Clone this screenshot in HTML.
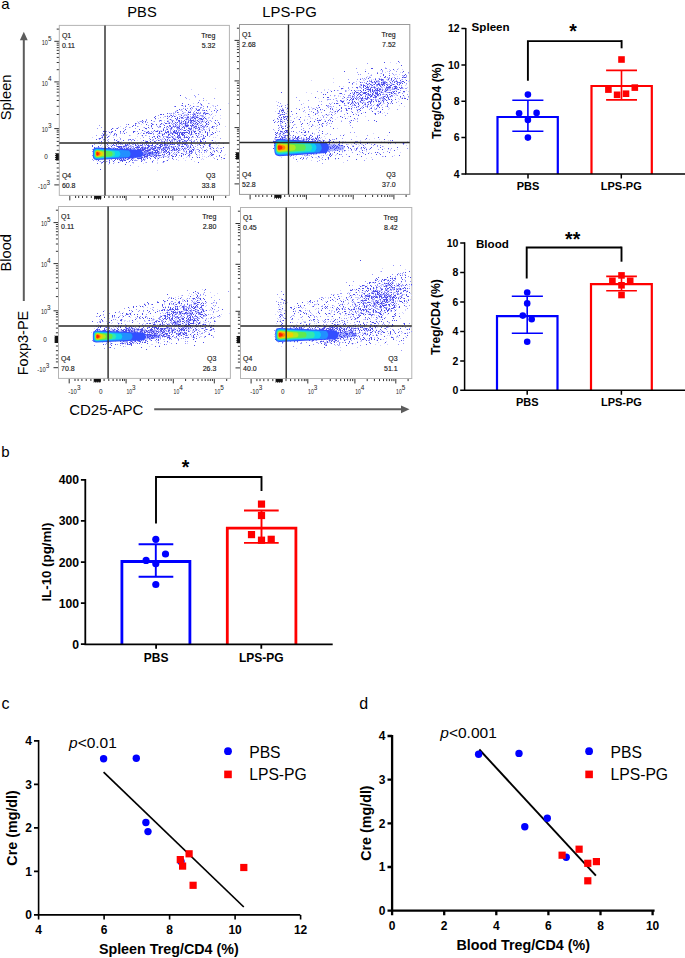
<!DOCTYPE html>
<html><head><meta charset="utf-8"><style>
html,body{margin:0;padding:0;background:#fff;}
body{width:685px;height:958px;overflow:hidden;}
svg{display:block;font-family:"Liberation Sans", sans-serif;}
</style></head><body>
<svg width="685" height="958" viewBox="0 0 685 958">
<defs><filter id="bl" x="-20%" y="-50%" width="140%" height="200%"><feGaussianBlur stdDeviation="0.55"/></filter></defs>
<rect width="685" height="958" fill="#fff"/>
<path d="M69.8 195.4v5M59.3 184.9h-5M126.1 195.4v5M59.3 128.6h-5M172.9 195.4v5M59.3 81.9h-5M213.5 195.4v5M59.3 41.3h-5M140.2 195.4v2.6M59.3 114.5h-2.6M148.5 195.4v2.6M59.3 106.3h-2.6M154.3 195.4v2.6M59.3 100.5h-2.6M158.8 195.4v2.6M59.3 95.9h-2.6M162.5 195.4v2.6M59.3 92.2h-2.6M165.7 195.4v2.6M59.3 89.1h-2.6M168.4 195.4v2.6M59.3 86.4h-2.6M170.8 195.4v2.6M59.3 84h-2.6M185.1 195.4v2.6M59.3 69.7h-2.6M192.3 195.4v2.6M59.3 62.5h-2.6M197.3 195.4v2.6M59.3 57.4h-2.6M201.3 195.4v2.6M59.3 53.5h-2.6M204.5 195.4v2.6M59.3 50.3h-2.6M207.2 195.4v2.6M59.3 47.6h-2.6M209.6 195.4v2.6M59.3 45.2h-2.6M211.6 195.4v2.6M59.3 43.2h-2.6M225.7 195.4v2.6M59.3 29.1h-2.6M104.5 195.4v2.6M59.3 150.3h-2.6M109 195.4v2.6M59.3 145.7h-2.6M113.3 195.4v2.6M59.3 141.4h-2.6M117.1 195.4v2.6M59.3 137.6h-2.6M120.2 195.4v2.6M59.3 134.6h-2.6M122.7 195.4v2.6M59.3 132.1h-2.6M124.5 195.4v2.6M59.3 130.3h-2.6M91.3 195.4v2.6M59.3 163.4h-2.6M86.8 195.4v2.6M59.3 168h-2.6M82.5 195.4v2.6M59.3 172.2h-2.6M78.7 195.4v2.6M59.3 176h-2.6M75.6 195.4v2.6M59.3 179.1h-2.6" stroke="#1a1a1a" stroke-width="0.9" fill="none"/>
<path d="M94.1 195.4h7.2v3.2l-1 1.3l-1-1.3l-1 1.3l-1-1.3l-1 1.3l-1-1.3l-1.2 1.3Z" fill="#111"/>
<path d="M59.3 153.2v7.2h-3.2l-1.3-1l1.3-1l-1.3-1l1.3-1l-1.3-1l1.3-1l-1.3-1.2Z" fill="#111"/>
<rect x="59.3" y="25.4" width="170.1" height="170" fill="none" stroke="#b4b4b4" stroke-width="1"/>
<text x="41.7" y="44.9" font-size="6.4" fill="#222"><tspan textLength="6.2" lengthAdjust="spacingAndGlyphs">10</tspan><tspan font-size="6.4" dy="-4.2">5</tspan></text>
<text x="41.7" y="85.5" font-size="6.4" fill="#222"><tspan textLength="6.2" lengthAdjust="spacingAndGlyphs">10</tspan><tspan font-size="6.4" dy="-4.2">4</tspan></text>
<text x="41.7" y="132.2" font-size="6.4" fill="#222"><tspan textLength="6.2" lengthAdjust="spacingAndGlyphs">10</tspan><tspan font-size="6.4" dy="-4.2">3</tspan></text>
<text x="38" y="188.9" font-size="6.4" fill="#222"><tspan textLength="8.5" lengthAdjust="spacingAndGlyphs">-10</tspan><tspan font-size="6.4" dy="-4.2">3</tspan></text>
<text x="47.7" y="159.1" font-size="6.4" fill="#222" text-anchor="end">0</text>
<path d="M250.1 194.4v5M239.5 183.9h-5M306.4 194.4v5M239.5 127.6h-5M353.2 194.4v5M239.5 80.9h-5M393.9 194.4v5M239.5 40.4h-5M320.5 194.4v2.6M239.5 113.6h-2.6M328.8 194.4v2.6M239.5 105.4h-2.6M334.6 194.4v2.6M239.5 99.5h-2.6M339.1 194.4v2.6M239.5 95h-2.6M342.8 194.4v2.6M239.5 91.3h-2.6M346 194.4v2.6M239.5 88.2h-2.6M348.7 194.4v2.6M239.5 85.5h-2.6M351.1 194.4v2.6M239.5 83.1h-2.6M365.5 194.4v2.6M239.5 68.7h-2.6M372.6 194.4v2.6M239.5 61.6h-2.6M377.7 194.4v2.6M239.5 56.5h-2.6M381.6 194.4v2.6M239.5 52.6h-2.6M384.9 194.4v2.6M239.5 49.4h-2.6M387.6 194.4v2.6M239.5 46.7h-2.6M389.9 194.4v2.6M239.5 44.3h-2.6M392 194.4v2.6M239.5 42.3h-2.6M406.1 194.4v2.6M239.5 28.2h-2.6M284.7 194.4v2.6M239.5 149.3h-2.6M289.3 194.4v2.6M239.5 144.7h-2.6M293.6 194.4v2.6M239.5 140.4h-2.6M297.4 194.4v2.6M239.5 136.7h-2.6M300.4 194.4v2.6M239.5 133.6h-2.6M302.9 194.4v2.6M239.5 131.1h-2.6M304.7 194.4v2.6M239.5 129.3h-2.6M271.6 194.4v2.6M239.5 162.4h-2.6M267 194.4v2.6M239.5 167h-2.6M262.7 194.4v2.6M239.5 171.2h-2.6M258.9 194.4v2.6M239.5 175h-2.6M255.8 194.4v2.6M239.5 178.1h-2.6" stroke="#1a1a1a" stroke-width="0.9" fill="none"/>
<path d="M274.3 194.4h7.2v3.2l-1 1.3l-1-1.3l-1 1.3l-1-1.3l-1 1.3l-1-1.3l-1.2 1.3Z" fill="#111"/>
<path d="M239.5 152.2v7.2h-3.2l-1.3-1l1.3-1l-1.3-1l1.3-1l-1.3-1l1.3-1l-1.3-1.2Z" fill="#111"/>
<rect x="239.5" y="24.5" width="170.3" height="169.9" fill="none" stroke="#9a9a9a" stroke-width="1"/>
<path d="M69.2 378.4v5M58.5 367.7h-5M126.1 378.4v5M58.5 310.8h-5M173.3 378.4v5M58.5 263.6h-5M214.3 378.4v5M58.5 222.6h-5M140.3 378.4v2.6M58.5 296.6h-2.6M148.6 378.4v2.6M58.5 288.3h-2.6M154.5 378.4v2.6M58.5 282.4h-2.6M159.1 378.4v2.6M58.5 277.8h-2.6M162.8 378.4v2.6M58.5 274.1h-2.6M166 378.4v2.6M58.5 270.9h-2.6M168.7 378.4v2.6M58.5 268.2h-2.6M171.1 378.4v2.6M58.5 265.8h-2.6M185.6 378.4v2.6M58.5 251.3h-2.6M192.9 378.4v2.6M58.5 244h-2.6M198 378.4v2.6M58.5 238.9h-2.6M202 378.4v2.6M58.5 234.9h-2.6M205.2 378.4v2.6M58.5 231.7h-2.6M208 378.4v2.6M58.5 228.9h-2.6M210.3 378.4v2.6M58.5 226.6h-2.6M212.4 378.4v2.6M58.5 224.5h-2.6M226.7 378.4v2.6M58.5 210.2h-2.6M104.1 378.4v2.6M58.5 332.8h-2.6M108.8 378.4v2.6M58.5 328.1h-2.6M113.1 378.4v2.6M58.5 323.8h-2.6M116.9 378.4v2.6M58.5 320h-2.6M120 378.4v2.6M58.5 316.9h-2.6M122.5 378.4v2.6M58.5 314.4h-2.6M124.3 378.4v2.6M58.5 312.6h-2.6M90.9 378.4v2.6M58.5 346h-2.6M86.2 378.4v2.6M58.5 350.7h-2.6M81.9 378.4v2.6M58.5 355h-2.6M78.1 378.4v2.6M58.5 358.8h-2.6M75 378.4v2.6M58.5 361.9h-2.6" stroke="#1a1a1a" stroke-width="0.9" fill="none"/>
<path d="M93.7 378.4h7.2v3.2l-1 1.3l-1-1.3l-1 1.3l-1-1.3l-1 1.3l-1-1.3l-1.2 1.3Z" fill="#111"/>
<path d="M58.5 335.8v7.2h-3.2l-1.3-1l1.3-1l-1.3-1l1.3-1l-1.3-1l1.3-1l-1.3-1.2Z" fill="#111"/>
<rect x="58.5" y="206.5" width="171.9" height="171.9" fill="none" stroke="#b4b4b4" stroke-width="1"/>
<text x="40.9" y="226.2" font-size="6.4" fill="#222"><tspan textLength="6.2" lengthAdjust="spacingAndGlyphs">10</tspan><tspan font-size="6.4" dy="-4.2">5</tspan></text>
<text x="40.9" y="267.2" font-size="6.4" fill="#222"><tspan textLength="6.2" lengthAdjust="spacingAndGlyphs">10</tspan><tspan font-size="6.4" dy="-4.2">4</tspan></text>
<text x="40.9" y="314.4" font-size="6.4" fill="#222"><tspan textLength="6.2" lengthAdjust="spacingAndGlyphs">10</tspan><tspan font-size="6.4" dy="-4.2">3</tspan></text>
<text x="37.2" y="371.7" font-size="6.4" fill="#222"><tspan textLength="8.5" lengthAdjust="spacingAndGlyphs">-10</tspan><tspan font-size="6.4" dy="-4.2">3</tspan></text>
<text x="46.9" y="341.7" font-size="6.4" fill="#222" text-anchor="end">0</text>
<text x="126.4" y="393.7" font-size="6.4" fill="#222"><tspan textLength="5.6" lengthAdjust="spacingAndGlyphs">10</tspan><tspan font-size="6.4" dy="-4.2">3</tspan></text>
<text x="173.6" y="393.7" font-size="6.4" fill="#222"><tspan textLength="5.6" lengthAdjust="spacingAndGlyphs">10</tspan><tspan font-size="6.4" dy="-4.2">4</tspan></text>
<text x="214.6" y="393.7" font-size="6.4" fill="#222"><tspan textLength="5.6" lengthAdjust="spacingAndGlyphs">10</tspan><tspan font-size="6.4" dy="-4.2">5</tspan></text>
<text x="68.3" y="393.7" font-size="6.4" fill="#222"><tspan textLength="8.6" lengthAdjust="spacingAndGlyphs">-10</tspan><tspan font-size="6.4" dy="-4.2">3</tspan></text>
<text x="100.8" y="393.7" font-size="6.4" fill="#222" text-anchor="middle">0</text>
<path d="M251.1 378.5v5M240.5 367.9h-5M307.8 378.5v5M240.5 311.3h-5M354.9 378.5v5M240.5 264.3h-5M395.8 378.5v5M240.5 223.5h-5M322 378.5v2.6M240.5 297.2h-2.6M330.3 378.5v2.6M240.5 288.9h-2.6M336.2 378.5v2.6M240.5 283h-2.6M340.7 378.5v2.6M240.5 278.4h-2.6M344.5 378.5v2.6M240.5 274.7h-2.6M347.6 378.5v2.6M240.5 271.6h-2.6M350.3 378.5v2.6M240.5 268.9h-2.6M352.7 378.5v2.6M240.5 266.5h-2.6M367.2 378.5v2.6M240.5 252h-2.6M374.4 378.5v2.6M240.5 244.8h-2.6M379.5 378.5v2.6M240.5 239.7h-2.6M383.5 378.5v2.6M240.5 235.8h-2.6M386.7 378.5v2.6M240.5 232.6h-2.6M389.4 378.5v2.6M240.5 229.8h-2.6M391.8 378.5v2.6M240.5 227.5h-2.6M393.9 378.5v2.6M240.5 225.4h-2.6M408.1 378.5v2.6M240.5 211.2h-2.6M286 378.5v2.6M240.5 333.1h-2.6M290.6 378.5v2.6M240.5 328.5h-2.6M294.9 378.5v2.6M240.5 324.2h-2.6M298.7 378.5v2.6M240.5 320.4h-2.6M301.8 378.5v2.6M240.5 317.3h-2.6M304.3 378.5v2.6M240.5 314.8h-2.6M306.1 378.5v2.6M240.5 313h-2.6M272.8 378.5v2.6M240.5 346.3h-2.6M268.1 378.5v2.6M240.5 350.9h-2.6M263.8 378.5v2.6M240.5 355.2h-2.6M260 378.5v2.6M240.5 359h-2.6M256.9 378.5v2.6M240.5 362.1h-2.6" stroke="#1a1a1a" stroke-width="0.9" fill="none"/>
<path d="M275.6 378.5h7.2v3.2l-1 1.3l-1-1.3l-1 1.3l-1-1.3l-1 1.3l-1-1.3l-1.2 1.3Z" fill="#111"/>
<path d="M240.5 336.1v7.2h-3.2l-1.3-1l1.3-1l-1.3-1l1.3-1l-1.3-1l1.3-1l-1.3-1.2Z" fill="#111"/>
<rect x="240.5" y="207.5" width="171.3" height="171" fill="none" stroke="#b4b4b4" stroke-width="1"/>
<text x="308.1" y="393.8" font-size="6.4" fill="#222"><tspan textLength="5.6" lengthAdjust="spacingAndGlyphs">10</tspan><tspan font-size="6.4" dy="-4.2">3</tspan></text>
<text x="355.2" y="393.8" font-size="6.4" fill="#222"><tspan textLength="5.6" lengthAdjust="spacingAndGlyphs">10</tspan><tspan font-size="6.4" dy="-4.2">4</tspan></text>
<text x="396.1" y="393.8" font-size="6.4" fill="#222"><tspan textLength="5.6" lengthAdjust="spacingAndGlyphs">10</tspan><tspan font-size="6.4" dy="-4.2">5</tspan></text>
<text x="250.2" y="393.8" font-size="6.4" fill="#222"><tspan textLength="8.6" lengthAdjust="spacingAndGlyphs">-10</tspan><tspan font-size="6.4" dy="-4.2">3</tspan></text>
<text x="282.7" y="393.8" font-size="6.4" fill="#222" text-anchor="middle">0</text>
<path d="M172 331.5h1M322 148.5h1M383 293.5h1M279 111.5h1M323 341.5h1M408 97.5h1M328 321.5h1M191 302.5h1M381 86.5h1M135 154.5h1M290 140.5h1M296 145.5h1M147 307.5h1M344 147.5h1M311 315.5h1M186 136.5h1M334 306.5h1M117 337.5h1M294 328.5h1M313 115.5h1M120 337.5h1M324 330.5h1M334 112.5h1M194 304.5h1M318 146.5h1M127 337.5h1M137 148.5h1M186 145.5h1M287 131.5h1M357 299.5h1M141 338.5h1M378 283.5h1M179 336.5h1M352 295.5h1M395 143.5h1M175 132.5h1M314 141.5h1M313 140.5h1M399 105.5h1M153 149.5h1M137 134.5h1M97 156.5h1M124 133.5h1M364 294.5h1M326 134.5h1M211 154.5h1M110 332.5h1M318 111.5h1M157 331.5h1M145 151.5h1M304 148.5h1M378 99.5h1M326 336.5h1M344 339.5h1M178 129.5h1M281 137.5h1M372 308.5h1M126 162.5h1M176 323.5h1M129 334.5h1M387 288.5h1M160 333.5h1M140 151.5h1M399 287.5h1M292 142.5h1M131 153.5h1M407 290.5h1M184 326.5h1M133 332.5h1M323 337.5h1M317 327.5h1M146 150.5h1M139 156.5h1M322 330.5h1M193 128.5h1M203 122.5h1M370 102.5h1M124 341.5h1M325 147.5h1M188 316.5h1M130 151.5h1M181 144.5h1M149 140.5h1M142 148.5h1M335 159.5h1M307 325.5h1M187 135.5h1M371 306.5h1M105 340.5h1M360 148.5h1M280 320.5h1M323 338.5h1M358 112.5h1M111 337.5h1M371 322.5h1M396 93.5h1M182 334.5h1M283 118.5h1M304 336.5h1M176 321.5h1M164 153.5h1M388 327.5h1M342 303.5h1M304 130.5h1M180 148.5h1M306 325.5h1M121 148.5h1M304 326.5h1M328 337.5h1M377 298.5h1M391 295.5h1M109 151.5h1M162 162.5h1M343 329.5h1M209 127.5h1M348 317.5h1M379 302.5h1M167 326.5h1M330 333.5h1M315 148.5h1M187 315.5h1M297 326.5h1M396 309.5h1M342 94.5h1M332 337.5h1M360 90.5h1M191 336.5h1M150 154.5h1M279 335.5h1M328 330.5h1M281 132.5h1M119 335.5h1M374 337.5h1M173 328.5h1M293 140.5h1M374 282.5h1M353 331.5h1M396 290.5h1M395 281.5h1M282 120.5h1M314 133.5h1M171 139.5h1M337 110.5h1M324 327.5h1M282 306.5h1M290 139.5h1M379 294.5h1M128 146.5h1M183 307.5h1M352 290.5h1M150 335.5h1M400 152.5h1M383 89.5h1M392 77.5h1M328 157.5h1M283 126.5h1M327 332.5h1M166 156.5h1M169 147.5h1M402 295.5h1M108 328.5h1M120 155.5h1M192 130.5h1M173 133.5h1M158 135.5h1M157 334.5h1M173 129.5h1M127 149.5h1M180 335.5h1M149 148.5h1M306 145.5h1M181 331.5h1M370 75.5h1M348 116.5h1M182 330.5h1M407 87.5h1M285 119.5h1M124 145.5h1M383 98.5h1M379 298.5h1M124 156.5h1M392 82.5h1M405 85.5h1M142 150.5h1M127 313.5h1M325 344.5h1M199 323.5h1M177 316.5h1M119 160.5h1M168 321.5h1M189 130.5h1M145 334.5h1M130 135.5h1M148 151.5h1M370 95.5h1M350 298.5h1M346 332.5h1M164 155.5h1M188 122.5h1M103 158.5h1M147 148.5h1M166 148.5h1M321 333.5h1M178 137.5h1M404 143.5h1M170 150.5h1M331 316.5h1M149 150.5h1M359 145.5h1M285 332.5h1M301 331.5h1M307 152.5h1M354 105.5h1M143 123.5h1M171 330.5h1M122 333.5h1M275 136.5h1M319 101.5h1M216 144.5h1M326 145.5h1M365 306.5h1M396 79.5h1M397 301.5h1M274 334.5h1M183 311.5h1M186 117.5h1M204 151.5h1M186 313.5h1M364 85.5h1M200 336.5h1M109 159.5h1M384 148.5h1M330 334.5h1M95 151.5h1M293 141.5h1M377 92.5h1M364 150.5h1M345 340.5h1M214 325.5h1M379 95.5h1M160 147.5h1M374 331.5h1M198 151.5h1M280 124.5h1M185 144.5h1M193 129.5h1M124 340.5h1M404 97.5h1M357 111.5h1M330 329.5h1M159 333.5h1M187 156.5h1M383 103.5h1M371 74.5h1M334 332.5h1M186 125.5h1M325 336.5h1M137 152.5h1M165 316.5h1M102 337.5h1M104 336.5h1M376 329.5h1M179 149.5h1M394 296.5h1M206 126.5h1M363 311.5h1M329 99.5h1M143 334.5h1M132 153.5h1M183 121.5h1M302 153.5h1M312 132.5h1M383 92.5h1M125 338.5h1M186 299.5h1M293 158.5h1M290 143.5h1M141 141.5h1M183 301.5h1M185 339.5h1M153 333.5h1M353 329.5h1M172 322.5h1M275 138.5h1M359 308.5h1M159 335.5h1M393 89.5h1M213 336.5h1M127 338.5h1M389 108.5h1M403 313.5h1M198 127.5h1M101 151.5h1M181 314.5h1M361 94.5h1M165 330.5h1M311 330.5h1M387 301.5h1M154 334.5h1M396 286.5h1M126 155.5h1M182 123.5h1M352 100.5h1M354 148.5h1M144 150.5h1M174 138.5h1M132 335.5h1M302 150.5h1M363 99.5h1M327 335.5h1M374 292.5h1M198 307.5h1M306 146.5h1M181 114.5h1M402 285.5h1M305 308.5h1M126 336.5h1M199 114.5h1M340 154.5h1M371 314.5h1M199 151.5h1M348 309.5h1M364 302.5h1M322 328.5h1M202 126.5h1M401 285.5h1M195 134.5h1M162 321.5h1M121 157.5h1M386 297.5h1M322 305.5h1M176 141.5h1M101 335.5h1M401 79.5h1M117 148.5h1M97 161.5h1M120 161.5h1M395 277.5h1M312 143.5h1M287 326.5h1M116 331.5h1M212 151.5h1M330 154.5h1M386 299.5h1M97 332.5h1M95 154.5h1M386 79.5h1M201 336.5h1M140 339.5h1M385 310.5h1M323 340.5h1M352 146.5h1M200 309.5h1M344 104.5h1M169 342.5h1M174 147.5h1M351 332.5h1M330 328.5h1M307 334.5h1M193 332.5h1M107 342.5h1M389 297.5h1M397 300.5h1M404 106.5h1M134 154.5h1M371 100.5h1M108 148.5h1M286 292.5h1M354 302.5h1M380 99.5h1M282 325.5h1M281 138.5h1M389 292.5h1M115 338.5h1M163 330.5h1M160 325.5h1M185 326.5h1M398 294.5h1M191 110.5h1M373 82.5h1M316 142.5h1M358 100.5h1M171 311.5h1M121 340.5h1M333 305.5h1M199 124.5h1M110 333.5h1M350 314.5h1M311 331.5h1M186 126.5h1M372 83.5h1M342 101.5h1M144 332.5h1M341 339.5h1M305 153.5h1M178 322.5h1M355 113.5h1M99 161.5h1M150 145.5h1M308 125.5h1M111 143.5h1M336 107.5h1M169 329.5h1M384 94.5h1M187 123.5h1M171 332.5h1M175 122.5h1M123 153.5h1M334 111.5h1M125 336.5h1M376 82.5h1M185 323.5h1M184 333.5h1M314 146.5h1M155 119.5h1M311 93.5h1M156 156.5h1M166 330.5h1M157 158.5h1M379 93.5h1M378 286.5h1M286 109.5h1M100 322.5h1M129 330.5h1M111 131.5h1M143 150.5h1M302 147.5h1M210 309.5h1M331 337.5h1M191 118.5h1M351 144.5h1M398 299.5h1M349 97.5h1M288 140.5h1M308 302.5h1M292 335.5h1M212 303.5h1M122 133.5h1M356 297.5h1M102 342.5h1M146 332.5h1M135 155.5h1M168 122.5h1M303 153.5h1M119 340.5h1M323 336.5h1M386 87.5h1M398 85.5h1M362 142.5h1M118 159.5h1M144 328.5h1M133 331.5h1M372 90.5h1M363 328.5h1M127 151.5h1M328 328.5h1M128 330.5h1M149 128.5h1M380 100.5h1M203 146.5h1M388 87.5h1M178 303.5h1M310 147.5h1M132 157.5h1M223 147.5h1M175 316.5h1M173 315.5h1M176 149.5h1M301 153.5h1M319 339.5h1M112 333.5h1M277 108.5h1M337 148.5h1M373 314.5h1M361 292.5h1M183 123.5h1M168 330.5h1M126 339.5h1M130 147.5h1M367 87.5h1M204 327.5h1M395 74.5h1M347 144.5h1M335 341.5h1M183 327.5h1M172 151.5h1M288 332.5h1M302 338.5h1M198 298.5h1M123 330.5h1M195 334.5h1M304 119.5h1M304 143.5h1M375 80.5h1M373 133.5h1M281 117.5h1M186 322.5h1M311 341.5h1M139 334.5h1M300 142.5h1M334 326.5h1M169 133.5h1M108 335.5h1M344 146.5h1M367 319.5h1M154 338.5h1M358 92.5h1M388 290.5h1M161 140.5h1M328 316.5h1M167 145.5h1M203 136.5h1M158 130.5h1M177 324.5h1M380 92.5h1M129 155.5h1M372 85.5h1M181 120.5h1M170 319.5h1M360 327.5h1M285 140.5h1M204 322.5h1M133 326.5h1M149 329.5h1M326 341.5h1M149 146.5h1M281 118.5h1M341 333.5h1M282 147.5h1M162 326.5h1M335 331.5h1M201 308.5h1M330 108.5h1M110 158.5h1M213 157.5h1M382 85.5h1M372 100.5h1M360 78.5h1M137 331.5h1M166 126.5h1M168 133.5h1M305 112.5h1M154 152.5h1M128 147.5h1M372 300.5h1M319 153.5h1M282 110.5h1M124 151.5h1M121 330.5h1M393 283.5h1M352 103.5h1M190 149.5h1M353 146.5h1M170 325.5h1M160 133.5h1M305 321.5h1M143 307.5h1M373 306.5h1M154 146.5h1M95 331.5h1M329 328.5h1M305 156.5h1M142 337.5h1M195 130.5h1M171 119.5h1M184 315.5h1M322 145.5h1M301 334.5h1M177 306.5h1M321 125.5h1M126 342.5h1M188 312.5h1M324 115.5h1M329 342.5h1M365 99.5h1M365 116.5h1M154 335.5h1M207 123.5h1M343 327.5h1M281 123.5h1M367 88.5h1M295 310.5h1M279 145.5h1M121 335.5h1M324 136.5h1M377 107.5h1M286 148.5h1M369 143.5h1M404 77.5h1M171 148.5h1M172 136.5h1M212 140.5h1M163 124.5h1M286 312.5h1M119 152.5h1M393 292.5h1M388 324.5h1M389 335.5h1M188 321.5h1M186 311.5h1M325 114.5h1M191 312.5h1M130 149.5h1M185 114.5h1M382 326.5h1M392 289.5h1M189 155.5h1M396 340.5h1M179 139.5h1M316 330.5h1M167 149.5h1M186 140.5h1M194 123.5h1M124 334.5h1M363 100.5h1M153 318.5h1M210 156.5h1M362 297.5h1M305 116.5h1M137 328.5h1M143 330.5h1M317 139.5h1M114 331.5h1M189 147.5h1M396 94.5h1M179 320.5h1M137 144.5h1M216 130.5h1M184 114.5h1M351 329.5h1M394 86.5h1M135 327.5h1M288 336.5h1M344 315.5h1M393 86.5h1M370 319.5h1M383 339.5h1M313 154.5h1M278 309.5h1M301 148.5h1M361 286.5h1M111 330.5h1M164 141.5h1M198 297.5h1M214 302.5h1M186 127.5h1M180 110.5h1M105 137.5h1M304 330.5h1M407 332.5h1M125 331.5h1M328 115.5h1M156 153.5h1M188 153.5h1M102 339.5h1M128 157.5h1M403 75.5h1M177 135.5h1M352 327.5h1M183 323.5h1M133 154.5h1M163 150.5h1M144 333.5h1M179 123.5h1M328 150.5h1M279 337.5h1M154 319.5h1M114 317.5h1M177 132.5h1M165 334.5h1M207 126.5h1M161 335.5h1M124 331.5h1M390 303.5h1M168 332.5h1M366 325.5h1M191 126.5h1M163 155.5h1M288 134.5h1M212 329.5h1M151 334.5h1M115 158.5h1M368 89.5h1M193 136.5h1M392 89.5h1M317 143.5h1M119 150.5h1M185 112.5h1M280 130.5h1M181 153.5h1M395 90.5h1M308 145.5h1M152 146.5h1M194 106.5h1M168 327.5h1M370 333.5h1M180 317.5h1M344 100.5h1M146 154.5h1M394 95.5h1M357 106.5h1M357 341.5h1M110 148.5h1M202 109.5h1M280 317.5h1M289 145.5h1M308 328.5h1M344 337.5h1M206 322.5h1M197 333.5h1M139 157.5h1M382 94.5h1M176 330.5h1M199 316.5h1M331 112.5h1M144 329.5h1M186 131.5h1M327 301.5h1M323 333.5h1M169 317.5h1M141 337.5h1M127 329.5h1M343 88.5h1M307 119.5h1M312 338.5h1M335 328.5h1M167 338.5h1M172 146.5h1M349 294.5h1M303 139.5h1M105 154.5h1M172 318.5h1M210 147.5h1M191 120.5h1M304 339.5h1M296 149.5h1M392 84.5h1M160 332.5h1M314 323.5h1M304 149.5h1M294 316.5h1M293 335.5h1M373 86.5h1M188 295.5h1M192 107.5h1M313 319.5h1M167 334.5h1M370 91.5h1M347 97.5h1M145 147.5h1M167 128.5h1M125 151.5h1M178 160.5h1M291 148.5h1M177 129.5h1M149 333.5h1M190 323.5h1M315 330.5h1M194 118.5h1M329 330.5h1M359 302.5h1M96 153.5h1M341 296.5h1M292 138.5h1M164 133.5h1M368 90.5h1M144 157.5h1M150 150.5h1M198 325.5h1M386 341.5h1M101 147.5h1M187 322.5h1M135 160.5h1M191 140.5h1M189 157.5h1M356 318.5h1M309 122.5h1M327 337.5h1M161 155.5h1M393 282.5h1M279 137.5h1M152 344.5h1M296 117.5h1M283 139.5h1M121 153.5h1M160 131.5h1M171 123.5h1M170 153.5h1M149 152.5h1M386 106.5h1M379 303.5h1M123 341.5h1M161 151.5h1M125 330.5h1M141 336.5h1M206 127.5h1M325 148.5h1M356 90.5h1M133 144.5h1M320 328.5h1M387 290.5h1M130 148.5h1M279 112.5h1M363 96.5h1M354 328.5h1M208 121.5h1M198 115.5h1M401 86.5h1M163 326.5h1M98 153.5h1M186 132.5h1M120 313.5h1M132 156.5h1M176 133.5h1M294 306.5h1M357 327.5h1M330 327.5h1M322 333.5h1M297 138.5h1M123 332.5h1M306 148.5h1M356 107.5h1M386 294.5h1M176 131.5h1M118 155.5h1M116 317.5h1M146 148.5h1M384 291.5h1M118 152.5h1M120 126.5h1M287 330.5h1M408 91.5h1M174 314.5h1M295 333.5h1M390 326.5h1M358 107.5h1M384 336.5h1M138 328.5h1M130 332.5h1M96 326.5h1M186 121.5h1M315 157.5h1M367 95.5h1M373 295.5h1M174 150.5h1M112 322.5h1M355 334.5h1M166 335.5h1M379 112.5h1M299 142.5h1M170 129.5h1M173 316.5h1M335 119.5h1M332 321.5h1M344 328.5h1M334 334.5h1M162 336.5h1M157 320.5h1M377 86.5h1M134 148.5h1M163 152.5h1M204 120.5h1M379 139.5h1M209 310.5h1M277 119.5h1M294 143.5h1M387 97.5h1M377 80.5h1M139 149.5h1M388 305.5h1M386 300.5h1M354 94.5h1M122 157.5h1M187 132.5h1M393 304.5h1M366 312.5h1M113 147.5h1M352 93.5h1M216 109.5h1M358 335.5h1M274 139.5h1M160 146.5h1M287 141.5h1M290 152.5h1M192 323.5h1M129 152.5h1M192 136.5h1M153 121.5h1M132 334.5h1M406 77.5h1M319 134.5h1M215 115.5h1M194 338.5h1M120 329.5h1M176 148.5h1M326 328.5h1M184 132.5h1M184 138.5h1M310 134.5h1M127 321.5h1M152 327.5h1M165 328.5h1M343 86.5h1M328 335.5h1M365 318.5h1M307 332.5h1M322 320.5h1M293 138.5h1M142 146.5h1M365 308.5h1M374 338.5h1M399 74.5h1M177 142.5h1M367 104.5h1M149 332.5h1M108 157.5h1M139 338.5h1M131 336.5h1M203 159.5h1M284 310.5h1M313 336.5h1M191 130.5h1M160 136.5h1M176 147.5h1M173 136.5h1M156 146.5h1M124 147.5h1M305 331.5h1M316 146.5h1M350 96.5h1M346 330.5h1M137 157.5h1M366 85.5h1M113 155.5h1M203 112.5h1M102 150.5h1M347 328.5h1M334 331.5h1M202 117.5h1M405 336.5h1M183 106.5h1M208 332.5h1M329 143.5h1M101 157.5h1M388 107.5h1M378 81.5h1M144 148.5h1M375 319.5h1M368 301.5h1M147 317.5h1M175 130.5h1M334 152.5h1M195 116.5h1M375 291.5h1M118 324.5h1M350 332.5h1M211 140.5h1M383 284.5h1M360 334.5h1M113 149.5h1M115 156.5h1M141 155.5h1M143 148.5h1M190 120.5h1M319 119.5h1M324 89.5h1M399 83.5h1M297 342.5h1M325 138.5h1M158 331.5h1M387 135.5h1M142 335.5h1M134 340.5h1M328 89.5h1M172 154.5h1M106 341.5h1M162 156.5h1M126 157.5h1M393 325.5h1M295 329.5h1M182 125.5h1M122 160.5h1M194 316.5h1M119 154.5h1M195 137.5h1M175 317.5h1M381 141.5h1M337 117.5h1M317 148.5h1M334 335.5h1M279 148.5h1M391 301.5h1M160 137.5h1M208 145.5h1M197 118.5h1M382 311.5h1M371 317.5h1M114 332.5h1M153 152.5h1M373 79.5h1M125 333.5h1M364 313.5h1M279 328.5h1M321 155.5h1M288 138.5h1M386 283.5h1M144 145.5h1M374 309.5h1M309 338.5h1M123 335.5h1M377 339.5h1M131 339.5h1M341 120.5h1M295 332.5h1M357 333.5h1M103 154.5h1M103 153.5h1M130 127.5h1M128 338.5h1M106 145.5h1M206 319.5h1M121 337.5h1M189 127.5h1M212 314.5h1M114 333.5h1M139 330.5h1M141 333.5h1M169 137.5h1M284 313.5h1M352 318.5h1M185 122.5h1M169 310.5h1M334 340.5h1M350 310.5h1M113 145.5h1M184 322.5h1M340 350.5h1M395 93.5h1M135 335.5h1M138 149.5h1M143 325.5h1M210 115.5h1M367 311.5h1M143 159.5h1M118 327.5h1M331 145.5h1M336 142.5h1M113 340.5h1M346 91.5h1M122 343.5h1M204 336.5h1M322 140.5h1M332 147.5h1M363 307.5h1M325 150.5h1M378 104.5h1M380 345.5h1M225 126.5h1M340 306.5h1M340 105.5h1M374 107.5h1M374 290.5h1M384 295.5h1M191 320.5h1M386 302.5h1M366 334.5h1M98 138.5h1M180 305.5h1M348 144.5h1M284 116.5h1M195 122.5h1M164 122.5h1M316 129.5h1M157 130.5h1M169 325.5h1M376 80.5h1M321 334.5h1M366 82.5h1M174 320.5h1M282 140.5h1M316 308.5h1M387 286.5h1M371 86.5h1M336 154.5h1M123 152.5h1M145 131.5h1M369 313.5h1M102 138.5h1M122 147.5h1M373 335.5h1M380 308.5h1M360 329.5h1M213 106.5h1M122 337.5h1M377 91.5h1M316 335.5h1M366 158.5h1M202 120.5h1M135 317.5h1M393 307.5h1M172 329.5h1M310 331.5h1M199 150.5h1M195 113.5h1M321 149.5h1M324 335.5h1M335 319.5h1M392 277.5h1M381 298.5h1M155 147.5h1M129 149.5h1M400 285.5h1M163 151.5h1M119 153.5h1M140 158.5h1M99 326.5h1M318 148.5h1M160 343.5h1M114 151.5h1M350 316.5h1M217 131.5h1M156 334.5h1M129 308.5h1M283 335.5h1M122 148.5h1M357 97.5h1M197 116.5h1M356 136.5h1M312 141.5h1M400 318.5h1M396 283.5h1M153 153.5h1M367 306.5h1M212 117.5h1M183 142.5h1M191 335.5h1M140 144.5h1M356 321.5h1M384 343.5h1M184 133.5h1M165 130.5h1M178 145.5h1M136 335.5h1M141 334.5h1M210 149.5h1M388 302.5h1M292 330.5h1M133 159.5h1M334 143.5h1M137 317.5h1M312 140.5h1M317 158.5h1M193 324.5h1M133 149.5h1M176 111.5h1M193 125.5h1M108 338.5h1M313 150.5h1M198 133.5h1M190 330.5h1M133 343.5h1M337 338.5h1M138 123.5h1M400 283.5h1M325 339.5h1M399 286.5h1M125 346.5h1M340 342.5h1M137 121.5h1M330 150.5h1M198 134.5h1M359 90.5h1M343 299.5h1M123 329.5h1M133 342.5h1M335 326.5h1M293 326.5h1M187 115.5h1M358 311.5h1M332 143.5h1M331 341.5h1M197 144.5h1M308 150.5h1M173 134.5h1M334 148.5h1M128 334.5h1M154 147.5h1M398 82.5h1M125 153.5h1M296 330.5h1M147 338.5h1M172 120.5h1M352 305.5h1M138 152.5h1M341 304.5h1M312 314.5h1M186 137.5h1M119 137.5h1M109 135.5h1M168 144.5h1M333 337.5h1M166 316.5h1M179 134.5h1M359 295.5h1M132 337.5h1M312 330.5h1M356 335.5h1M403 88.5h1M153 320.5h1M201 129.5h1M203 125.5h1M395 85.5h1M198 326.5h1M316 145.5h1M277 328.5h1M380 271.5h1M311 313.5h1M293 157.5h1M198 125.5h1M194 303.5h1M158 329.5h1M127 335.5h1M295 147.5h1M309 326.5h1M315 304.5h1M147 328.5h1M144 144.5h1M205 319.5h1M152 149.5h1M134 152.5h1M190 313.5h1M145 158.5h1M307 335.5h1M169 156.5h1M370 87.5h1M301 342.5h1M196 307.5h1M347 338.5h1M140 121.5h1M185 149.5h1M120 334.5h1M118 150.5h1M180 322.5h1M127 339.5h1M99 340.5h1M125 148.5h1M330 314.5h1M276 330.5h1M199 116.5h1M194 323.5h1M106 149.5h1M280 304.5h1M176 319.5h1M353 299.5h1M195 329.5h1M340 96.5h1M149 155.5h1M338 294.5h1M326 152.5h1M410 293.5h1M119 332.5h1M379 293.5h1M374 96.5h1M193 323.5h1M353 315.5h1M184 126.5h1M197 329.5h1M108 316.5h1M160 130.5h1M175 153.5h1M318 339.5h1M303 333.5h1M327 339.5h1M375 301.5h1M302 134.5h1M159 125.5h1M169 143.5h1M178 326.5h1M211 149.5h1M341 116.5h1M158 143.5h1M354 289.5h1M192 313.5h1M148 330.5h1M348 82.5h1M120 340.5h1M168 121.5h1M110 329.5h1M111 156.5h1M118 312.5h1M377 99.5h1M278 335.5h1M380 73.5h1M163 147.5h1M362 286.5h1M364 88.5h1M111 334.5h1M181 124.5h1M293 329.5h1M360 303.5h1M383 294.5h1M348 300.5h1M356 94.5h1M134 342.5h1M122 334.5h1M346 100.5h1M115 145.5h1M346 112.5h1M143 157.5h1M150 338.5h1M137 338.5h1M193 320.5h1M351 319.5h1M202 326.5h1M127 158.5h1M160 338.5h1M210 329.5h1M378 293.5h1M196 120.5h1M184 117.5h1M183 115.5h1M96 335.5h1M295 330.5h1M203 119.5h1M112 151.5h1M193 304.5h1M147 336.5h1M315 143.5h1M161 148.5h1M361 88.5h1M365 312.5h1M367 298.5h1M367 85.5h1M343 141.5h1M110 154.5h1M322 329.5h1M105 147.5h1M382 96.5h1M402 81.5h1M339 332.5h1M383 86.5h1M353 312.5h1M208 318.5h1M319 130.5h1M300 335.5h1M138 332.5h1M185 308.5h1M280 122.5h1M120 146.5h1M165 150.5h1M118 156.5h1M131 157.5h1M126 338.5h1M185 108.5h1M363 310.5h1M302 319.5h1M368 305.5h1M353 102.5h1M132 150.5h1M145 332.5h1M201 159.5h1M152 332.5h1M302 334.5h1M285 142.5h1M356 98.5h1M361 149.5h1M143 155.5h1M179 313.5h1M393 305.5h1M382 317.5h1M285 151.5h1M155 337.5h1M188 121.5h1M176 318.5h1M136 340.5h1M199 329.5h1M183 318.5h1M396 293.5h1M308 141.5h1M166 310.5h1M318 115.5h1M137 333.5h1M382 97.5h1M282 122.5h1M355 331.5h1M390 298.5h1M300 121.5h1M93 331.5h1M385 83.5h1M366 88.5h1M362 305.5h1M359 313.5h1M317 145.5h1M129 321.5h1M298 319.5h1M393 298.5h1M116 151.5h1M170 146.5h1M377 309.5h1M174 330.5h1M141 124.5h1M114 143.5h1M157 309.5h1M122 154.5h1M323 328.5h1M162 123.5h1M133 321.5h1M398 290.5h1M131 332.5h1M356 83.5h1M183 329.5h1M140 331.5h1M209 120.5h1M364 300.5h1M126 337.5h1M381 82.5h1M192 310.5h1M190 130.5h1M114 147.5h1M122 146.5h1M111 155.5h1M308 335.5h1M127 147.5h1M335 95.5h1M122 156.5h1M374 315.5h1M108 131.5h1M342 305.5h1M194 327.5h1M105 155.5h1M158 153.5h1M328 336.5h1M147 156.5h1M143 336.5h1M307 143.5h1M206 157.5h1M181 110.5h1M315 144.5h1M112 329.5h1M289 125.5h1M365 85.5h1M95 152.5h1M180 122.5h1M405 274.5h1M378 301.5h1M340 111.5h1M210 134.5h1M359 292.5h1M141 145.5h1M311 143.5h1M381 101.5h1M169 333.5h1M110 341.5h1M147 154.5h1M358 146.5h1M290 329.5h1M402 97.5h1M132 151.5h1M320 110.5h1M381 78.5h1M328 297.5h1M303 142.5h1M353 103.5h1M178 320.5h1M144 153.5h1M325 151.5h1M375 144.5h1M118 158.5h1M97 149.5h1M213 116.5h1M132 144.5h1M176 150.5h1M124 337.5h1M104 155.5h1M161 146.5h1M191 89.5h1M384 141.5h1M388 310.5h1M397 76.5h1M294 145.5h1M138 329.5h1M374 104.5h1M377 327.5h1M375 328.5h1M410 327.5h1M301 322.5h1M346 98.5h1M162 315.5h1M325 334.5h1M396 74.5h1M136 148.5h1M295 335.5h1M123 312.5h1M184 136.5h1M138 150.5h1M164 136.5h1M116 333.5h1M357 94.5h1M298 328.5h1M122 335.5h1M390 94.5h1M163 134.5h1M327 334.5h1M156 144.5h1M365 94.5h1M281 298.5h1M359 285.5h1M181 126.5h1M141 148.5h1M131 335.5h1M115 334.5h1M165 308.5h1M174 331.5h1M147 151.5h1M126 151.5h1M158 156.5h1M138 335.5h1M327 341.5h1M354 96.5h1M164 337.5h1M397 335.5h1M195 124.5h1M306 134.5h1M377 308.5h1M310 151.5h1M372 306.5h1M393 290.5h1M379 85.5h1M333 330.5h1M381 295.5h1M143 152.5h1M353 306.5h1M122 153.5h1M111 150.5h1M325 329.5h1M360 341.5h1M396 90.5h1M305 147.5h1M112 160.5h1M349 123.5h1M156 333.5h1M336 327.5h1M199 120.5h1M203 121.5h1M173 147.5h1M117 139.5h1M324 344.5h1M304 150.5h1M190 308.5h1M336 332.5h1M128 149.5h1M175 154.5h1M351 90.5h1M121 152.5h1M134 158.5h1M120 156.5h1M398 337.5h1M297 142.5h1M308 116.5h1M360 94.5h1M202 289.5h1M284 138.5h1M171 146.5h1M386 292.5h1M145 159.5h1M129 150.5h1M278 134.5h1M201 130.5h1M316 154.5h1M315 340.5h1M355 329.5h1M172 332.5h1M133 155.5h1M181 326.5h1M283 134.5h1M311 326.5h1M152 148.5h1M331 329.5h1M186 321.5h1M142 328.5h1M151 146.5h1M136 333.5h1M383 285.5h1M328 114.5h1M352 333.5h1M313 143.5h1M99 148.5h1M102 154.5h1M306 147.5h1M350 120.5h1M366 151.5h1M196 316.5h1M142 147.5h1M366 83.5h1M120 338.5h1M400 92.5h1M403 92.5h1M119 323.5h1M387 277.5h1M175 314.5h1M336 139.5h1M376 306.5h1M388 296.5h1M373 301.5h1M343 335.5h1M106 335.5h1M122 151.5h1M163 154.5h1M124 155.5h1M125 339.5h1M140 335.5h1M375 280.5h1M159 332.5h1M325 297.5h1M134 335.5h1M278 319.5h1M322 332.5h1M110 335.5h1M390 287.5h1M310 153.5h1M95 153.5h1M372 315.5h1M183 314.5h1M410 299.5h1M378 316.5h1M387 71.5h1M144 155.5h1M381 87.5h1M191 123.5h1M328 106.5h1M340 327.5h1M342 150.5h1M388 284.5h1M140 149.5h1M165 148.5h1M339 149.5h1M360 152.5h1M382 268.5h1M282 314.5h1M133 329.5h1M357 119.5h1M354 330.5h1M333 341.5h1M130 146.5h1M356 312.5h1M113 151.5h1M202 150.5h1M202 147.5h1M151 330.5h1M289 339.5h1M107 161.5h1M372 96.5h1M111 147.5h1M339 345.5h1M342 326.5h1M167 129.5h1M326 331.5h1M388 279.5h1M128 144.5h1M146 155.5h1M377 300.5h1M291 147.5h1M172 312.5h1M281 341.5h1M117 334.5h1M377 332.5h1M135 138.5h1M406 88.5h1M385 286.5h1M288 135.5h1M111 154.5h1M182 300.5h1M182 145.5h1M152 323.5h1M127 332.5h1M385 90.5h1M106 342.5h1M167 329.5h1M197 142.5h1M168 312.5h1M301 154.5h1M395 300.5h1M324 334.5h1M123 336.5h1M304 338.5h1M280 143.5h1M329 106.5h1M190 314.5h1M317 147.5h1M372 301.5h1M291 151.5h1M334 327.5h1M159 324.5h1M384 103.5h1M286 125.5h1M107 151.5h1M130 155.5h1M391 93.5h1M366 299.5h1M323 327.5h1M382 291.5h1M193 120.5h1M280 319.5h1M160 126.5h1M181 328.5h1M389 90.5h1M151 147.5h1M114 152.5h1M128 327.5h1M344 116.5h1M164 341.5h1M383 156.5h1M310 117.5h1M290 330.5h1M341 308.5h1M194 116.5h1M280 307.5h1M142 330.5h1M187 338.5h1M107 152.5h1M311 337.5h1M185 134.5h1M367 309.5h1M163 139.5h1M311 160.5h1M336 326.5h1M358 144.5h1M95 148.5h1M345 314.5h1M161 334.5h1M401 281.5h1M366 322.5h1M330 342.5h1M339 318.5h1M171 313.5h1M373 312.5h1M184 125.5h1M386 296.5h1M186 120.5h1M195 312.5h1M213 318.5h1M330 146.5h1M195 144.5h1M187 323.5h1M288 139.5h1M202 128.5h1M404 303.5h1M327 336.5h1M376 91.5h1M348 339.5h1M194 313.5h1M180 311.5h1M214 150.5h1M153 332.5h1M125 344.5h1M151 320.5h1M318 157.5h1M332 334.5h1M164 339.5h1M99 319.5h1M188 320.5h1M364 309.5h1M309 138.5h1M344 134.5h1M330 117.5h1M292 137.5h1M302 132.5h1M209 324.5h1M206 124.5h1M301 335.5h1M170 113.5h1M133 156.5h1M377 293.5h1M399 87.5h1M406 145.5h1M168 117.5h1M285 137.5h1M149 337.5h1M140 153.5h1M131 143.5h1M183 139.5h1M134 153.5h1M116 142.5h1M390 283.5h1M403 285.5h1M121 321.5h1M348 331.5h1M215 108.5h1M362 333.5h1M399 296.5h1M279 133.5h1M123 145.5h1M135 330.5h1M363 325.5h1M206 129.5h1M210 314.5h1M192 330.5h1M153 142.5h1M166 128.5h1M337 335.5h1M281 105.5h1M106 154.5h1M376 308.5h1M377 94.5h1M385 290.5h1M353 302.5h1M192 331.5h1M386 293.5h1M390 83.5h1M364 303.5h1M365 297.5h1M190 123.5h1M157 162.5h1M120 315.5h1M401 81.5h1M146 335.5h1M297 133.5h1M381 98.5h1M123 132.5h1M166 336.5h1M196 117.5h1M363 101.5h1M161 320.5h1M137 136.5h1M378 88.5h1M303 307.5h1M138 151.5h1M124 320.5h1M96 158.5h1M186 134.5h1M308 331.5h1M366 78.5h1M300 138.5h1M185 121.5h1M162 133.5h1M371 316.5h1M404 274.5h1M341 108.5h1M163 145.5h1M359 94.5h1M121 338.5h1M158 342.5h1M183 309.5h1M344 322.5h1M284 139.5h1M195 151.5h1M333 110.5h1M199 300.5h1M136 334.5h1M165 306.5h1M105 329.5h1M360 100.5h1M356 81.5h1M118 149.5h1M209 132.5h1M298 336.5h1M161 130.5h1M377 111.5h1M185 124.5h1M196 329.5h1M325 326.5h1M332 333.5h1M115 341.5h1M393 301.5h1M306 150.5h1M316 331.5h1M155 151.5h1M190 144.5h1M380 319.5h1M310 142.5h1M363 319.5h1M309 332.5h1M129 339.5h1M323 144.5h1M325 141.5h1M119 156.5h1M147 341.5h1M408 325.5h1M188 119.5h1M337 128.5h1M373 317.5h1M406 329.5h1M189 140.5h1M391 296.5h1M359 330.5h1M406 303.5h1M199 333.5h1M380 88.5h1M286 333.5h1M158 144.5h1M161 124.5h1M405 306.5h1M387 83.5h1M169 139.5h1M377 291.5h1M343 339.5h1M361 82.5h1M348 90.5h1M195 304.5h1M206 314.5h1M193 146.5h1M121 150.5h1M366 335.5h1M206 100.5h1M280 141.5h1M193 126.5h1M357 92.5h1M173 335.5h1M140 333.5h1M328 144.5h1M326 334.5h1M183 151.5h1M352 330.5h1M110 145.5h1M205 310.5h1M319 145.5h1M174 113.5h1M204 311.5h1M289 329.5h1M183 155.5h1M284 152.5h1M377 287.5h1M383 146.5h1M338 90.5h1M324 329.5h1M185 327.5h1M358 103.5h1M120 159.5h1M167 335.5h1M181 147.5h1M202 132.5h1M189 308.5h1M206 152.5h1M362 102.5h1M206 331.5h1M202 149.5h1M371 92.5h1M186 150.5h1M160 127.5h1M145 331.5h1M320 150.5h1M340 335.5h1M343 336.5h1M401 295.5h1M107 150.5h1M203 311.5h1M190 143.5h1M180 117.5h1M311 327.5h1M104 161.5h1M165 333.5h1M280 312.5h1M318 330.5h1M357 109.5h1M215 88.5h1M172 126.5h1M106 142.5h1M169 158.5h1M318 310.5h1M366 89.5h1M374 303.5h1M148 335.5h1M364 103.5h1M393 329.5h1M351 325.5h1M357 339.5h1M355 327.5h1M188 131.5h1M345 334.5h1M107 157.5h1M108 136.5h1M141 135.5h1M174 146.5h1M120 151.5h1M348 297.5h1M140 154.5h1M124 150.5h1M342 332.5h1M311 338.5h1M296 307.5h1M363 80.5h1M339 311.5h1M182 301.5h1M380 317.5h1M160 144.5h1M336 337.5h1M375 282.5h1M99 339.5h1M119 151.5h1M145 333.5h1M362 299.5h1M123 154.5h1M131 326.5h1M321 328.5h1M356 84.5h1M209 131.5h1M110 330.5h1M203 318.5h1M399 99.5h1M369 89.5h1M119 330.5h1M358 102.5h1M118 127.5h1M217 293.5h1M164 146.5h1M112 334.5h1M294 342.5h1M178 331.5h1M326 150.5h1M156 125.5h1M192 327.5h1M113 327.5h1M303 111.5h1M315 309.5h1M315 154.5h1M302 146.5h1M150 151.5h1M397 88.5h1M128 332.5h1M369 307.5h1M149 154.5h1M169 331.5h1M169 128.5h1M158 149.5h1M150 329.5h1M385 106.5h1M115 330.5h1M189 306.5h1M289 328.5h1M94 153.5h1M361 341.5h1M376 84.5h1M367 310.5h1M314 154.5h1M390 62.5h1M163 307.5h1M135 337.5h1M177 311.5h1M176 142.5h1M391 84.5h1M280 115.5h1M290 337.5h1M195 133.5h1M341 330.5h1M350 289.5h1M200 307.5h1M185 125.5h1M143 306.5h1M175 320.5h1M359 93.5h1M290 339.5h1M299 328.5h1M333 329.5h1M127 152.5h1M115 331.5h1M184 124.5h1M324 331.5h1M150 334.5h1M136 146.5h1M175 325.5h1M362 99.5h1M188 147.5h1M93 337.5h1M354 304.5h1M172 155.5h1M137 147.5h1M286 124.5h1M369 328.5h1M382 295.5h1M190 328.5h1M389 89.5h1M405 88.5h1M197 316.5h1M157 160.5h1M311 107.5h1M219 317.5h1M104 130.5h1M112 332.5h1M342 337.5h1M106 134.5h1M146 323.5h1M166 140.5h1M404 82.5h1M376 109.5h1M107 148.5h1M405 269.5h1M352 104.5h1M97 158.5h1M302 144.5h1M369 294.5h1M379 90.5h1M100 330.5h1M116 153.5h1M191 125.5h1M96 338.5h1M378 96.5h1M304 337.5h1M97 340.5h1M364 332.5h1M139 339.5h1M148 132.5h1M325 330.5h1M286 130.5h1M142 333.5h1M128 142.5h1M337 112.5h1M381 312.5h1M151 149.5h1M324 119.5h1M189 305.5h1M187 327.5h1M134 334.5h1M199 302.5h1M142 153.5h1M126 152.5h1M151 151.5h1M320 329.5h1M365 329.5h1M117 320.5h1M161 150.5h1M337 147.5h1M339 147.5h1M339 334.5h1M129 320.5h1M211 330.5h1M92 137.5h1M345 339.5h1M117 332.5h1M193 303.5h1M184 331.5h1M133 147.5h1M303 335.5h1M114 154.5h1M103 332.5h1M173 307.5h1M406 300.5h1M326 344.5h1M111 323.5h1M355 310.5h1M335 155.5h1M175 313.5h1M334 114.5h1M295 124.5h1M384 311.5h1M189 314.5h1M304 140.5h1M214 295.5h1M302 155.5h1M184 147.5h1M331 333.5h1M308 151.5h1M324 342.5h1M328 342.5h1M128 151.5h1M192 126.5h1M139 305.5h1M132 146.5h1M180 136.5h1M178 151.5h1M281 338.5h1M305 139.5h1M339 148.5h1M368 289.5h1M158 332.5h1M122 331.5h1M181 139.5h1M284 331.5h1M385 298.5h1M358 312.5h1M291 337.5h1M123 338.5h1M383 305.5h1M188 306.5h1M312 142.5h1M165 301.5h1M403 294.5h1M204 137.5h1M180 114.5h1M159 319.5h1M321 340.5h1M358 310.5h1M162 138.5h1M181 133.5h1M160 124.5h1M376 101.5h1M384 91.5h1M157 137.5h1M388 304.5h1M395 286.5h1M199 296.5h1M182 316.5h1M291 145.5h1M187 298.5h1M373 105.5h1M304 139.5h1M361 306.5h1M126 335.5h1M207 111.5h1M217 150.5h1M364 319.5h1M174 318.5h1M115 157.5h1M183 305.5h1M380 305.5h1M395 86.5h1M184 112.5h1M294 327.5h1M347 339.5h1M122 150.5h1M218 152.5h1M352 97.5h1M290 137.5h1M128 337.5h1M186 329.5h1M198 317.5h1M188 124.5h1M346 315.5h1M279 305.5h1M295 331.5h1M137 332.5h1M143 340.5h1M349 335.5h1M396 336.5h1M161 331.5h1M349 94.5h1M367 313.5h1M189 153.5h1M359 101.5h1M353 105.5h1M297 335.5h1M100 155.5h1M104 310.5h1M355 292.5h1M152 151.5h1M119 331.5h1M385 296.5h1M137 158.5h1M302 154.5h1M343 328.5h1M332 328.5h1M180 116.5h1M106 331.5h1M368 101.5h1M179 136.5h1M128 148.5h1M139 147.5h1M202 121.5h1M341 337.5h1M221 159.5h1M349 332.5h1M138 330.5h1M146 339.5h1M191 147.5h1M320 337.5h1M387 281.5h1M364 327.5h1M150 148.5h1M143 154.5h1M370 97.5h1M321 338.5h1M364 315.5h1M307 148.5h1M160 324.5h1M184 120.5h1M178 338.5h1M365 104.5h1M316 338.5h1M205 126.5h1M199 119.5h1M312 333.5h1M169 150.5h1M362 108.5h1M177 139.5h1M373 93.5h1M173 320.5h1M320 145.5h1M121 160.5h1M377 106.5h1M116 155.5h1M93 160.5h1M294 140.5h1M349 89.5h1M375 79.5h1M360 313.5h1M356 309.5h1M201 116.5h1M123 149.5h1M394 306.5h1M343 102.5h1M314 305.5h1M145 153.5h1M152 322.5h1M196 312.5h1M314 143.5h1M186 327.5h1M159 152.5h1M347 118.5h1M312 149.5h1M318 139.5h1M287 143.5h1M205 331.5h1M162 325.5h1M382 92.5h1M187 145.5h1M369 306.5h1M150 330.5h1M188 326.5h1M134 338.5h1M203 129.5h1M315 147.5h1M177 133.5h1M326 338.5h1M323 143.5h1M152 154.5h1M372 333.5h1M132 342.5h1M165 313.5h1M359 111.5h1M280 150.5h1M355 333.5h1M183 153.5h1M202 156.5h1M363 98.5h1M360 140.5h1M128 335.5h1M132 329.5h1M131 155.5h1M371 285.5h1M200 331.5h1M113 150.5h1M198 113.5h1M311 80.5h1M390 88.5h1M120 331.5h1M333 318.5h1M359 314.5h1M178 125.5h1M376 326.5h1M363 79.5h1M312 138.5h1M116 148.5h1M191 294.5h1M389 299.5h1M192 145.5h1M314 150.5h1M327 157.5h1M306 139.5h1M370 103.5h1M388 322.5h1M196 127.5h1M302 308.5h1M352 95.5h1M212 335.5h1M138 159.5h1M104 333.5h1M124 335.5h1M356 106.5h1M178 146.5h1M309 331.5h1M321 152.5h1M198 328.5h1M199 121.5h1M297 322.5h1M178 126.5h1M398 289.5h1M168 120.5h1M131 341.5h1M179 114.5h1M329 147.5h1M387 80.5h1M319 337.5h1M137 334.5h1M303 332.5h1M184 313.5h1M376 304.5h1M325 327.5h1M378 290.5h1M326 114.5h1M285 139.5h1M339 324.5h1M210 135.5h1M145 336.5h1M379 330.5h1M151 148.5h1M120 150.5h1M195 119.5h1M389 84.5h1M141 154.5h1M278 312.5h1M134 339.5h1M141 147.5h1M202 312.5h1M168 152.5h1M316 138.5h1M143 130.5h1M186 317.5h1M186 122.5h1M190 135.5h1M316 148.5h1M376 295.5h1M385 72.5h1M161 121.5h1M390 97.5h1M164 303.5h1M199 131.5h1M121 333.5h1M385 94.5h1M147 145.5h1M343 337.5h1M297 161.5h1M180 314.5h1M110 342.5h1M122 340.5h1M309 114.5h1M310 118.5h1M118 330.5h1M190 155.5h1M101 152.5h1M292 140.5h1M183 158.5h1M144 303.5h1M174 121.5h1M104 328.5h1M319 328.5h1M162 335.5h1M282 329.5h1M180 308.5h1M192 337.5h1M169 155.5h1M319 156.5h1M360 332.5h1M274 143.5h1M193 119.5h1M311 147.5h1M119 333.5h1M109 318.5h1M111 144.5h1M287 328.5h1M139 150.5h1M320 335.5h1M333 314.5h1M360 300.5h1M155 332.5h1M195 315.5h1M114 328.5h1M309 111.5h1M295 151.5h1M154 324.5h1M381 285.5h1M170 336.5h1M379 292.5h1M163 319.5h1M321 336.5h1M141 335.5h1M358 298.5h1M333 332.5h1M376 88.5h1M133 153.5h1M345 327.5h1M395 81.5h1M381 297.5h1M177 112.5h1M285 138.5h1M305 150.5h1M357 330.5h1M214 152.5h1M121 141.5h1M361 144.5h1M298 149.5h1M340 101.5h1M163 136.5h1M295 138.5h1M335 340.5h1M311 145.5h1M95 334.5h1M188 126.5h1M373 99.5h1M175 331.5h1M156 147.5h1M135 343.5h1M129 340.5h1M139 333.5h1M317 125.5h1M217 135.5h1M100 320.5h1M119 316.5h1M130 341.5h1M119 336.5h1M389 96.5h1M190 315.5h1M348 95.5h1M374 299.5h1M117 150.5h1M192 132.5h1M209 155.5h1M213 326.5h1M135 331.5h1M301 144.5h1M113 337.5h1M132 330.5h1M369 76.5h1M138 147.5h1M328 298.5h1M127 340.5h1M116 145.5h1M192 108.5h1M305 155.5h1M130 339.5h1M374 84.5h1M332 338.5h1M193 134.5h1M109 148.5h1M202 158.5h1M136 147.5h1M286 140.5h1M138 144.5h1M395 302.5h1M190 326.5h1M140 138.5h1M393 288.5h1M356 289.5h1M289 150.5h1M126 147.5h1M165 318.5h1M349 311.5h1M121 334.5h1M396 87.5h1M317 317.5h1M190 121.5h1M106 332.5h1M380 296.5h1M128 340.5h1M376 89.5h1M369 336.5h1M386 338.5h1M183 133.5h1M101 143.5h1M391 89.5h1M405 289.5h1M378 106.5h1M329 334.5h1M294 138.5h1M321 337.5h1M306 159.5h1M193 127.5h1M296 155.5h1M180 132.5h1M151 344.5h1M99 329.5h1M140 330.5h1M112 157.5h1M288 122.5h1M102 159.5h1M212 152.5h1M114 157.5h1M195 310.5h1M289 146.5h1M288 112.5h1M105 158.5h1M156 154.5h1M107 344.5h1M173 112.5h1M383 101.5h1M189 118.5h1M365 102.5h1M155 155.5h1M339 143.5h1M318 320.5h1M365 92.5h1M346 105.5h1M126 145.5h1M289 153.5h1M195 117.5h1M112 330.5h1M152 147.5h1M187 113.5h1M147 318.5h1M189 321.5h1M164 116.5h1M116 327.5h1M157 324.5h1M147 141.5h1M163 334.5h1M197 320.5h1M319 326.5h1M190 117.5h1M183 122.5h1M297 116.5h1M390 299.5h1M184 150.5h1M318 144.5h1M197 121.5h1M134 333.5h1M279 297.5h1M209 330.5h1M133 148.5h1M119 162.5h1M177 303.5h1M175 319.5h1M382 292.5h1M336 333.5h1M385 67.5h1M327 316.5h1M165 143.5h1M134 330.5h1M149 346.5h1M178 317.5h1M192 122.5h1M198 130.5h1M172 147.5h1M333 145.5h1M115 336.5h1M185 115.5h1M176 132.5h1M185 152.5h1M333 334.5h1M306 141.5h1M364 98.5h1M93 339.5h1M379 280.5h1M181 295.5h1M216 311.5h1M169 153.5h1M325 154.5h1M158 142.5h1M405 310.5h1M299 143.5h1M218 145.5h1M145 157.5h1M119 141.5h1M131 343.5h1M356 333.5h1M171 310.5h1M196 320.5h1M296 139.5h1M351 301.5h1M144 154.5h1M368 330.5h1M174 141.5h1M175 332.5h1M375 302.5h1M122 149.5h1M359 105.5h1M189 327.5h1M348 96.5h1M387 294.5h1M388 149.5h1M367 304.5h1M381 286.5h1M291 316.5h1M330 331.5h1M390 311.5h1M137 151.5h1M276 101.5h1M395 78.5h1M193 122.5h1M392 88.5h1M198 292.5h1M344 304.5h1M209 148.5h1M166 331.5h1M309 150.5h1M135 153.5h1M151 154.5h1M160 153.5h1M323 335.5h1M334 147.5h1M291 142.5h1M163 130.5h1M210 107.5h1M329 149.5h1M152 330.5h1M142 339.5h1M134 331.5h1M184 143.5h1M174 305.5h1M130 328.5h1M316 304.5h1M394 70.5h1M126 154.5h1M212 309.5h1M145 339.5h1M396 291.5h1M372 99.5h1M320 117.5h1M372 335.5h1M315 140.5h1M286 328.5h1M361 156.5h1M323 334.5h1M111 333.5h1M183 310.5h1M322 139.5h1M189 328.5h1M198 144.5h1M336 331.5h1M367 91.5h1M301 152.5h1M331 338.5h1M122 319.5h1M196 309.5h1M96 157.5h1M145 337.5h1M369 342.5h1M132 149.5h1M379 299.5h1M371 105.5h1M282 327.5h1M187 325.5h1M363 314.5h1M289 139.5h1M369 330.5h1M120 154.5h1M178 323.5h1M132 148.5h1M301 150.5h1M111 332.5h1M143 311.5h1M133 334.5h1M127 153.5h1M161 330.5h1M351 296.5h1M401 296.5h1M181 129.5h1M170 310.5h1M365 97.5h1M370 327.5h1M364 337.5h1M171 320.5h1M131 149.5h1M178 157.5h1M203 321.5h1M136 332.5h1M307 147.5h1M164 120.5h1M280 140.5h1M305 330.5h1M177 334.5h1M396 298.5h1M189 138.5h1M181 146.5h1M186 312.5h1M215 141.5h1M169 320.5h1M377 325.5h1M136 329.5h1M174 321.5h1M385 279.5h1M160 152.5h1M143 153.5h1M152 320.5h1M309 152.5h1M145 338.5h1M302 149.5h1M117 340.5h1M284 135.5h1M327 105.5h1M351 316.5h1M370 302.5h1M299 136.5h1M97 335.5h1M396 284.5h1M154 143.5h1M120 153.5h1M297 331.5h1M276 328.5h1M358 297.5h1M194 308.5h1M150 159.5h1M381 84.5h1M392 299.5h1M290 334.5h1M373 90.5h1M322 335.5h1M368 309.5h1M348 302.5h1M375 88.5h1M310 332.5h1M344 335.5h1M393 297.5h1M382 279.5h1M96 148.5h1M182 317.5h1M149 326.5h1M200 323.5h1M411 295.5h1M174 148.5h1M195 293.5h1M122 336.5h1M402 69.5h1M168 326.5h1M331 106.5h1M146 156.5h1M169 338.5h1M381 89.5h1M125 342.5h1M201 300.5h1M170 302.5h1M321 137.5h1M165 332.5h1M175 126.5h1M191 148.5h1M317 335.5h1M99 141.5h1M183 299.5h1M384 299.5h1M114 336.5h1M308 149.5h1M108 164.5h1M390 290.5h1M340 323.5h1M355 295.5h1M397 275.5h1M151 333.5h1M366 148.5h1M342 328.5h1M326 332.5h1M333 82.5h1M208 128.5h1M287 302.5h1M353 326.5h1M126 331.5h1M310 154.5h1M324 150.5h1M325 134.5h1M214 306.5h1M175 302.5h1M389 69.5h1M141 332.5h1M191 328.5h1M174 323.5h1M387 314.5h1M137 160.5h1M176 326.5h1M113 338.5h1M105 151.5h1M367 338.5h1M219 155.5h1M381 339.5h1M310 138.5h1M390 89.5h1M140 157.5h1M326 144.5h1M192 114.5h1M185 321.5h1M159 345.5h1M382 81.5h1M282 330.5h1M201 125.5h1M197 311.5h1M408 81.5h1M301 138.5h1M141 156.5h1M367 285.5h1M365 332.5h1M133 338.5h1M294 314.5h1M128 329.5h1M97 331.5h1M331 311.5h1M159 127.5h1M127 331.5h1M109 334.5h1M361 92.5h1M156 331.5h1M177 126.5h1M370 89.5h1M179 152.5h1M353 308.5h1M182 121.5h1M331 323.5h1M333 300.5h1M345 323.5h1M126 334.5h1M383 97.5h1M182 323.5h1M146 135.5h1M194 161.5h1M328 334.5h1M192 317.5h1M180 324.5h1M325 120.5h1M206 118.5h1M401 98.5h1M164 333.5h1M186 308.5h1M346 333.5h1M139 145.5h1M359 291.5h1M128 153.5h1M312 108.5h1M122 317.5h1M192 142.5h1M377 290.5h1M189 134.5h1M212 105.5h1M177 335.5h1M312 109.5h1M394 155.5h1M377 85.5h1M127 341.5h1M368 98.5h1M380 91.5h1M194 124.5h1M382 72.5h1M387 82.5h1M275 314.5h1M308 155.5h1M162 329.5h1M305 312.5h1M396 306.5h1M195 125.5h1M155 333.5h1M174 322.5h1M99 159.5h1M348 335.5h1M190 305.5h1M362 306.5h1M331 107.5h1M385 305.5h1M151 326.5h1M390 328.5h1M102 330.5h1M392 83.5h1M367 97.5h1M389 290.5h1M298 148.5h1M129 332.5h1M131 148.5h1M131 141.5h1M167 123.5h1M142 136.5h1M103 140.5h1M167 141.5h1M362 144.5h1M181 305.5h1M157 163.5h1M307 151.5h1M107 146.5h1M364 102.5h1M407 285.5h1M300 147.5h1M392 308.5h1M196 326.5h1M142 156.5h1M326 108.5h1M405 79.5h1M317 149.5h1M166 141.5h1M388 293.5h1M390 86.5h1M364 291.5h1M311 142.5h1M380 312.5h1M203 115.5h1M111 335.5h1M403 303.5h1M310 330.5h1M183 137.5h1M307 303.5h1M185 332.5h1M292 136.5h1M363 298.5h1M132 331.5h1M386 92.5h1M204 130.5h1M132 338.5h1M205 116.5h1M183 338.5h1M143 158.5h1M99 334.5h1M375 344.5h1M205 306.5h1M103 339.5h1M173 326.5h1M357 112.5h1M168 130.5h1M134 149.5h1M396 89.5h1M383 300.5h1M94 150.5h1M167 342.5h1M135 333.5h1M171 141.5h1M209 128.5h1M141 150.5h1M294 151.5h1M273 140.5h1M287 339.5h1M394 311.5h1M313 148.5h1M282 142.5h1M314 325.5h1M101 144.5h1M122 159.5h1M345 141.5h1M121 151.5h1M332 310.5h1M315 325.5h1M375 91.5h1M196 106.5h1M392 81.5h1M161 139.5h1M358 93.5h1M127 156.5h1M311 336.5h1M406 76.5h1M386 84.5h1M382 82.5h1M163 339.5h1M101 326.5h1M192 300.5h1M383 314.5h1M200 312.5h1M200 129.5h1M200 327.5h1M172 304.5h1M285 301.5h1M124 152.5h1M221 314.5h1M326 335.5h1M180 131.5h1M365 69.5h1M369 312.5h1M346 90.5h1M168 314.5h1M208 118.5h1M335 345.5h1M375 303.5h1M291 140.5h1M370 325.5h1M109 136.5h1M103 315.5h1M131 151.5h1M130 336.5h1M303 327.5h1M179 321.5h1M384 307.5h1M202 145.5h1M111 153.5h1M368 83.5h1M177 141.5h1M362 303.5h1M193 335.5h1M382 80.5h1M187 108.5h1M361 310.5h1M368 290.5h1M185 147.5h1M327 331.5h1M195 129.5h1M405 287.5h1M170 328.5h1M353 330.5h1M93 151.5h1M315 333.5h1M147 333.5h1M177 128.5h1M334 151.5h1M132 336.5h1M202 105.5h1M371 81.5h1M138 155.5h1M321 142.5h1M378 102.5h1M389 282.5h1M396 95.5h1M274 130.5h1M129 338.5h1M350 334.5h1M298 138.5h1M402 312.5h1M107 330.5h1M275 134.5h1M160 323.5h1M395 294.5h1M293 331.5h1M185 301.5h1M160 337.5h1M106 321.5h1M291 154.5h1M406 292.5h1M334 312.5h1M294 142.5h1M283 133.5h1M277 151.5h1M379 290.5h1M283 138.5h1M331 331.5h1M125 146.5h1M157 139.5h1M340 100.5h1M179 155.5h1M393 94.5h1M344 308.5h1M113 128.5h1M307 301.5h1M142 121.5h1M386 301.5h1M195 150.5h1M134 150.5h1M125 150.5h1M157 170.5h1M209 323.5h1M169 314.5h1M338 328.5h1M315 126.5h1M143 329.5h1M383 83.5h1M275 149.5h1M326 155.5h1M136 145.5h1M390 150.5h1M112 158.5h1M351 102.5h1M210 145.5h1M345 150.5h1M340 336.5h1M332 109.5h1M104 339.5h1M180 330.5h1M326 314.5h1M175 114.5h1M373 305.5h1M145 304.5h1M378 332.5h1M129 342.5h1M390 80.5h1M132 159.5h1M186 330.5h1M181 318.5h1M335 298.5h1M131 330.5h1M307 310.5h1M183 127.5h1M364 80.5h1M152 331.5h1M139 154.5h1M152 337.5h1M127 148.5h1M164 304.5h1M373 292.5h1M284 137.5h1M347 334.5h1M371 300.5h1M382 282.5h1M345 331.5h1M194 307.5h1M280 118.5h1M137 340.5h1M382 87.5h1M116 332.5h1M314 338.5h1M370 101.5h1M114 148.5h1M185 160.5h1M347 102.5h1M387 325.5h1M327 154.5h1M330 313.5h1M370 304.5h1M383 331.5h1M376 315.5h1M333 139.5h1M343 162.5h1M296 150.5h1M399 300.5h1M167 336.5h1M315 150.5h1M143 331.5h1M187 307.5h1M310 329.5h1M319 332.5h1M149 331.5h1M197 319.5h1M152 325.5h1M282 121.5h1M135 332.5h1M181 304.5h1M310 315.5h1M395 296.5h1M123 148.5h1M120 160.5h1M380 89.5h1M296 148.5h1M408 73.5h1M145 162.5h1M400 81.5h1M396 83.5h1M179 127.5h1M180 329.5h1M385 92.5h1M393 302.5h1M300 122.5h1M94 152.5h1M288 141.5h1M187 314.5h1M105 337.5h1M362 332.5h1M139 155.5h1M213 316.5h1M354 149.5h1M170 327.5h1M163 117.5h1M388 84.5h1M332 151.5h1M197 155.5h1M192 137.5h1M348 327.5h1M138 126.5h1M380 290.5h1M282 309.5h1M338 331.5h1M354 82.5h1M326 330.5h1M181 123.5h1M356 150.5h1M152 155.5h1M321 148.5h1M196 306.5h1M163 335.5h1M376 294.5h1M379 297.5h1M138 339.5h1M372 106.5h1M350 292.5h1M372 89.5h1M365 300.5h1M388 288.5h1M329 329.5h1M186 157.5h1M306 332.5h1M299 334.5h1M334 294.5h1M128 336.5h1M171 329.5h1M133 158.5h1M177 331.5h1M229 313.5h1M167 311.5h1M159 156.5h1M358 309.5h1M287 135.5h1M368 314.5h1M163 329.5h1M345 329.5h1M358 114.5h1M156 341.5h1M205 142.5h1M122 344.5h1M179 328.5h1M401 282.5h1M304 147.5h1M348 292.5h1M385 295.5h1M202 332.5h1M338 334.5h1M363 290.5h1M357 90.5h1M138 333.5h1M380 70.5h1M292 315.5h1M178 334.5h1M105 149.5h1M281 302.5h1M378 152.5h1M167 115.5h1M340 333.5h1M142 130.5h1M390 306.5h1M354 339.5h1M211 318.5h1M370 94.5h1M164 149.5h1M178 148.5h1M351 310.5h1M282 316.5h1M125 328.5h1M180 141.5h1M298 327.5h1M176 110.5h1M172 326.5h1M300 330.5h1M160 315.5h1M374 109.5h1M381 284.5h1M334 333.5h1M314 149.5h1M396 63.5h1M352 285.5h1M176 137.5h1M190 108.5h1M309 124.5h1M170 130.5h1M321 341.5h1M106 158.5h1M143 323.5h1M388 109.5h1M209 117.5h1M285 113.5h1M328 304.5h1M175 297.5h1M186 146.5h1M173 150.5h1M386 89.5h1M390 310.5h1M119 155.5h1M192 125.5h1M192 320.5h1M293 147.5h1M387 344.5h1M176 128.5h1M352 325.5h1M104 133.5h1M308 334.5h1M363 112.5h1M310 145.5h1M178 321.5h1M147 339.5h1M381 293.5h1M284 133.5h1M331 310.5h1M395 314.5h1M353 294.5h1M357 95.5h1M275 326.5h1M137 329.5h1M284 333.5h1M408 300.5h1M287 136.5h1M308 144.5h1M128 333.5h1M295 139.5h1M166 160.5h1M123 159.5h1M156 335.5h1M384 296.5h1M287 140.5h1M344 151.5h1M141 344.5h1M359 81.5h1M158 336.5h1M398 307.5h1M175 131.5h1M143 339.5h1M292 322.5h1M134 336.5h1M336 334.5h1M155 329.5h1M176 126.5h1M119 157.5h1M297 146.5h1M357 297.5h1M104 142.5h1M304 138.5h1M304 327.5h1M131 338.5h1M339 321.5h1M174 302.5h1M309 147.5h1M179 303.5h1M394 87.5h1M333 328.5h1M179 144.5h1M390 286.5h1M136 339.5h1M189 304.5h1M217 311.5h1M95 337.5h1M111 329.5h1M166 133.5h1M99 147.5h1M325 142.5h1M361 295.5h1M294 154.5h1M339 338.5h1M175 136.5h1M363 305.5h1M325 322.5h1M375 92.5h1M361 98.5h1M339 329.5h1M281 140.5h1M135 338.5h1M199 132.5h1M117 335.5h1M284 140.5h1M348 329.5h1M392 334.5h1M157 340.5h1M300 149.5h1M402 297.5h1M169 144.5h1M177 136.5h1M125 147.5h1M199 133.5h1M340 145.5h1M299 327.5h1M193 112.5h1M285 147.5h1M183 334.5h1M138 156.5h1M359 86.5h1M382 99.5h1M136 330.5h1M343 98.5h1M318 107.5h1M198 311.5h1M162 146.5h1M352 107.5h1M177 313.5h1M98 324.5h1M353 343.5h1M143 127.5h1M283 300.5h1M131 327.5h1M182 327.5h1M309 304.5h1M333 335.5h1M164 302.5h1M148 327.5h1M401 333.5h1M189 110.5h1M224 155.5h1M157 136.5h1M109 160.5h1M376 312.5h1M316 313.5h1M168 323.5h1M197 103.5h1M193 106.5h1M332 108.5h1M174 127.5h1M399 274.5h1M152 156.5h1M305 329.5h1M340 290.5h1M364 146.5h1M188 329.5h1M350 95.5h1M102 146.5h1M197 130.5h1M169 327.5h1M360 86.5h1M188 127.5h1M204 316.5h1M284 337.5h1M392 326.5h1M164 156.5h1M112 343.5h1M383 93.5h1M333 331.5h1M364 328.5h1M313 146.5h1M327 328.5h1M382 88.5h1M177 147.5h1M325 332.5h1M369 300.5h1M153 334.5h1M366 106.5h1M200 126.5h1M363 333.5h1M151 331.5h1M302 148.5h1M181 311.5h1M296 138.5h1M152 123.5h1M188 307.5h1M351 100.5h1M405 309.5h1M313 125.5h1M310 300.5h1M198 335.5h1M310 150.5h1M379 82.5h1M336 146.5h1M153 337.5h1M328 340.5h1M189 307.5h1M142 325.5h1M355 297.5h1M329 154.5h1M341 88.5h1M312 336.5h1M197 296.5h1M376 290.5h1M292 328.5h1M287 137.5h1M365 105.5h1M91 332.5h1M110 134.5h1M398 286.5h1M283 137.5h1M274 119.5h1M133 336.5h1M375 327.5h1M348 150.5h1M167 147.5h1M365 331.5h1M119 312.5h1M283 121.5h1M162 143.5h1M165 325.5h1M177 318.5h1M171 322.5h1M195 97.5h1M175 137.5h1M406 84.5h1M128 162.5h1M130 331.5h1M363 301.5h1M373 288.5h1M108 331.5h1M137 336.5h1M404 305.5h1M180 323.5h1M175 149.5h1M394 297.5h1M383 286.5h1M391 336.5h1M310 319.5h1M174 132.5h1M203 323.5h1M197 298.5h1M201 152.5h1M203 140.5h1M308 139.5h1M301 140.5h1M212 328.5h1M198 300.5h1M194 149.5h1M378 304.5h1M388 308.5h1M181 307.5h1M296 154.5h1M200 120.5h1M153 148.5h1M153 322.5h1M394 305.5h1M331 147.5h1M127 330.5h1M371 301.5h1M120 335.5h1M380 285.5h1M109 156.5h1M178 311.5h1M158 330.5h1M206 110.5h1M192 134.5h1M353 93.5h1M316 113.5h1M140 342.5h1M159 150.5h1M330 343.5h1M367 94.5h1M352 145.5h1M397 149.5h1M336 342.5h1M338 326.5h1M142 334.5h1M356 315.5h1M373 300.5h1M131 145.5h1M318 121.5h1M330 325.5h1M168 336.5h1M205 322.5h1M124 321.5h1M146 147.5h1M197 318.5h1M124 157.5h1M196 125.5h1M365 292.5h1M297 338.5h1M200 121.5h1M176 336.5h1M389 298.5h1M170 114.5h1M326 337.5h1M376 301.5h1M379 88.5h1M396 285.5h1M349 331.5h1M308 152.5h1M98 335.5h1M395 292.5h1M279 306.5h1M166 132.5h1M93 152.5h1M145 146.5h1M155 331.5h1M369 152.5h1M128 316.5h1M388 103.5h1M279 146.5h1M360 141.5h1M139 153.5h1M278 307.5h1M114 135.5h1M139 121.5h1M355 330.5h1M186 115.5h1M359 298.5h1M293 144.5h1M404 294.5h1M181 303.5h1M159 311.5h1M292 148.5h1M338 96.5h1M347 304.5h1M162 139.5h1M303 339.5h1M180 125.5h1M398 101.5h1M371 79.5h1M131 312.5h1M185 310.5h1M152 319.5h1M358 302.5h1M370 84.5h1M382 301.5h1M213 105.5h1M351 295.5h1M120 330.5h1M205 315.5h1M330 90.5h1M322 300.5h1M320 331.5h1M343 325.5h1M369 85.5h1M277 137.5h1M108 334.5h1M96 331.5h1M276 323.5h1M109 154.5h1M327 322.5h1M110 156.5h1M390 288.5h1M195 302.5h1M398 304.5h1M101 149.5h1M116 330.5h1M310 149.5h1M194 302.5h1M151 133.5h1M152 139.5h1M387 335.5h1M195 108.5h1M125 127.5h1M388 301.5h1M282 105.5h1M160 117.5h1M387 79.5h1M110 133.5h1M315 328.5h1M175 324.5h1M317 112.5h1M125 320.5h1M133 146.5h1M130 317.5h1M126 159.5h1M113 142.5h1M168 147.5h1M286 311.5h1M303 147.5h1M175 337.5h1M287 331.5h1M135 156.5h1M341 89.5h1M152 338.5h1M194 120.5h1M368 296.5h1M193 137.5h1M391 278.5h1M343 342.5h1M148 331.5h1M387 100.5h1M193 295.5h1M335 339.5h1M179 133.5h1M123 155.5h1M376 86.5h1M381 309.5h1M289 132.5h1M336 109.5h1M371 157.5h1M99 322.5h1M205 316.5h1M154 121.5h1M352 344.5h1M122 339.5h1M171 337.5h1M338 332.5h1M360 289.5h1M103 151.5h1M148 150.5h1M350 323.5h1M173 312.5h1M132 152.5h1M380 84.5h1M100 338.5h1M320 144.5h1M202 310.5h1M360 310.5h1M364 329.5h1M167 331.5h1M316 333.5h1M308 153.5h1M283 342.5h1M209 123.5h1M284 147.5h1M126 325.5h1M186 124.5h1M187 149.5h1M318 135.5h1M123 343.5h1M304 321.5h1M202 154.5h1M337 339.5h1M192 116.5h1M365 83.5h1M322 147.5h1M152 336.5h1M128 155.5h1M300 317.5h1M380 291.5h1M353 327.5h1M200 321.5h1M121 331.5h1M281 157.5h1M339 327.5h1M187 142.5h1M189 128.5h1M158 155.5h1M384 312.5h1M129 335.5h1M142 157.5h1M337 100.5h1M125 343.5h1M159 325.5h1M181 316.5h1M287 107.5h1M200 136.5h1M409 286.5h1M308 314.5h1M182 117.5h1M164 335.5h1M330 121.5h1M121 332.5h1M279 129.5h1M225 154.5h1M215 317.5h1M133 151.5h1M145 340.5h1M187 343.5h1M117 149.5h1M399 313.5h1M374 95.5h1M384 90.5h1M200 322.5h1M129 153.5h1M191 109.5h1M110 343.5h1M303 145.5h1M170 122.5h1M135 159.5h1M402 332.5h1M380 90.5h1M277 318.5h1M376 317.5h1M326 342.5h1M380 93.5h1M102 135.5h1M126 144.5h1M214 323.5h1M278 342.5h1M383 301.5h1M365 325.5h1M337 325.5h1M138 166.5h1M371 308.5h1M198 126.5h1M302 139.5h1M188 322.5h1M395 87.5h1M277 113.5h1M399 297.5h1M140 133.5h1M376 303.5h1M151 328.5h1M333 294.5h1M148 148.5h1M298 119.5h1M381 308.5h1M382 84.5h1M131 156.5h1M365 112.5h1M274 336.5h1M178 314.5h1M300 154.5h1M304 146.5h1M193 103.5h1M107 134.5h1M171 331.5h1M384 304.5h1M360 301.5h1M389 294.5h1M327 100.5h1M384 87.5h1M182 299.5h1M197 305.5h1M333 144.5h1M390 87.5h1M200 104.5h1M132 327.5h1M129 328.5h1M339 296.5h1M321 158.5h1M382 83.5h1M347 142.5h1M398 68.5h1M279 127.5h1M142 341.5h1M376 99.5h1M291 120.5h1M277 335.5h1M326 340.5h1M388 88.5h1M135 131.5h1M156 342.5h1M333 338.5h1M395 304.5h1M212 325.5h1M347 103.5h1M307 157.5h1M111 320.5h1M388 90.5h1M193 117.5h1M391 79.5h1M176 154.5h1M358 288.5h1M387 289.5h1M328 329.5h1M153 316.5h1M333 78.5h1M203 305.5h1M158 343.5h1M290 327.5h1M356 305.5h1M172 128.5h1M174 133.5h1M388 97.5h1M317 303.5h1M147 131.5h1M145 149.5h1M341 318.5h1M167 120.5h1M172 130.5h1M353 336.5h1M380 334.5h1M129 146.5h1M140 152.5h1M139 331.5h1M183 324.5h1M146 151.5h1M155 154.5h1M384 112.5h1M374 108.5h1M359 306.5h1M283 132.5h1M179 132.5h1M398 288.5h1M164 147.5h1M176 122.5h1M329 144.5h1M195 110.5h1M404 279.5h1M172 141.5h1M153 335.5h1M162 312.5h1M385 95.5h1M109 147.5h1M183 112.5h1M312 147.5h1M110 132.5h1M127 150.5h1M340 329.5h1M190 109.5h1M199 154.5h1M363 90.5h1M280 311.5h1M342 141.5h1M374 288.5h1M190 304.5h1M189 293.5h1M146 132.5h1M116 136.5h1M391 290.5h1M375 97.5h1M361 87.5h1M291 152.5h1M130 337.5h1M203 293.5h1M324 121.5h1M124 343.5h1M386 289.5h1M402 87.5h1M181 313.5h1M121 156.5h1M277 330.5h1M220 118.5h1M292 329.5h1M330 332.5h1M162 131.5h1M408 276.5h1M389 323.5h1M311 150.5h1M394 292.5h1M157 159.5h1M137 146.5h1M194 321.5h1M163 148.5h1M388 80.5h1M369 94.5h1M171 144.5h1M382 79.5h1M179 314.5h1M398 98.5h1M404 96.5h1M388 140.5h1M187 117.5h1M343 100.5h1M290 151.5h1M167 157.5h1M117 336.5h1M386 91.5h1M321 330.5h1M324 90.5h1M386 88.5h1M199 134.5h1M189 106.5h1M316 323.5h1M397 84.5h1M334 330.5h1M125 152.5h1M172 122.5h1M102 331.5h1M200 115.5h1M146 129.5h1M328 120.5h1M188 313.5h1M125 158.5h1M198 310.5h1M303 321.5h1M161 328.5h1M161 133.5h1M355 103.5h1M374 283.5h1M376 340.5h1M157 151.5h1M305 148.5h1M387 300.5h1M153 134.5h1M385 99.5h1M336 328.5h1M331 103.5h1M169 119.5h1M382 90.5h1M395 278.5h1M318 128.5h1M282 148.5h1M121 343.5h1M200 127.5h1M124 149.5h1M371 102.5h1M121 144.5h1M148 142.5h1M194 126.5h1M125 156.5h1M283 148.5h1M121 341.5h1M376 311.5h1M218 148.5h1M385 301.5h1M348 156.5h1M321 145.5h1M154 137.5h1M202 116.5h1M200 334.5h1M327 124.5h1M370 313.5h1M107 149.5h1M367 76.5h1M207 135.5h1M338 95.5h1M134 332.5h1M144 321.5h1M103 340.5h1M143 146.5h1M178 315.5h1M179 329.5h1M368 294.5h1M154 149.5h1M388 298.5h1M173 113.5h1M130 153.5h1M178 296.5h1M166 123.5h1M100 335.5h1M381 102.5h1M399 85.5h1M117 329.5h1M171 304.5h1M100 153.5h1M197 147.5h1M180 144.5h1M381 290.5h1M195 114.5h1M169 323.5h1M342 152.5h1M110 337.5h1M196 124.5h1M290 120.5h1M303 137.5h1M294 152.5h1M320 336.5h1M168 159.5h1M285 299.5h1M216 124.5h1M182 325.5h1M303 324.5h1M396 305.5h1M145 321.5h1M279 321.5h1M189 317.5h1M319 142.5h1M140 150.5h1M323 152.5h1M331 319.5h1M173 325.5h1M191 134.5h1M369 139.5h1M165 321.5h1M160 339.5h1M200 103.5h1M119 148.5h1M317 321.5h1M391 294.5h1M143 133.5h1M312 148.5h1M355 119.5h1M176 115.5h1M106 330.5h1M130 154.5h1M356 109.5h1M141 158.5h1M135 151.5h1M373 84.5h1M326 343.5h1M326 329.5h1M372 311.5h1M281 346.5h1M388 325.5h1M197 326.5h1M390 309.5h1M388 291.5h1M180 321.5h1M359 87.5h1M342 333.5h1M168 127.5h1M354 324.5h1M322 339.5h1M397 288.5h1M298 152.5h1M173 139.5h1M180 142.5h1M196 113.5h1M192 117.5h1M294 333.5h1M321 326.5h1M385 91.5h1M219 124.5h1M300 333.5h1M186 307.5h1M151 127.5h1M186 114.5h1M187 335.5h1M114 340.5h1M228 103.5h1M113 137.5h1M375 87.5h1M152 143.5h1M122 338.5h1M126 340.5h1M331 312.5h1M112 331.5h1M145 140.5h1M355 343.5h1M150 308.5h1M372 299.5h1M211 310.5h1M308 140.5h1M117 322.5h1M195 314.5h1M368 95.5h1M329 341.5h1M102 151.5h1M309 339.5h1M387 285.5h1M336 329.5h1M355 303.5h1M379 309.5h1M214 329.5h1M182 109.5h1M340 330.5h1M168 136.5h1M203 304.5h1M220 115.5h1M120 319.5h1M344 334.5h1M130 338.5h1M383 308.5h1M159 151.5h1M210 292.5h1M165 319.5h1M378 78.5h1M278 339.5h1M190 312.5h1M202 134.5h1M375 94.5h1M378 103.5h1M124 338.5h1M402 143.5h1M333 308.5h1M209 114.5h1M160 157.5h1M370 288.5h1M137 341.5h1M131 146.5h1M356 93.5h1M156 330.5h1M404 92.5h1M137 140.5h1M395 305.5h1M361 311.5h1M285 117.5h1M207 124.5h1M314 335.5h1M133 335.5h1M406 90.5h1M319 152.5h1M112 147.5h1M344 318.5h1M197 128.5h1M334 336.5h1M189 329.5h1M178 332.5h1M177 310.5h1M375 305.5h1M317 330.5h1M337 334.5h1M320 138.5h1M97 316.5h1M145 324.5h1M187 114.5h1M318 145.5h1M157 157.5h1M387 307.5h1M357 347.5h1M136 337.5h1M300 135.5h1M301 323.5h1M201 123.5h1M314 147.5h1M195 326.5h1M324 148.5h1M339 93.5h1M313 112.5h1M173 137.5h1M125 337.5h1M369 302.5h1M185 119.5h1M371 110.5h1M126 149.5h1M196 327.5h1M303 103.5h1M148 334.5h1M375 308.5h1M140 142.5h1M329 335.5h1M150 340.5h1M387 94.5h1M319 149.5h1M162 154.5h1M367 318.5h1M157 335.5h1M283 140.5h1M335 334.5h1M355 290.5h1M191 311.5h1M203 114.5h1M154 327.5h1M183 333.5h1M399 294.5h1M343 320.5h1M375 98.5h1M335 98.5h1M342 147.5h1M380 333.5h1M154 337.5h1M332 153.5h1M317 138.5h1M195 131.5h1M173 336.5h1M274 138.5h1M312 334.5h1M196 322.5h1M211 147.5h1M124 336.5h1M191 319.5h1M385 284.5h1M279 311.5h1M372 310.5h1M205 328.5h1M186 323.5h1M163 313.5h1M393 294.5h1M189 112.5h1M153 140.5h1M174 327.5h1M361 294.5h1M178 301.5h1M355 144.5h1M395 94.5h1M384 99.5h1M99 157.5h1M142 332.5h1M125 159.5h1M187 329.5h1M373 102.5h1M378 324.5h1M298 307.5h1M382 288.5h1M393 88.5h1M103 321.5h1M359 154.5h1M174 152.5h1M147 330.5h1M124 342.5h1M204 156.5h1M329 114.5h1M112 335.5h1M387 284.5h1M185 141.5h1M276 150.5h1M382 113.5h1M167 116.5h1M208 117.5h1M407 141.5h1M176 140.5h1M387 296.5h1M201 315.5h1M281 310.5h1M380 97.5h1M162 142.5h1M94 154.5h1M321 309.5h1M94 339.5h1M309 141.5h1M195 127.5h1M378 82.5h1M118 154.5h1M320 326.5h1M306 333.5h1M379 153.5h1M279 315.5h1M323 146.5h1M314 142.5h1M354 309.5h1M162 333.5h1M130 156.5h1M384 282.5h1M163 328.5h1M284 132.5h1M280 132.5h1M296 348.5h1M169 145.5h1M215 137.5h1M362 330.5h1M305 151.5h1M151 335.5h1M358 327.5h1M220 316.5h1M172 317.5h1M309 336.5h1M207 147.5h1M189 99.5h1M157 143.5h1M276 137.5h1M336 143.5h1M176 328.5h1M378 295.5h1M400 72.5h1M303 141.5h1M165 329.5h1M298 330.5h1M188 334.5h1M157 154.5h1M165 336.5h1M175 338.5h1M380 299.5h1M382 104.5h1M389 306.5h1M388 92.5h1M384 100.5h1M165 136.5h1M197 309.5h1M379 317.5h1M160 155.5h1M175 138.5h1M177 153.5h1M97 155.5h1M373 289.5h1M373 304.5h1M352 309.5h1M306 92.5h1M373 101.5h1M295 141.5h1M366 150.5h1M151 143.5h1M101 339.5h1M377 292.5h1M388 89.5h1M176 300.5h1M382 300.5h1M314 134.5h1M396 337.5h1M304 331.5h1M167 317.5h1M290 138.5h1M375 109.5h1M372 327.5h1M179 124.5h1M161 144.5h1M330 118.5h1M374 298.5h1M330 307.5h1M369 106.5h1M140 145.5h1M212 113.5h1M139 335.5h1M402 274.5h1M190 150.5h1M196 149.5h1M176 139.5h1M209 103.5h1M397 286.5h1M337 321.5h1M391 310.5h1M338 103.5h1M184 128.5h1M314 337.5h1M126 332.5h1M99 330.5h1M279 135.5h1M206 305.5h1M199 122.5h1M204 121.5h1M191 333.5h1M156 332.5h1M114 162.5h1M371 290.5h1M134 156.5h1M316 334.5h1M380 294.5h1M281 304.5h1M301 139.5h1M313 333.5h1M391 297.5h1M395 97.5h1M118 151.5h1M389 287.5h1M143 163.5h1M102 152.5h1M327 144.5h1M344 336.5h1M181 138.5h1M323 332.5h1M198 137.5h1M281 318.5h1M359 331.5h1M389 301.5h1M324 337.5h1M300 143.5h1M288 137.5h1M183 313.5h1M196 156.5h1M369 293.5h1M119 149.5h1M168 324.5h1M104 151.5h1M139 332.5h1M107 334.5h1M182 133.5h1M157 142.5h1M303 134.5h1M313 149.5h1M163 141.5h1M159 138.5h1M394 75.5h1M173 114.5h1M173 124.5h1M203 141.5h1M313 331.5h1M140 334.5h1M350 306.5h1M382 331.5h1M104 335.5h1M148 332.5h1M205 145.5h1M119 146.5h1M180 327.5h1M377 82.5h1M391 96.5h1M389 300.5h1M187 312.5h1M364 296.5h1M112 338.5h1M205 112.5h1M377 317.5h1M380 295.5h1M181 317.5h1M185 324.5h1M101 334.5h1M137 321.5h1M158 118.5h1M288 151.5h1M275 111.5h1M203 144.5h1M325 301.5h1M318 98.5h1M158 146.5h1M149 336.5h1M380 331.5h1M180 150.5h1M172 150.5h1M213 137.5h1M316 151.5h1M328 326.5h1M397 294.5h1M205 314.5h1M353 145.5h1M402 273.5h1M374 138.5h1M162 337.5h1M331 330.5h1M301 336.5h1M282 136.5h1M280 134.5h1M293 139.5h1M307 154.5h1M167 337.5h1M166 333.5h1M374 314.5h1M295 156.5h1M285 155.5h1M289 337.5h1M368 103.5h1M277 311.5h1M195 323.5h1M113 329.5h1M314 108.5h1M131 315.5h1M393 337.5h1M296 324.5h1M136 153.5h1M325 338.5h1M325 331.5h1M357 311.5h1M336 335.5h1M340 347.5h1M312 118.5h1M133 163.5h1M158 147.5h1M339 145.5h1M177 118.5h1M354 326.5h1M94 328.5h1M127 157.5h1M326 146.5h1M400 292.5h1M323 153.5h1M279 139.5h1M169 330.5h1M366 310.5h1M349 328.5h1M184 320.5h1M141 151.5h1M380 283.5h1M149 335.5h1M129 329.5h1M157 153.5h1M96 160.5h1M332 102.5h1M373 294.5h1M293 137.5h1M311 135.5h1M136 152.5h1M309 151.5h1M164 148.5h1M204 127.5h1M355 332.5h1M160 319.5h1M387 297.5h1M122 341.5h1M139 151.5h1M168 328.5h1M159 135.5h1M302 108.5h1M188 118.5h1M179 150.5h1M164 330.5h1M362 294.5h1M346 331.5h1M390 149.5h1M281 312.5h1M104 156.5h1M152 307.5h1M334 96.5h1M141 132.5h1M181 130.5h1M400 290.5h1M319 146.5h1M364 338.5h1M351 343.5h1M360 85.5h1M401 87.5h1M378 342.5h1M310 323.5h1M172 157.5h1M306 329.5h1M121 342.5h1M105 153.5h1M165 144.5h1M368 293.5h1M179 146.5h1M99 155.5h1M177 329.5h1M201 309.5h1M169 313.5h1M171 339.5h1M299 338.5h1M130 158.5h1M386 305.5h1M363 303.5h1M329 112.5h1M131 334.5h1M297 145.5h1M179 129.5h1M187 153.5h1M316 157.5h1M202 142.5h1M302 330.5h1M194 301.5h1M361 85.5h1M199 155.5h1" stroke="#d0d0ff" stroke-width="1" fill="none"/>
<path d="M159 334.5h1M135 151.5h1M345 337.5h1M111 156.5h1M328 336.5h1M145 154.5h1M126 153.5h1M126 126.5h1M165 156.5h1M133 158.5h1M301 157.5h1M195 311.5h1M389 86.5h1M363 84.5h1M174 140.5h1M299 151.5h1M293 141.5h1M336 308.5h1M351 331.5h1M203 309.5h1M203 137.5h1M336 98.5h1M378 87.5h1M365 297.5h1M407 308.5h1M303 333.5h1M351 106.5h1M402 288.5h1M306 335.5h1M374 113.5h1M371 75.5h1M142 331.5h1M323 330.5h1M194 111.5h1M213 150.5h1M332 118.5h1M356 103.5h1M333 330.5h1M309 146.5h1M343 302.5h1M217 105.5h1M101 135.5h1M169 152.5h1M161 320.5h1M297 141.5h1M105 327.5h1M390 92.5h1M119 337.5h1M403 272.5h1M399 301.5h1M114 329.5h1M177 313.5h1M123 340.5h1M303 139.5h1M328 151.5h1M332 108.5h1M119 154.5h1M382 146.5h1M165 130.5h1M190 116.5h1M196 303.5h1M192 120.5h1M154 323.5h1M378 84.5h1M122 335.5h1M373 91.5h1M335 334.5h1M349 309.5h1M102 330.5h1M139 335.5h1M190 319.5h1M400 296.5h1M179 123.5h1M341 121.5h1M400 265.5h1M400 80.5h1M187 122.5h1M178 140.5h1M138 151.5h1M326 335.5h1M194 318.5h1M178 143.5h1M279 133.5h1M99 153.5h1M380 295.5h1M195 146.5h1M318 308.5h1M373 291.5h1M167 132.5h1M317 327.5h1M376 280.5h1M191 159.5h1M385 283.5h1M365 334.5h1M124 154.5h1M360 297.5h1M193 112.5h1M164 134.5h1M184 327.5h1M178 340.5h1M158 115.5h1M282 131.5h1M184 115.5h1M184 144.5h1M296 132.5h1M311 141.5h1M309 327.5h1M363 301.5h1M116 331.5h1M153 327.5h1M192 317.5h1M375 87.5h1M184 120.5h1M127 338.5h1M135 149.5h1M112 158.5h1M206 119.5h1M372 297.5h1M300 153.5h1M339 330.5h1M156 336.5h1M381 307.5h1M189 133.5h1M200 113.5h1M398 273.5h1M308 329.5h1M330 109.5h1M195 330.5h1M383 294.5h1M144 336.5h1M316 149.5h1M358 335.5h1M183 328.5h1M330 329.5h1M380 76.5h1M158 138.5h1M282 144.5h1M286 338.5h1M361 107.5h1M302 148.5h1M300 145.5h1M129 161.5h1M282 151.5h1M182 117.5h1M345 332.5h1M385 307.5h1M307 138.5h1M129 331.5h1M298 338.5h1M295 150.5h1M387 89.5h1M170 130.5h1M176 159.5h1M280 144.5h1M369 90.5h1M295 329.5h1M368 312.5h1M164 147.5h1M197 319.5h1M340 100.5h1M284 114.5h1M168 152.5h1M294 140.5h1M162 150.5h1M115 151.5h1M336 334.5h1M322 306.5h1M389 94.5h1M209 333.5h1M377 318.5h1M213 312.5h1M135 124.5h1M323 327.5h1M401 331.5h1M318 335.5h1M165 313.5h1M140 142.5h1M352 334.5h1M304 155.5h1M155 326.5h1M329 146.5h1M304 107.5h1M205 303.5h1M301 138.5h1M149 146.5h1M303 330.5h1M388 285.5h1M106 131.5h1M172 311.5h1M376 85.5h1M320 342.5h1M179 109.5h1M189 148.5h1M154 335.5h1M139 337.5h1M386 329.5h1M92 149.5h1M92 145.5h1M123 152.5h1M199 128.5h1M116 135.5h1M169 339.5h1M310 312.5h1M348 88.5h1M182 127.5h1M358 315.5h1M291 319.5h1M172 316.5h1M166 127.5h1M370 302.5h1M126 154.5h1M134 341.5h1M130 153.5h1M341 100.5h1M300 343.5h1M324 142.5h1M179 317.5h1M93 151.5h1M107 331.5h1M188 311.5h1M380 326.5h1M293 315.5h1M281 327.5h1M136 328.5h1M388 295.5h1M177 338.5h1M390 292.5h1M177 128.5h1M162 324.5h1M173 322.5h1M94 149.5h1M204 127.5h1M353 328.5h1M398 93.5h1M120 154.5h1M133 152.5h1M181 120.5h1M407 148.5h1M131 153.5h1M124 333.5h1M195 121.5h1M355 335.5h1M331 334.5h1M366 89.5h1M128 336.5h1M347 338.5h1M281 322.5h1M154 121.5h1M293 148.5h1M122 334.5h1M157 149.5h1M148 330.5h1M149 133.5h1M392 274.5h1M385 295.5h1M335 301.5h1M155 333.5h1M130 331.5h1M321 144.5h1M296 340.5h1M122 153.5h1M303 157.5h1M401 295.5h1M163 315.5h1M195 318.5h1M382 82.5h1M352 105.5h1M400 82.5h1M118 331.5h1M369 297.5h1M204 126.5h1M318 112.5h1M322 336.5h1M373 303.5h1M114 147.5h1M122 144.5h1M107 152.5h1M207 107.5h1M135 156.5h1M301 137.5h1M401 296.5h1M275 121.5h1M365 103.5h1M203 100.5h1M346 154.5h1M210 322.5h1M336 327.5h1M352 97.5h1M409 323.5h1M376 84.5h1M102 152.5h1M167 143.5h1M296 108.5h1M297 333.5h1M195 96.5h1M314 141.5h1M370 81.5h1M362 92.5h1M306 138.5h1M396 87.5h1M372 159.5h1M377 94.5h1M355 332.5h1M103 331.5h1M390 82.5h1M125 333.5h1M200 112.5h1M121 143.5h1M98 147.5h1M177 129.5h1M341 327.5h1M396 83.5h1M198 130.5h1M195 299.5h1M130 338.5h1M131 337.5h1M320 335.5h1M171 330.5h1M170 115.5h1M344 94.5h1M118 153.5h1M351 319.5h1M328 105.5h1M163 330.5h1M128 337.5h1M119 333.5h1M188 119.5h1M97 151.5h1M381 334.5h1M188 114.5h1M383 79.5h1M377 146.5h1M175 329.5h1M385 68.5h1M173 123.5h1M148 147.5h1M162 148.5h1M364 325.5h1M136 332.5h1M384 303.5h1M133 146.5h1M204 324.5h1M390 299.5h1M286 140.5h1M355 141.5h1M307 141.5h1M291 153.5h1M363 313.5h1M97 328.5h1M306 137.5h1M280 148.5h1M203 303.5h1M312 124.5h1M203 294.5h1M351 340.5h1M289 143.5h1M179 118.5h1M188 146.5h1M144 320.5h1M194 131.5h1M332 335.5h1M93 160.5h1M109 347.5h1M127 330.5h1M101 150.5h1M379 81.5h1M316 316.5h1M167 116.5h1M164 336.5h1M390 334.5h1M294 118.5h1M330 106.5h1M389 87.5h1M323 335.5h1M380 85.5h1M141 330.5h1M175 307.5h1M315 325.5h1M328 326.5h1M124 130.5h1M120 335.5h1M353 99.5h1M281 117.5h1M159 153.5h1M360 98.5h1M187 146.5h1M197 312.5h1M201 152.5h1M294 330.5h1M318 139.5h1M383 98.5h1M200 108.5h1M147 149.5h1M406 291.5h1M188 116.5h1M160 114.5h1M207 150.5h1M398 344.5h1M295 311.5h1M154 147.5h1M384 301.5h1M147 332.5h1M390 86.5h1M318 148.5h1M153 124.5h1M393 338.5h1M214 122.5h1M370 285.5h1M127 152.5h1M193 127.5h1M411 285.5h1M375 326.5h1M130 165.5h1M318 144.5h1M309 109.5h1M120 144.5h1M387 84.5h1M113 319.5h1M122 331.5h1M148 149.5h1M286 142.5h1M162 332.5h1M337 335.5h1M324 330.5h1M333 328.5h1M309 338.5h1M319 130.5h1M391 83.5h1M397 83.5h1M149 155.5h1M136 329.5h1M128 147.5h1M386 279.5h1M396 80.5h1M171 323.5h1M303 143.5h1M378 281.5h1M168 127.5h1M198 314.5h1M136 123.5h1M371 324.5h1M299 100.5h1M150 152.5h1M184 314.5h1M375 303.5h1M171 319.5h1M114 333.5h1M377 89.5h1M367 330.5h1M128 314.5h1M300 141.5h1M191 131.5h1M146 148.5h1M202 115.5h1M280 131.5h1M184 326.5h1M315 113.5h1M371 84.5h1M277 105.5h1M166 136.5h1M320 330.5h1M409 288.5h1M398 294.5h1M180 332.5h1M347 110.5h1M177 146.5h1M186 337.5h1M108 141.5h1M186 142.5h1M369 94.5h1M196 294.5h1M122 332.5h1M145 152.5h1M371 292.5h1M175 304.5h1M394 89.5h1M144 339.5h1M380 145.5h1M351 338.5h1M313 344.5h1M334 344.5h1M289 133.5h1M392 156.5h1M219 123.5h1M173 153.5h1M155 157.5h1M288 329.5h1M291 325.5h1M139 333.5h1M387 285.5h1M95 333.5h1M322 297.5h1M362 106.5h1M170 314.5h1M216 128.5h1M342 138.5h1M378 100.5h1M338 303.5h1M301 126.5h1M329 123.5h1M385 81.5h1M397 293.5h1M148 151.5h1M103 153.5h1M162 331.5h1M297 140.5h1M107 336.5h1M191 328.5h1M333 334.5h1M142 146.5h1M296 146.5h1M120 333.5h1M160 328.5h1M131 147.5h1M191 309.5h1M277 149.5h1M358 94.5h1M281 155.5h1M292 141.5h1M325 334.5h1M377 296.5h1M132 335.5h1M214 317.5h1M383 81.5h1M314 140.5h1M160 317.5h1M372 291.5h1M371 82.5h1M278 137.5h1M168 121.5h1M282 320.5h1M294 141.5h1M173 149.5h1M391 304.5h1M94 148.5h1M379 307.5h1M347 322.5h1M153 330.5h1M144 331.5h1M377 306.5h1M190 311.5h1M175 111.5h1M154 332.5h1M161 150.5h1M125 334.5h1M160 338.5h1M174 329.5h1M204 129.5h1M189 331.5h1M109 327.5h1M378 300.5h1M130 148.5h1M185 310.5h1M377 297.5h1M402 75.5h1M159 324.5h1M120 149.5h1M325 151.5h1M177 323.5h1M385 115.5h1M348 106.5h1M113 163.5h1M130 155.5h1M348 102.5h1M96 154.5h1M369 340.5h1M285 138.5h1M392 285.5h1M343 333.5h1M317 146.5h1M189 306.5h1M328 313.5h1M175 326.5h1M185 332.5h1M372 292.5h1M141 158.5h1M408 72.5h1M328 147.5h1M364 160.5h1M314 333.5h1M370 295.5h1M396 88.5h1M354 97.5h1M211 111.5h1M383 99.5h1M186 98.5h1M384 292.5h1M135 331.5h1M99 338.5h1M120 139.5h1M163 149.5h1M186 136.5h1M290 329.5h1M135 152.5h1M314 301.5h1M321 104.5h1M349 328.5h1M189 312.5h1M189 307.5h1M327 337.5h1M132 333.5h1M134 160.5h1M168 327.5h1M372 299.5h1M377 145.5h1M156 332.5h1M98 142.5h1M203 108.5h1M385 88.5h1M149 331.5h1M170 135.5h1M352 100.5h1M195 126.5h1M307 144.5h1M116 149.5h1M165 301.5h1M405 281.5h1M334 327.5h1M178 150.5h1M125 149.5h1M100 321.5h1M337 90.5h1M200 304.5h1M328 99.5h1M340 339.5h1M299 328.5h1M116 330.5h1M283 140.5h1M307 142.5h1M335 336.5h1M393 89.5h1M212 147.5h1M329 144.5h1M124 331.5h1M317 113.5h1M385 317.5h1M179 148.5h1M311 111.5h1M158 133.5h1M382 294.5h1M126 342.5h1M189 298.5h1M136 342.5h1M327 106.5h1M94 144.5h1M95 330.5h1M293 334.5h1M152 335.5h1M120 160.5h1M322 341.5h1M373 314.5h1M174 154.5h1M373 84.5h1M214 158.5h1M339 342.5h1M149 145.5h1M385 290.5h1M202 310.5h1M360 97.5h1M138 122.5h1M381 288.5h1M179 120.5h1M310 329.5h1M324 140.5h1M196 122.5h1M349 312.5h1M114 316.5h1M176 317.5h1M356 335.5h1M181 326.5h1M386 283.5h1M156 150.5h1M145 145.5h1M172 330.5h1M208 103.5h1M360 329.5h1M185 119.5h1M139 323.5h1M221 157.5h1M168 156.5h1M286 116.5h1M306 139.5h1M333 339.5h1M138 330.5h1M150 156.5h1M182 111.5h1M147 318.5h1M137 147.5h1M118 144.5h1M283 116.5h1M183 313.5h1M157 130.5h1M304 322.5h1M342 320.5h1M150 148.5h1M280 139.5h1M98 149.5h1M180 320.5h1M104 331.5h1M182 153.5h1M382 71.5h1M291 128.5h1M340 135.5h1M105 162.5h1M112 330.5h1M183 135.5h1M290 135.5h1M186 330.5h1M330 99.5h1M379 295.5h1M350 317.5h1M136 339.5h1M382 85.5h1M308 328.5h1M191 117.5h1M122 149.5h1M401 293.5h1M133 149.5h1M170 129.5h1M119 148.5h1M381 332.5h1M112 329.5h1M178 136.5h1M145 336.5h1M383 305.5h1M151 304.5h1M383 323.5h1M198 112.5h1M373 290.5h1M369 296.5h1M407 302.5h1M377 294.5h1M292 139.5h1M126 339.5h1M180 313.5h1M128 139.5h1M199 110.5h1M188 313.5h1M283 151.5h1M150 331.5h1M324 331.5h1M200 140.5h1M330 326.5h1M172 329.5h1M376 305.5h1M181 332.5h1M327 326.5h1M163 331.5h1M151 330.5h1M365 339.5h1M347 293.5h1M406 76.5h1M292 144.5h1M154 329.5h1M333 331.5h1M288 134.5h1M143 149.5h1M403 77.5h1M128 155.5h1M139 151.5h1M160 331.5h1M115 329.5h1M352 152.5h1M291 331.5h1M118 162.5h1M179 144.5h1M381 105.5h1M146 331.5h1M314 317.5h1M316 340.5h1M131 333.5h1M96 155.5h1M317 108.5h1M389 301.5h1M97 128.5h1M334 139.5h1M145 316.5h1M153 310.5h1M364 78.5h1M393 294.5h1M153 338.5h1M200 132.5h1M176 127.5h1M133 326.5h1M167 140.5h1M154 136.5h1M165 146.5h1M378 149.5h1M188 330.5h1M376 308.5h1M164 148.5h1M384 294.5h1M151 147.5h1M201 136.5h1M377 85.5h1M337 322.5h1M166 133.5h1M306 329.5h1M353 333.5h1M159 157.5h1M319 151.5h1M132 329.5h1M399 341.5h1M139 329.5h1M203 136.5h1M338 340.5h1M125 337.5h1M179 132.5h1M326 336.5h1M308 132.5h1M399 331.5h1M306 140.5h1M346 298.5h1M364 333.5h1M138 336.5h1M381 290.5h1M120 148.5h1M156 146.5h1M190 140.5h1M336 336.5h1M174 324.5h1M179 313.5h1M173 329.5h1M385 286.5h1M282 315.5h1M127 155.5h1M308 336.5h1M161 321.5h1M186 115.5h1M183 336.5h1M166 328.5h1M393 293.5h1M341 332.5h1M203 98.5h1M368 305.5h1M153 160.5h1M131 335.5h1M199 100.5h1M129 143.5h1M286 138.5h1M357 72.5h1M173 323.5h1M402 295.5h1M311 142.5h1M120 334.5h1M291 330.5h1M133 139.5h1M389 281.5h1M108 315.5h1M392 329.5h1M155 330.5h1M128 154.5h1M133 330.5h1M328 141.5h1M213 329.5h1M140 121.5h1M298 145.5h1M394 303.5h1M380 296.5h1M162 335.5h1M326 332.5h1M311 150.5h1M278 302.5h1M111 151.5h1M369 312.5h1M138 329.5h1M132 339.5h1M399 286.5h1M291 316.5h1M377 72.5h1M190 317.5h1M328 329.5h1M130 342.5h1M403 340.5h1M361 312.5h1M182 307.5h1M135 157.5h1M313 335.5h1M105 146.5h1M337 142.5h1M373 99.5h1M345 335.5h1M126 148.5h1M299 329.5h1M109 161.5h1M129 135.5h1M365 139.5h1M284 136.5h1M143 311.5h1M160 319.5h1M104 149.5h1M397 87.5h1M196 127.5h1M169 312.5h1M387 105.5h1M135 340.5h1M181 318.5h1M177 144.5h1M157 301.5h1M340 149.5h1M205 327.5h1M366 303.5h1M201 105.5h1M145 329.5h1M332 112.5h1M388 282.5h1M346 144.5h1M132 341.5h1M176 324.5h1M102 335.5h1M131 331.5h1M368 295.5h1M191 306.5h1M322 148.5h1M151 331.5h1M189 120.5h1M363 92.5h1M193 306.5h1M121 160.5h1M348 79.5h1M212 155.5h1M178 327.5h1M321 297.5h1M315 329.5h1M365 291.5h1M191 152.5h1M130 344.5h1M386 327.5h1M365 147.5h1M139 327.5h1M187 116.5h1M352 87.5h1M375 78.5h1M185 117.5h1M114 338.5h1M311 143.5h1M164 316.5h1M301 333.5h1M169 332.5h1M394 292.5h1M385 82.5h1M350 97.5h1M127 341.5h1M364 93.5h1M391 289.5h1M169 319.5h1M171 117.5h1M106 331.5h1M285 136.5h1M387 288.5h1M383 83.5h1M206 302.5h1M301 142.5h1M131 155.5h1M116 156.5h1M156 320.5h1M180 140.5h1M121 338.5h1M179 319.5h1M290 156.5h1M93 150.5h1M383 293.5h1M193 114.5h1M189 310.5h1M158 331.5h1M348 330.5h1M146 334.5h1M201 107.5h1M310 302.5h1M179 311.5h1M305 322.5h1M144 159.5h1M315 144.5h1M315 119.5h1M365 296.5h1M398 284.5h1M335 335.5h1M315 145.5h1M391 284.5h1M109 153.5h1M317 91.5h1M374 86.5h1M403 76.5h1M398 288.5h1M134 149.5h1M198 110.5h1M120 143.5h1M378 95.5h1M197 149.5h1M366 309.5h1M195 119.5h1M274 330.5h1M198 109.5h1M186 313.5h1M353 299.5h1M380 86.5h1M314 321.5h1M128 145.5h1M103 314.5h1M330 104.5h1M192 116.5h1M127 150.5h1M306 143.5h1M135 329.5h1M383 102.5h1M161 141.5h1M111 333.5h1M344 114.5h1M123 154.5h1M176 152.5h1M400 90.5h1M102 338.5h1M107 153.5h1M385 90.5h1M391 102.5h1M186 126.5h1M129 144.5h1M389 77.5h1M336 332.5h1M178 121.5h1M311 156.5h1M384 81.5h1M279 134.5h1M337 101.5h1M345 309.5h1M320 325.5h1M379 103.5h1M375 90.5h1M121 334.5h1M328 335.5h1M176 313.5h1M394 332.5h1M130 150.5h1M129 340.5h1M205 329.5h1M297 332.5h1M329 341.5h1M345 313.5h1M96 338.5h1M370 92.5h1M382 305.5h1M133 162.5h1M107 332.5h1M356 313.5h1M403 298.5h1M177 307.5h1M169 122.5h1M405 280.5h1M369 339.5h1M367 295.5h1M102 133.5h1M187 319.5h1M132 338.5h1M352 328.5h1M332 327.5h1M395 307.5h1M118 332.5h1M332 154.5h1M390 296.5h1M148 332.5h1M202 124.5h1M358 92.5h1M149 157.5h1M319 157.5h1M402 275.5h1M172 140.5h1M286 316.5h1M293 155.5h1M124 334.5h1M281 299.5h1M381 289.5h1M147 157.5h1M284 147.5h1M203 127.5h1M198 330.5h1M196 336.5h1M322 163.5h1M384 293.5h1M184 140.5h1M163 128.5h1M105 153.5h1M157 147.5h1M145 330.5h1M339 344.5h1M156 334.5h1M214 320.5h1M188 128.5h1M363 293.5h1M200 307.5h1M346 318.5h1M216 302.5h1M392 288.5h1M285 128.5h1M159 335.5h1M358 333.5h1M321 306.5h1M167 313.5h1M122 154.5h1M346 339.5h1M113 154.5h1M352 304.5h1M317 342.5h1M135 333.5h1M116 338.5h1M200 123.5h1M381 79.5h1M389 322.5h1M181 338.5h1M140 316.5h1M320 140.5h1M381 295.5h1M145 147.5h1M396 289.5h1M375 99.5h1M174 152.5h1M317 135.5h1M316 152.5h1M297 325.5h1M331 333.5h1M283 111.5h1M185 335.5h1M195 115.5h1M384 324.5h1M382 302.5h1M169 145.5h1M331 294.5h1M155 146.5h1M167 315.5h1M187 335.5h1M278 330.5h1M390 90.5h1M161 120.5h1M142 149.5h1M392 95.5h1M122 333.5h1M325 336.5h1M294 143.5h1M397 336.5h1M349 336.5h1M163 324.5h1M183 118.5h1M336 331.5h1M187 290.5h1M205 331.5h1M376 297.5h1M307 153.5h1M364 285.5h1M327 336.5h1M380 79.5h1M395 81.5h1M363 105.5h1M375 89.5h1M389 71.5h1M337 319.5h1M166 331.5h1M334 336.5h1M335 324.5h1M187 298.5h1M124 152.5h1M388 88.5h1M193 302.5h1M152 331.5h1M357 328.5h1M385 96.5h1M197 310.5h1M333 338.5h1M368 314.5h1M397 89.5h1M317 145.5h1M126 326.5h1M326 144.5h1M188 318.5h1M151 328.5h1M146 133.5h1M333 325.5h1M329 326.5h1M156 140.5h1M120 153.5h1M123 329.5h1M145 153.5h1M383 301.5h1M184 322.5h1M364 82.5h1M168 137.5h1M109 154.5h1M400 273.5h1M173 146.5h1M168 298.5h1M330 126.5h1M184 306.5h1M165 148.5h1M168 329.5h1M176 322.5h1M381 330.5h1M306 147.5h1M374 88.5h1M114 157.5h1M114 330.5h1M220 138.5h1M342 331.5h1M324 327.5h1M190 128.5h1M284 121.5h1M293 327.5h1M152 337.5h1M320 332.5h1M280 135.5h1M377 106.5h1M273 129.5h1M355 305.5h1M359 151.5h1M170 132.5h1M124 146.5h1M171 132.5h1M124 148.5h1M409 305.5h1M192 122.5h1M139 123.5h1M390 289.5h1M193 323.5h1M217 125.5h1M331 123.5h1M315 137.5h1M181 297.5h1M314 147.5h1M166 137.5h1M160 329.5h1M185 149.5h1M174 127.5h1M108 337.5h1M179 127.5h1M365 144.5h1M369 80.5h1M340 148.5h1M180 319.5h1M285 310.5h1M329 119.5h1M183 327.5h1M191 323.5h1M136 148.5h1M390 103.5h1M364 104.5h1M96 157.5h1M288 153.5h1M115 155.5h1M339 313.5h1M287 155.5h1M382 156.5h1M282 126.5h1M397 95.5h1M200 147.5h1M375 304.5h1M130 146.5h1M382 92.5h1M134 338.5h1M125 146.5h1M299 148.5h1M373 92.5h1M332 338.5h1M292 322.5h1M98 336.5h1M354 317.5h1M194 113.5h1M146 323.5h1M153 134.5h1M188 136.5h1M386 287.5h1M324 328.5h1M189 156.5h1M301 307.5h1M312 147.5h1M136 331.5h1M333 327.5h1M113 331.5h1M358 288.5h1M385 304.5h1M181 328.5h1M206 149.5h1M217 316.5h1M289 138.5h1M185 125.5h1M203 328.5h1M96 334.5h1M151 153.5h1M363 322.5h1M197 128.5h1M367 86.5h1M202 324.5h1M331 329.5h1M187 130.5h1M141 121.5h1M169 317.5h1M394 79.5h1M288 142.5h1M199 109.5h1M373 145.5h1M219 142.5h1M371 104.5h1M388 86.5h1M113 337.5h1M370 97.5h1M329 328.5h1M134 340.5h1M317 319.5h1M182 132.5h1M143 158.5h1M363 334.5h1M307 139.5h1M313 142.5h1M182 141.5h1M329 151.5h1M136 318.5h1M386 289.5h1M394 77.5h1M116 148.5h1M110 332.5h1M171 113.5h1M396 102.5h1M101 137.5h1M398 290.5h1M108 340.5h1M113 153.5h1M408 96.5h1M314 316.5h1M368 84.5h1M179 142.5h1M304 152.5h1M297 334.5h1M385 294.5h1M337 328.5h1M125 343.5h1M152 148.5h1M130 160.5h1M340 293.5h1M390 140.5h1M193 299.5h1M280 119.5h1M197 137.5h1M308 146.5h1M142 153.5h1M184 304.5h1M341 111.5h1M276 145.5h1M170 137.5h1M197 307.5h1M104 134.5h1M347 97.5h1M295 328.5h1M303 150.5h1M155 334.5h1M311 146.5h1M406 337.5h1M367 99.5h1M375 331.5h1M386 293.5h1M172 127.5h1M379 83.5h1M156 322.5h1M285 340.5h1M162 149.5h1M178 130.5h1M296 330.5h1M294 327.5h1M151 120.5h1M387 151.5h1M391 302.5h1M390 85.5h1M125 338.5h1M337 336.5h1M141 333.5h1M185 105.5h1M147 333.5h1M357 299.5h1M124 155.5h1M309 141.5h1M181 121.5h1M183 338.5h1M131 140.5h1M107 146.5h1M313 138.5h1M282 147.5h1M391 287.5h1M155 154.5h1M283 114.5h1M154 334.5h1M198 323.5h1M191 319.5h1M158 154.5h1M201 312.5h1M200 326.5h1M282 108.5h1M191 305.5h1M161 142.5h1M377 91.5h1M106 332.5h1M387 77.5h1M309 311.5h1M304 329.5h1M340 329.5h1M171 297.5h1M373 299.5h1M320 316.5h1M378 83.5h1M367 322.5h1M281 314.5h1M373 302.5h1M379 88.5h1M194 116.5h1M302 329.5h1M376 101.5h1M208 156.5h1M176 316.5h1M381 97.5h1M332 333.5h1M143 147.5h1M347 160.5h1M187 118.5h1M176 125.5h1M159 310.5h1M325 321.5h1M119 335.5h1M198 149.5h1M133 331.5h1M280 150.5h1M399 289.5h1M391 292.5h1M311 154.5h1M100 155.5h1M396 297.5h1M180 305.5h1M123 337.5h1M359 98.5h1M356 96.5h1M341 328.5h1M189 140.5h1M141 331.5h1M172 141.5h1M325 339.5h1M375 311.5h1M163 137.5h1M154 331.5h1M285 107.5h1M157 155.5h1M101 127.5h1M143 150.5h1M150 332.5h1M301 148.5h1M191 107.5h1M369 81.5h1M97 149.5h1M128 152.5h1M314 139.5h1M167 141.5h1M146 151.5h1M327 115.5h1M382 304.5h1M115 133.5h1M281 139.5h1M373 287.5h1M123 330.5h1M296 140.5h1M330 325.5h1M101 332.5h1M187 119.5h1M314 304.5h1M108 148.5h1M123 336.5h1M122 150.5h1M213 126.5h1M217 147.5h1M283 139.5h1M286 329.5h1M384 84.5h1M172 149.5h1M314 145.5h1M307 155.5h1M148 335.5h1M108 139.5h1M119 311.5h1M193 332.5h1M126 132.5h1M183 116.5h1M173 132.5h1M156 328.5h1M186 314.5h1M134 336.5h1M200 312.5h1M311 334.5h1M385 289.5h1M367 96.5h1M148 144.5h1M182 129.5h1M182 118.5h1M362 301.5h1M408 276.5h1M361 340.5h1M133 342.5h1M132 334.5h1M223 158.5h1M349 332.5h1M283 137.5h1M155 131.5h1M132 162.5h1M158 153.5h1M181 124.5h1M150 339.5h1M386 82.5h1M186 148.5h1M301 104.5h1M183 150.5h1M129 328.5h1M157 148.5h1M303 128.5h1M118 154.5h1M315 141.5h1M282 331.5h1M143 148.5h1M133 155.5h1M201 314.5h1M175 323.5h1M134 334.5h1M379 286.5h1M358 314.5h1M171 120.5h1M160 334.5h1M129 148.5h1M401 278.5h1M343 331.5h1M348 326.5h1M196 128.5h1M345 105.5h1M345 307.5h1M316 331.5h1M173 120.5h1M351 109.5h1M128 334.5h1M402 284.5h1M402 273.5h1M102 333.5h1M334 144.5h1M189 325.5h1M129 127.5h1M376 326.5h1M134 156.5h1M387 87.5h1M178 145.5h1M185 140.5h1M358 109.5h1M125 341.5h1M374 97.5h1M140 329.5h1M302 140.5h1M385 292.5h1M117 158.5h1M209 136.5h1M391 282.5h1M168 138.5h1M322 329.5h1M190 308.5h1M104 153.5h1M329 152.5h1M343 307.5h1M144 160.5h1M356 141.5h1M129 139.5h1M138 155.5h1M313 149.5h1M177 317.5h1M206 151.5h1M175 299.5h1M382 284.5h1M357 305.5h1M101 162.5h1M300 140.5h1M378 111.5h1M144 335.5h1M389 88.5h1M187 315.5h1M392 89.5h1M357 98.5h1M367 302.5h1M396 303.5h1M121 343.5h1M149 335.5h1M306 151.5h1M124 153.5h1M167 334.5h1M173 159.5h1M369 327.5h1M150 335.5h1M341 293.5h1M377 81.5h1M184 141.5h1M136 150.5h1M137 343.5h1M94 154.5h1M168 336.5h1M330 95.5h1M314 328.5h1M162 322.5h1M287 335.5h1M148 327.5h1M109 163.5h1M142 150.5h1M320 141.5h1M160 148.5h1M375 109.5h1M142 314.5h1M142 324.5h1M118 157.5h1M395 143.5h1M376 105.5h1M175 150.5h1M189 128.5h1M160 326.5h1M391 85.5h1M105 335.5h1M134 154.5h1M194 95.5h1M366 305.5h1M156 330.5h1M163 321.5h1M378 323.5h1M141 337.5h1M330 327.5h1M99 148.5h1M358 324.5h1M197 145.5h1M200 313.5h1M133 333.5h1M328 107.5h1M372 296.5h1M185 324.5h1M385 83.5h1M376 321.5h1M371 144.5h1M171 328.5h1M354 339.5h1M107 155.5h1M213 128.5h1M192 124.5h1M312 140.5h1M354 303.5h1M397 289.5h1M308 141.5h1M299 138.5h1M179 130.5h1M278 119.5h1M219 299.5h1M158 337.5h1M168 147.5h1M178 333.5h1M152 309.5h1M204 292.5h1M160 313.5h1M156 337.5h1M214 309.5h1M152 330.5h1M151 145.5h1M111 336.5h1M164 161.5h1M193 119.5h1M218 307.5h1M291 147.5h1M381 91.5h1M397 69.5h1M364 92.5h1M336 310.5h1M387 88.5h1M371 315.5h1M135 128.5h1M323 336.5h1M384 328.5h1M336 148.5h1M357 102.5h1M365 287.5h1M329 339.5h1M101 158.5h1M305 339.5h1M339 93.5h1M141 339.5h1M96 153.5h1M305 334.5h1M170 125.5h1M112 337.5h1M165 149.5h1M199 314.5h1M365 303.5h1M332 323.5h1M191 126.5h1M146 340.5h1M163 155.5h1M134 339.5h1M305 147.5h1M121 148.5h1M310 301.5h1M350 93.5h1M290 152.5h1M132 330.5h1M200 139.5h1M401 286.5h1M352 84.5h1M127 336.5h1M397 285.5h1M129 338.5h1M199 113.5h1M392 87.5h1M342 337.5h1M318 120.5h1M398 283.5h1M297 137.5h1M107 337.5h1M156 155.5h1M126 325.5h1M384 326.5h1M278 331.5h1M211 330.5h1M407 333.5h1M317 111.5h1M391 148.5h1M403 323.5h1M173 125.5h1M300 311.5h1M350 331.5h1M392 81.5h1M207 120.5h1M386 302.5h1M354 333.5h1M345 300.5h1M163 156.5h1M396 290.5h1M125 150.5h1M363 89.5h1M175 311.5h1M284 133.5h1M378 81.5h1M401 289.5h1M144 144.5h1M290 116.5h1M342 98.5h1M377 284.5h1M351 111.5h1M111 150.5h1M153 319.5h1M362 82.5h1M375 285.5h1M191 139.5h1M343 96.5h1M172 124.5h1M137 333.5h1M92 340.5h1M104 332.5h1M133 343.5h1M118 155.5h1M128 156.5h1M289 329.5h1M280 142.5h1M308 144.5h1M123 346.5h1M111 131.5h1M211 326.5h1M170 144.5h1M200 131.5h1M108 341.5h1M354 132.5h1M321 332.5h1M183 319.5h1M167 155.5h1M118 327.5h1M176 306.5h1M326 330.5h1M106 152.5h1M283 145.5h1M158 152.5h1M289 142.5h1M284 328.5h1M120 150.5h1M126 147.5h1M323 321.5h1M351 150.5h1M99 143.5h1M170 119.5h1M123 334.5h1M287 111.5h1M400 97.5h1M376 302.5h1M282 129.5h1M141 332.5h1M325 343.5h1M359 93.5h1M113 148.5h1M367 294.5h1M356 308.5h1M308 143.5h1M367 311.5h1M152 338.5h1M157 336.5h1M178 131.5h1M313 148.5h1M198 313.5h1M326 324.5h1M109 150.5h1M388 326.5h1M360 87.5h1M203 126.5h1M214 300.5h1M161 152.5h1M342 328.5h1M165 116.5h1M100 150.5h1M340 338.5h1M300 121.5h1M327 332.5h1M352 99.5h1M287 333.5h1M353 335.5h1M191 315.5h1M311 137.5h1M151 131.5h1M193 113.5h1M184 305.5h1M283 109.5h1M143 330.5h1M388 333.5h1M204 332.5h1M163 336.5h1M129 337.5h1M169 146.5h1M368 317.5h1M103 131.5h1M161 157.5h1M108 147.5h1M101 336.5h1M137 331.5h1M313 139.5h1M330 111.5h1M351 139.5h1M122 152.5h1M329 154.5h1M357 79.5h1M132 139.5h1M159 121.5h1M182 323.5h1M197 322.5h1M336 100.5h1M138 338.5h1M378 106.5h1M399 62.5h1M203 110.5h1M196 318.5h1M190 111.5h1M359 306.5h1M392 299.5h1M338 324.5h1M134 335.5h1M376 97.5h1M387 297.5h1M359 86.5h1M389 306.5h1M322 338.5h1M310 328.5h1M367 333.5h1M129 333.5h1M370 312.5h1M179 124.5h1M298 330.5h1M184 123.5h1M103 158.5h1M146 162.5h1M215 305.5h1M149 138.5h1M116 146.5h1M153 139.5h1M370 330.5h1M339 144.5h1M397 109.5h1M117 333.5h1M383 101.5h1M191 122.5h1M283 303.5h1M292 336.5h1M175 324.5h1M293 330.5h1M351 108.5h1M137 151.5h1M217 151.5h1M368 102.5h1M351 333.5h1M109 313.5h1M124 339.5h1M301 338.5h1M308 332.5h1M386 301.5h1M365 96.5h1M324 146.5h1M125 336.5h1M195 152.5h1M199 318.5h1M390 143.5h1M387 291.5h1M164 138.5h1M280 316.5h1M106 143.5h1M285 137.5h1M321 333.5h1M111 328.5h1M372 298.5h1M348 147.5h1M354 334.5h1M145 149.5h1M202 318.5h1M179 314.5h1M274 141.5h1M408 299.5h1M297 331.5h1M170 308.5h1M182 295.5h1M138 150.5h1M351 313.5h1M349 342.5h1M329 336.5h1M321 337.5h1M318 140.5h1M201 121.5h1M371 153.5h1M278 128.5h1M383 80.5h1M163 124.5h1M292 142.5h1M346 331.5h1M196 124.5h1M120 337.5h1M284 139.5h1M388 284.5h1M176 312.5h1M192 114.5h1M311 148.5h1M304 146.5h1M330 335.5h1M382 303.5h1M322 157.5h1M162 306.5h1M291 142.5h1M290 122.5h1M142 145.5h1M179 320.5h1M353 325.5h1M158 127.5h1M219 131.5h1M355 304.5h1M179 135.5h1M375 83.5h1M137 149.5h1M192 108.5h1M146 150.5h1M109 333.5h1M134 328.5h1M183 149.5h1M292 114.5h1M123 157.5h1M392 100.5h1M201 333.5h1M342 342.5h1M203 106.5h1M194 140.5h1M121 337.5h1M306 152.5h1M114 149.5h1M344 105.5h1M275 152.5h1M134 153.5h1M300 305.5h1M278 340.5h1M388 301.5h1M162 318.5h1M286 326.5h1M171 321.5h1M375 279.5h1M209 129.5h1M359 337.5h1M357 294.5h1M302 328.5h1M372 95.5h1M393 289.5h1M406 284.5h1M102 332.5h1M152 140.5h1M364 98.5h1M350 95.5h1M116 145.5h1M350 132.5h1M309 310.5h1M332 330.5h1M133 142.5h1M389 295.5h1M96 316.5h1M384 291.5h1M185 143.5h1M192 118.5h1M373 94.5h1M376 296.5h1M145 151.5h1M123 151.5h1M296 97.5h1M203 129.5h1M143 337.5h1M366 92.5h1M377 73.5h1M379 90.5h1M322 331.5h1M193 121.5h1M352 127.5h1M106 336.5h1M127 156.5h1M363 93.5h1M184 309.5h1M368 73.5h1M279 113.5h1M309 145.5h1M360 338.5h1M121 151.5h1M324 342.5h1M337 294.5h1M174 315.5h1M330 340.5h1M116 336.5h1M403 144.5h1M138 152.5h1M367 305.5h1M367 93.5h1M336 326.5h1M164 315.5h1M129 151.5h1M132 148.5h1M154 152.5h1M323 146.5h1M393 287.5h1M163 136.5h1M202 130.5h1M127 333.5h1M151 334.5h1M160 332.5h1M106 340.5h1M306 155.5h1M362 108.5h1M200 118.5h1M361 88.5h1M336 330.5h1M275 150.5h1M167 328.5h1M154 141.5h1M188 155.5h1M109 331.5h1M192 117.5h1M171 129.5h1M300 337.5h1M357 318.5h1M287 140.5h1M324 322.5h1M359 322.5h1M301 153.5h1M370 105.5h1M170 332.5h1M144 133.5h1M143 155.5h1M146 157.5h1M125 331.5h1M370 305.5h1M382 70.5h1M302 146.5h1M374 302.5h1M207 329.5h1M330 134.5h1M168 335.5h1M338 148.5h1M191 300.5h1M137 126.5h1M286 302.5h1M176 148.5h1M203 147.5h1M285 141.5h1M350 330.5h1M130 145.5h1M123 150.5h1M152 154.5h1M389 296.5h1M387 104.5h1M365 79.5h1M369 318.5h1M131 338.5h1M216 111.5h1M128 140.5h1M337 333.5h1M279 331.5h1M143 137.5h1M107 338.5h1M172 323.5h1M177 320.5h1M146 316.5h1M310 147.5h1M295 149.5h1M289 145.5h1M114 133.5h1M322 337.5h1M381 87.5h1M327 339.5h1M301 129.5h1M164 328.5h1M171 327.5h1M118 127.5h1M318 138.5h1M344 336.5h1M362 292.5h1M282 329.5h1M157 329.5h1M302 159.5h1M368 330.5h1M216 112.5h1M144 156.5h1M286 327.5h1M376 288.5h1M332 115.5h1M389 299.5h1M329 149.5h1M389 73.5h1M130 333.5h1M362 296.5h1M120 345.5h1M149 136.5h1M125 335.5h1M129 152.5h1M96 331.5h1M323 324.5h1M318 333.5h1M154 336.5h1M280 103.5h1M96 152.5h1M365 302.5h1M130 152.5h1M186 321.5h1M194 124.5h1M179 128.5h1M148 155.5h1M173 325.5h1M376 286.5h1M192 298.5h1M196 109.5h1M405 327.5h1M359 331.5h1M172 332.5h1M184 320.5h1M317 161.5h1M197 123.5h1M409 328.5h1M387 283.5h1M336 146.5h1M350 306.5h1M145 135.5h1M98 150.5h1M210 154.5h1M167 147.5h1M200 107.5h1M186 309.5h1M163 307.5h1M167 338.5h1M106 329.5h1M329 331.5h1M101 325.5h1M373 306.5h1M406 301.5h1M352 302.5h1M283 118.5h1M297 139.5h1M359 309.5h1M280 114.5h1M138 146.5h1M330 142.5h1M403 343.5h1M195 128.5h1M305 329.5h1M134 331.5h1M117 344.5h1M344 335.5h1M319 298.5h1M309 153.5h1M287 117.5h1M178 132.5h1M313 153.5h1M195 133.5h1M171 303.5h1M184 132.5h1M306 158.5h1M378 113.5h1M96 340.5h1M193 318.5h1M333 333.5h1M360 102.5h1M181 105.5h1M191 127.5h1M148 336.5h1M190 314.5h1M171 331.5h1M386 86.5h1M380 102.5h1M155 156.5h1M358 99.5h1M307 157.5h1M364 302.5h1M402 88.5h1M278 148.5h1M100 337.5h1M108 154.5h1M166 129.5h1M104 133.5h1M309 151.5h1M181 312.5h1M349 102.5h1M126 332.5h1M156 331.5h1M128 344.5h1M178 328.5h1M312 153.5h1M170 141.5h1M295 147.5h1M354 337.5h1M401 88.5h1M349 121.5h1M387 113.5h1M182 311.5h1M350 310.5h1M377 335.5h1M167 136.5h1M393 304.5h1M362 297.5h1M340 314.5h1M295 148.5h1M166 145.5h1M304 110.5h1M218 142.5h1M138 332.5h1M172 312.5h1M191 129.5h1M113 335.5h1M328 328.5h1M134 152.5h1M105 132.5h1M176 120.5h1M364 294.5h1M185 97.5h1M201 134.5h1M346 282.5h1M183 316.5h1M398 297.5h1M164 318.5h1M201 115.5h1M323 116.5h1M121 149.5h1M306 150.5h1M330 321.5h1M167 310.5h1M185 343.5h1M318 150.5h1M322 335.5h1M298 312.5h1M174 106.5h1M103 139.5h1M329 103.5h1M166 327.5h1M216 148.5h1M152 132.5h1M200 294.5h1M153 136.5h1M174 328.5h1M406 88.5h1M394 288.5h1M135 327.5h1M112 317.5h1M388 78.5h1M116 157.5h1M182 124.5h1M213 305.5h1M354 105.5h1M114 336.5h1M133 147.5h1M389 309.5h1M146 120.5h1M154 148.5h1M204 152.5h1M356 144.5h1M159 142.5h1M367 331.5h1M376 88.5h1M199 118.5h1M406 75.5h1M382 315.5h1M371 293.5h1M185 301.5h1M280 125.5h1M295 144.5h1M325 345.5h1M290 317.5h1M403 290.5h1M163 134.5h1M175 332.5h1M196 311.5h1M183 329.5h1M284 318.5h1M339 336.5h1M383 94.5h1M168 306.5h1M214 331.5h1M376 100.5h1M126 335.5h1M360 95.5h1M197 292.5h1M349 334.5h1M131 154.5h1M280 309.5h1M179 136.5h1M308 107.5h1M283 117.5h1M364 328.5h1M304 139.5h1M299 140.5h1M99 331.5h1M182 332.5h1M154 330.5h1M190 325.5h1M353 316.5h1M99 125.5h1M147 334.5h1M171 343.5h1M140 337.5h1M375 293.5h1M327 308.5h1M170 131.5h1M382 90.5h1M168 324.5h1M111 153.5h1M197 106.5h1M192 316.5h1M172 136.5h1M361 84.5h1M175 321.5h1M112 149.5h1M176 150.5h1M310 143.5h1M190 313.5h1M141 148.5h1M148 142.5h1M371 298.5h1M213 302.5h1M398 304.5h1M195 118.5h1M157 134.5h1M361 148.5h1M316 146.5h1M138 148.5h1M326 152.5h1M177 124.5h1M179 155.5h1M196 301.5h1M195 315.5h1M141 340.5h1M379 299.5h1M144 330.5h1M119 316.5h1M122 337.5h1M368 88.5h1M365 98.5h1M140 342.5h1M196 309.5h1M171 152.5h1M365 95.5h1M300 327.5h1M122 340.5h1M193 320.5h1M191 307.5h1M172 324.5h1M204 313.5h1M363 153.5h1M171 147.5h1M285 334.5h1M137 337.5h1M178 298.5h1M201 122.5h1M150 147.5h1M95 153.5h1M335 339.5h1M132 151.5h1M319 330.5h1M349 314.5h1M340 327.5h1M327 338.5h1M335 322.5h1M392 84.5h1M154 149.5h1M189 132.5h1M355 306.5h1M276 139.5h1M375 301.5h1M324 320.5h1M175 331.5h1M167 309.5h1M302 149.5h1M157 331.5h1M321 124.5h1M366 324.5h1M182 113.5h1M335 340.5h1M385 299.5h1M135 160.5h1M106 343.5h1M374 305.5h1M284 334.5h1M393 91.5h1M200 103.5h1M221 148.5h1M145 150.5h1M361 327.5h1M196 108.5h1M318 145.5h1M210 318.5h1M135 155.5h1M313 146.5h1M373 305.5h1M138 328.5h1M135 334.5h1M388 296.5h1M379 306.5h1M298 137.5h1M317 331.5h1M166 146.5h1M176 155.5h1M390 303.5h1M276 146.5h1M141 336.5h1M129 339.5h1M403 285.5h1M383 96.5h1M139 332.5h1M318 151.5h1M277 140.5h1M386 304.5h1M296 151.5h1M178 147.5h1M192 327.5h1M385 89.5h1M162 309.5h1M373 301.5h1M393 265.5h1M136 151.5h1M298 144.5h1M187 108.5h1M185 126.5h1M159 331.5h1M175 309.5h1M118 147.5h1M352 311.5h1M392 326.5h1M371 80.5h1M327 99.5h1M304 143.5h1M175 125.5h1M158 335.5h1M124 160.5h1M155 324.5h1M198 324.5h1M290 341.5h1M126 150.5h1M345 108.5h1M351 327.5h1M177 126.5h1M298 151.5h1M174 116.5h1M117 148.5h1M293 149.5h1M355 312.5h1M398 92.5h1M113 150.5h1M303 138.5h1M280 120.5h1M178 144.5h1M193 131.5h1M328 331.5h1M166 312.5h1M362 94.5h1M95 152.5h1M369 101.5h1M186 152.5h1M316 326.5h1M338 341.5h1M336 328.5h1M114 331.5h1M353 281.5h1M303 335.5h1M279 317.5h1M112 131.5h1M143 121.5h1M382 98.5h1M385 285.5h1M281 111.5h1M380 88.5h1M182 139.5h1M211 307.5h1M189 322.5h1M338 308.5h1M142 148.5h1M120 133.5h1M214 98.5h1M134 148.5h1M198 94.5h1M357 148.5h1M187 123.5h1M401 292.5h1M96 135.5h1M184 329.5h1M312 152.5h1M363 314.5h1M283 135.5h1M285 105.5h1M202 328.5h1M358 307.5h1M300 314.5h1M366 296.5h1M142 142.5h1M378 315.5h1M126 331.5h1M144 151.5h1M176 334.5h1M319 332.5h1M186 322.5h1M309 152.5h1M198 117.5h1M323 123.5h1M384 297.5h1M336 340.5h1M405 88.5h1M128 148.5h1M322 152.5h1M153 146.5h1M282 343.5h1M341 154.5h1M101 163.5h1M306 144.5h1M370 327.5h1M380 287.5h1M339 145.5h1M113 330.5h1M149 330.5h1M211 303.5h1M323 333.5h1M185 148.5h1M326 150.5h1M177 333.5h1M381 83.5h1M322 328.5h1M371 107.5h1M385 77.5h1M307 149.5h1M382 324.5h1M186 306.5h1M157 126.5h1M344 309.5h1M196 116.5h1M119 153.5h1M373 105.5h1M322 125.5h1M184 307.5h1M279 106.5h1M387 331.5h1M191 123.5h1M202 308.5h1M321 336.5h1M373 330.5h1M344 328.5h1M283 302.5h1M139 158.5h1M121 154.5h1M377 287.5h1M145 325.5h1M370 101.5h1M167 335.5h1M172 139.5h1M318 132.5h1M346 335.5h1M199 137.5h1M113 135.5h1M381 271.5h1M194 316.5h1M126 337.5h1M104 337.5h1M342 322.5h1M153 131.5h1M92 155.5h1M188 324.5h1M191 304.5h1M406 83.5h1M127 154.5h1M94 334.5h1M303 328.5h1M282 334.5h1M369 77.5h1M137 156.5h1M159 317.5h1M189 155.5h1M331 340.5h1M299 131.5h1M149 333.5h1M138 334.5h1M311 149.5h1M384 300.5h1M302 142.5h1M296 328.5h1M223 143.5h1M106 153.5h1M171 133.5h1M190 135.5h1M288 138.5h1M382 298.5h1M409 80.5h1M402 87.5h1M358 90.5h1M180 316.5h1M393 301.5h1M215 106.5h1M300 151.5h1M153 150.5h1M122 315.5h1M349 325.5h1M315 334.5h1M336 333.5h1M354 308.5h1M179 122.5h1M145 337.5h1M283 152.5h1M357 336.5h1M188 111.5h1M330 342.5h1M344 318.5h1M289 126.5h1M148 303.5h1M300 332.5h1M96 150.5h1M291 149.5h1M155 155.5h1M187 316.5h1M202 138.5h1M392 91.5h1M285 125.5h1M193 116.5h1M143 153.5h1M327 333.5h1M363 328.5h1M149 132.5h1M321 101.5h1M146 119.5h1M168 132.5h1M353 103.5h1M300 331.5h1M167 144.5h1M165 317.5h1M146 314.5h1M332 325.5h1M123 147.5h1M313 333.5h1M122 330.5h1M129 142.5h1M159 133.5h1M175 302.5h1M186 110.5h1M148 125.5h1M127 145.5h1M186 129.5h1M147 335.5h1M190 114.5h1M395 279.5h1M186 326.5h1M170 328.5h1M402 93.5h1M102 136.5h1M191 125.5h1M211 297.5h1M348 87.5h1M287 131.5h1M187 321.5h1M387 327.5h1M168 330.5h1M198 119.5h1M391 296.5h1M376 92.5h1M153 154.5h1M348 303.5h1M388 92.5h1M392 300.5h1M189 319.5h1M374 307.5h1M140 318.5h1M352 299.5h1M398 82.5h1M338 333.5h1M137 153.5h1M346 313.5h1M312 148.5h1M358 74.5h1M284 332.5h1M331 148.5h1M289 334.5h1M102 341.5h1M340 313.5h1M203 116.5h1M190 105.5h1M115 158.5h1M359 295.5h1M193 123.5h1M318 343.5h1M121 330.5h1M204 337.5h1M129 146.5h1M136 145.5h1M401 350.5h1M386 68.5h1M109 328.5h1M193 117.5h1M170 322.5h1M389 78.5h1M197 320.5h1M388 294.5h1M125 324.5h1M397 78.5h1M183 108.5h1M144 147.5h1M128 331.5h1M116 128.5h1M371 95.5h1M360 312.5h1M342 143.5h1M392 279.5h1M410 281.5h1M350 125.5h1M360 339.5h1M126 146.5h1M312 336.5h1M390 298.5h1M191 310.5h1M159 319.5h1M187 337.5h1M362 78.5h1M175 325.5h1M143 333.5h1M213 337.5h1M292 151.5h1M172 333.5h1M197 141.5h1M322 159.5h1M198 318.5h1M301 150.5h1M308 100.5h1M393 308.5h1M194 308.5h1M158 330.5h1M379 304.5h1M293 333.5h1M361 102.5h1M372 282.5h1M111 331.5h1M411 331.5h1M367 283.5h1M164 122.5h1M182 135.5h1M111 159.5h1M182 333.5h1M355 150.5h1M388 293.5h1M304 144.5h1M108 145.5h1M162 329.5h1M193 130.5h1M159 140.5h1M296 332.5h1M312 341.5h1M285 328.5h1M384 307.5h1M165 151.5h1M287 149.5h1M156 333.5h1M204 311.5h1M301 317.5h1M334 311.5h1M195 153.5h1M215 108.5h1M356 328.5h1M392 96.5h1M212 134.5h1M375 306.5h1M298 334.5h1M205 295.5h1M220 148.5h1M174 325.5h1M332 148.5h1M383 313.5h1M380 303.5h1M353 82.5h1M393 74.5h1M165 131.5h1M133 148.5h1M386 305.5h1M191 325.5h1M380 301.5h1M340 300.5h1M171 309.5h1M209 109.5h1M316 342.5h1M121 158.5h1M322 109.5h1M129 313.5h1M174 126.5h1M202 333.5h1M155 141.5h1M96 335.5h1M124 159.5h1M394 289.5h1M155 336.5h1M338 345.5h1M293 346.5h1M141 328.5h1M188 120.5h1M170 316.5h1M388 99.5h1M357 121.5h1M331 338.5h1M300 154.5h1M309 155.5h1M315 336.5h1M332 339.5h1M334 95.5h1M355 319.5h1M355 98.5h1M168 154.5h1M156 149.5h1M192 332.5h1M210 146.5h1M342 312.5h1M333 300.5h1M348 148.5h1M309 336.5h1M105 156.5h1M301 330.5h1M174 138.5h1M353 330.5h1M376 278.5h1M316 145.5h1M382 89.5h1M167 131.5h1M169 324.5h1M324 343.5h1M337 344.5h1M200 115.5h1M211 327.5h1M358 106.5h1M142 328.5h1M394 280.5h1M217 120.5h1M365 319.5h1M399 300.5h1M380 98.5h1M290 330.5h1M278 116.5h1M394 316.5h1M381 304.5h1M326 117.5h1M194 337.5h1M328 159.5h1M318 146.5h1M175 139.5h1M93 341.5h1M166 144.5h1M179 306.5h1M199 298.5h1M119 155.5h1M317 301.5h1M176 314.5h1M140 155.5h1M126 333.5h1M318 327.5h1M304 142.5h1M99 321.5h1M191 118.5h1M342 156.5h1M292 137.5h1M123 341.5h1M321 338.5h1M314 336.5h1M202 110.5h1M290 143.5h1M338 330.5h1M310 141.5h1M402 72.5h1M101 331.5h1M121 331.5h1M281 114.5h1M190 123.5h1M92 159.5h1M190 145.5h1M284 135.5h1M370 99.5h1M396 71.5h1M381 321.5h1M152 162.5h1M141 160.5h1M390 70.5h1M192 325.5h1M132 144.5h1M123 128.5h1M409 284.5h1M125 127.5h1M107 335.5h1M198 129.5h1M317 144.5h1M330 148.5h1M307 328.5h1M173 335.5h1M366 330.5h1M187 320.5h1M194 304.5h1M117 141.5h1M175 322.5h1M295 142.5h1M317 300.5h1M281 137.5h1M198 304.5h1M335 113.5h1M386 88.5h1M105 340.5h1M180 138.5h1M131 149.5h1M204 315.5h1M126 151.5h1M307 331.5h1M382 94.5h1M153 148.5h1M307 151.5h1M168 317.5h1M171 298.5h1M390 280.5h1M161 140.5h1M128 329.5h1M177 119.5h1M173 115.5h1M291 140.5h1M173 113.5h1M102 321.5h1M364 293.5h1M128 158.5h1M130 149.5h1M104 160.5h1M178 137.5h1M393 80.5h1M358 328.5h1M165 152.5h1M279 115.5h1M126 338.5h1M368 95.5h1M137 330.5h1M110 338.5h1M334 335.5h1M279 127.5h1M318 311.5h1M281 291.5h1M381 280.5h1M354 95.5h1M131 328.5h1M288 127.5h1M195 114.5h1M195 116.5h1M367 107.5h1M309 323.5h1M370 108.5h1M143 310.5h1M178 112.5h1M133 328.5h1M205 113.5h1M177 322.5h1M324 307.5h1M178 331.5h1M291 131.5h1M365 329.5h1M281 125.5h1M169 329.5h1M360 74.5h1M302 141.5h1M377 337.5h1M150 329.5h1M168 337.5h1M108 152.5h1M120 152.5h1M301 152.5h1M377 308.5h1M125 340.5h1M137 148.5h1M164 324.5h1M128 159.5h1M198 135.5h1M141 149.5h1M276 301.5h1M391 311.5h1M369 109.5h1M156 156.5h1M139 146.5h1M394 81.5h1M385 308.5h1M401 285.5h1M142 330.5h1M137 131.5h1M387 92.5h1M104 156.5h1M305 310.5h1M117 157.5h1M372 274.5h1M139 155.5h1M198 106.5h1M380 89.5h1M302 316.5h1M346 108.5h1M114 154.5h1M164 341.5h1M97 153.5h1M187 317.5h1M406 306.5h1M316 148.5h1M366 307.5h1M191 311.5h1M278 102.5h1M157 320.5h1M323 155.5h1M313 141.5h1M212 118.5h1M189 150.5h1M170 319.5h1M365 281.5h1M177 118.5h1M201 305.5h1M311 326.5h1M328 148.5h1M146 335.5h1M120 336.5h1M395 276.5h1M115 319.5h1M175 112.5h1M131 310.5h1M191 313.5h1M166 336.5h1M306 342.5h1M177 324.5h1M140 152.5h1M171 301.5h1M104 141.5h1M105 331.5h1M359 315.5h1M159 321.5h1M364 310.5h1M114 140.5h1M380 288.5h1M159 318.5h1M324 332.5h1M190 121.5h1M354 328.5h1M213 318.5h1M166 335.5h1M215 321.5h1M138 335.5h1M373 296.5h1M180 334.5h1M105 140.5h1M174 123.5h1M351 328.5h1M193 115.5h1M110 334.5h1M125 329.5h1M302 144.5h1M386 295.5h1M124 341.5h1M194 117.5h1M121 335.5h1M107 140.5h1M178 114.5h1M142 155.5h1M147 327.5h1M114 339.5h1M185 137.5h1M171 123.5h1M348 335.5h1M137 152.5h1M389 81.5h1M384 91.5h1M177 151.5h1M122 338.5h1M181 109.5h1M375 100.5h1M367 63.5h1M179 116.5h1M139 318.5h1M327 122.5h1M187 303.5h1M357 88.5h1M277 133.5h1M355 324.5h1M316 329.5h1M300 336.5h1M172 122.5h1M144 155.5h1M291 328.5h1M168 123.5h1M188 308.5h1M176 123.5h1M158 148.5h1M187 124.5h1M186 328.5h1M364 326.5h1M325 338.5h1M313 320.5h1M375 312.5h1M113 336.5h1M304 327.5h1M389 285.5h1M370 89.5h1M183 141.5h1M326 344.5h1M184 310.5h1M375 296.5h1M106 135.5h1M106 161.5h1M121 339.5h1M201 127.5h1M317 140.5h1M118 329.5h1M329 310.5h1M383 322.5h1M371 308.5h1M104 348.5h1M309 128.5h1M344 330.5h1M194 126.5h1M387 90.5h1M120 158.5h1M357 147.5h1M371 87.5h1M156 335.5h1M133 150.5h1M380 95.5h1M171 329.5h1M332 305.5h1M160 117.5h1M179 331.5h1M120 138.5h1M324 304.5h1M152 326.5h1M287 122.5h1M131 143.5h1M147 336.5h1M347 320.5h1M208 314.5h1M188 315.5h1M162 320.5h1M100 145.5h1M299 331.5h1M387 311.5h1M174 337.5h1M134 150.5h1M329 327.5h1M326 328.5h1M343 335.5h1M393 92.5h1M126 330.5h1M131 152.5h1M404 333.5h1M289 139.5h1M333 329.5h1M387 289.5h1M383 280.5h1M194 310.5h1M211 127.5h1M324 150.5h1M163 162.5h1M106 148.5h1M281 148.5h1M121 336.5h1M369 330.5h1M298 140.5h1M183 139.5h1M359 105.5h1M286 119.5h1M329 334.5h1M92 151.5h1M144 152.5h1M281 338.5h1M198 297.5h1M209 114.5h1M105 344.5h1M326 326.5h1M126 340.5h1M382 297.5h1M390 87.5h1M299 339.5h1M396 288.5h1M307 147.5h1M401 82.5h1M200 119.5h1M185 309.5h1M148 150.5h1M185 154.5h1M164 332.5h1M180 314.5h1M183 334.5h1M168 146.5h1M183 306.5h1M169 297.5h1M301 311.5h1M137 143.5h1M108 155.5h1M299 150.5h1M278 142.5h1M129 329.5h1M333 99.5h1M281 152.5h1M228 291.5h1M293 337.5h1M385 296.5h1M289 134.5h1M297 338.5h1M138 311.5h1M98 329.5h1M178 309.5h1M329 338.5h1M150 145.5h1M157 328.5h1M323 338.5h1M138 341.5h1M382 80.5h1M145 341.5h1M186 153.5h1M187 307.5h1M353 96.5h1M211 121.5h1M142 337.5h1M378 302.5h1M165 145.5h1M126 341.5h1M277 330.5h1M98 335.5h1M105 155.5h1M111 332.5h1M194 141.5h1M105 137.5h1M367 135.5h1M366 77.5h1M282 132.5h1M397 81.5h1M199 127.5h1M181 123.5h1M96 326.5h1M110 344.5h1M123 333.5h1M126 327.5h1M181 122.5h1M124 149.5h1M151 333.5h1M123 155.5h1M391 290.5h1M169 113.5h1M179 149.5h1M138 326.5h1M127 157.5h1M345 150.5h1M300 328.5h1M181 115.5h1M153 307.5h1M144 127.5h1M383 152.5h1M137 144.5h1M300 144.5h1M281 126.5h1M376 312.5h1M192 151.5h1M149 320.5h1M159 120.5h1M112 335.5h1M172 301.5h1M218 316.5h1M143 154.5h1M381 298.5h1M377 312.5h1M123 149.5h1M130 330.5h1M375 295.5h1M202 116.5h1M376 94.5h1M135 147.5h1M160 142.5h1M147 148.5h1M166 330.5h1M145 141.5h1M402 79.5h1M173 304.5h1M198 125.5h1M293 125.5h1M312 306.5h1M160 316.5h1M370 337.5h1M359 302.5h1M169 149.5h1M128 332.5h1M342 151.5h1M180 142.5h1M190 134.5h1M148 312.5h1M394 84.5h1M145 122.5h1M122 342.5h1M140 330.5h1M126 155.5h1M122 157.5h1M313 315.5h1M202 317.5h1M110 335.5h1M334 297.5h1M206 318.5h1M208 334.5h1M376 289.5h1M384 77.5h1M107 323.5h1M342 148.5h1M195 120.5h1M219 156.5h1M157 150.5h1M188 309.5h1M136 333.5h1M399 78.5h1M323 117.5h1M193 317.5h1M283 317.5h1M176 333.5h1M353 120.5h1M173 307.5h1M301 151.5h1M182 327.5h1M127 342.5h1M173 144.5h1M292 319.5h1M162 141.5h1M343 329.5h1M326 123.5h1M338 147.5h1M349 296.5h1M172 147.5h1M338 332.5h1M335 150.5h1M332 146.5h1M196 321.5h1M279 110.5h1M169 336.5h1M377 290.5h1M189 131.5h1M364 100.5h1M132 146.5h1M321 112.5h1M321 119.5h1M181 139.5h1M185 141.5h1M321 141.5h1M306 314.5h1M106 158.5h1M368 340.5h1M190 153.5h1M136 153.5h1M313 151.5h1M125 151.5h1M299 307.5h1M329 140.5h1M304 120.5h1M375 307.5h1M168 314.5h1M337 153.5h1M341 110.5h1M133 144.5h1M179 322.5h1M182 325.5h1M305 146.5h1M129 330.5h1M161 151.5h1M351 329.5h1M139 310.5h1M201 328.5h1M391 80.5h1M204 113.5h1M375 300.5h1M191 150.5h1M303 130.5h1M182 328.5h1M187 132.5h1M388 143.5h1M156 144.5h1M353 334.5h1M199 331.5h1M94 345.5h1M121 325.5h1M179 150.5h1M407 94.5h1M293 140.5h1M352 333.5h1M121 340.5h1M318 147.5h1M166 323.5h1M319 160.5h1M179 137.5h1M103 332.5h1M165 140.5h1M287 104.5h1M333 336.5h1M297 328.5h1M196 330.5h1M189 313.5h1M383 100.5h1M153 133.5h1M392 93.5h1M176 337.5h1M148 320.5h1M186 118.5h1M319 127.5h1M333 341.5h1M312 146.5h1M308 148.5h1M349 333.5h1M160 139.5h1M277 294.5h1M159 329.5h1M324 334.5h1M171 320.5h1M128 340.5h1M169 150.5h1M325 335.5h1M357 302.5h1M376 330.5h1M188 322.5h1M213 311.5h1M150 150.5h1M376 334.5h1M200 309.5h1M175 116.5h1M356 97.5h1M280 109.5h1M316 334.5h1M377 322.5h1M395 296.5h1M362 303.5h1M290 327.5h1M381 73.5h1M286 135.5h1M392 282.5h1M374 298.5h1M111 152.5h1M171 339.5h1M380 300.5h1M186 308.5h1M286 132.5h1M308 142.5h1M211 114.5h1M397 291.5h1M178 128.5h1M398 329.5h1M99 139.5h1M133 336.5h1M325 326.5h1M185 341.5h1M304 333.5h1M360 84.5h1M179 125.5h1M168 157.5h1M327 133.5h1M370 324.5h1M326 334.5h1M389 84.5h1M124 308.5h1M308 338.5h1M316 107.5h1M357 311.5h1M106 155.5h1M387 292.5h1M333 332.5h1M159 126.5h1M128 333.5h1M379 321.5h1M286 113.5h1M334 338.5h1M352 92.5h1M150 155.5h1M216 303.5h1M186 318.5h1M409 332.5h1M151 332.5h1M352 146.5h1M181 118.5h1M134 330.5h1M159 152.5h1M358 97.5h1M322 115.5h1M181 132.5h1M286 130.5h1M210 120.5h1M124 338.5h1M171 140.5h1M392 88.5h1M105 133.5h1M349 293.5h1M381 294.5h1M190 316.5h1M387 280.5h1M365 299.5h1M337 150.5h1M171 136.5h1M394 331.5h1M150 336.5h1M317 337.5h1M326 125.5h1M330 328.5h1M313 337.5h1M173 309.5h1M178 152.5h1M369 98.5h1M318 142.5h1M172 120.5h1M95 156.5h1M208 321.5h1M153 335.5h1M378 309.5h1M286 328.5h1M117 331.5h1M282 134.5h1M293 329.5h1M132 311.5h1M174 149.5h1M195 316.5h1M125 315.5h1M353 329.5h1M155 340.5h1M123 338.5h1M281 315.5h1M397 292.5h1M161 325.5h1M340 304.5h1M367 102.5h1M140 148.5h1M194 148.5h1M325 331.5h1M327 319.5h1M144 148.5h1M402 294.5h1M306 142.5h1M309 334.5h1M208 113.5h1M144 131.5h1M183 113.5h1M164 152.5h1M333 106.5h1M193 141.5h1M374 82.5h1M363 102.5h1M367 287.5h1M309 116.5h1M187 144.5h1M296 127.5h1M218 310.5h1M124 336.5h1M279 140.5h1M139 153.5h1M371 85.5h1M302 332.5h1M349 95.5h1M332 139.5h1M158 318.5h1M319 145.5h1M308 106.5h1M348 97.5h1M111 155.5h1M136 147.5h1M325 342.5h1M155 152.5h1M395 301.5h1M184 136.5h1M310 151.5h1M309 138.5h1M376 319.5h1M186 144.5h1M216 126.5h1M125 152.5h1M373 87.5h1M180 324.5h1M116 151.5h1M294 124.5h1M186 123.5h1M322 142.5h1M188 327.5h1M379 153.5h1M356 68.5h1M174 316.5h1M203 128.5h1M171 144.5h1M365 106.5h1M354 319.5h1M146 152.5h1M114 334.5h1M202 302.5h1M311 135.5h1M185 306.5h1M148 152.5h1M363 300.5h1M345 90.5h1M128 157.5h1M386 307.5h1M357 118.5h1M146 153.5h1M176 323.5h1M291 334.5h1M366 98.5h1M378 80.5h1M377 285.5h1M186 332.5h1M172 150.5h1M145 334.5h1M367 328.5h1M369 86.5h1M193 330.5h1M345 91.5h1M201 148.5h1M138 149.5h1M391 299.5h1M347 331.5h1M324 325.5h1M183 130.5h1M357 141.5h1M143 340.5h1M169 126.5h1M307 337.5h1M302 150.5h1M162 144.5h1M142 160.5h1M111 338.5h1M155 150.5h1M379 78.5h1M208 326.5h1M312 142.5h1M119 159.5h1M200 125.5h1M394 309.5h1M174 318.5h1M313 154.5h1M275 139.5h1M95 331.5h1M395 93.5h1M172 156.5h1M139 154.5h1M136 160.5h1M199 152.5h1M301 342.5h1M310 300.5h1M355 333.5h1M188 145.5h1M298 139.5h1M369 149.5h1M168 148.5h1M404 298.5h1M388 280.5h1M401 85.5h1M348 95.5h1M354 322.5h1M114 348.5h1M334 342.5h1M341 320.5h1M167 148.5h1M147 153.5h1M399 288.5h1M163 309.5h1M165 123.5h1M368 101.5h1M351 310.5h1M329 340.5h1M170 133.5h1M180 136.5h1M144 333.5h1M344 331.5h1M323 328.5h1M170 128.5h1M158 135.5h1M161 333.5h1M202 120.5h1M184 308.5h1M325 327.5h1M368 298.5h1M214 126.5h1M199 312.5h1M318 320.5h1M149 339.5h1M113 152.5h1M130 341.5h1M312 125.5h1M280 123.5h1M131 158.5h1M118 149.5h1M120 332.5h1M120 147.5h1M363 302.5h1M120 132.5h1M312 328.5h1M153 156.5h1M216 156.5h1M184 151.5h1M379 312.5h1M151 152.5h1M121 150.5h1M221 151.5h1M372 94.5h1M370 77.5h1M166 344.5h1M319 334.5h1M313 108.5h1M311 320.5h1M310 333.5h1M159 148.5h1M280 302.5h1M192 301.5h1M291 308.5h1M129 155.5h1M353 301.5h1M303 111.5h1M113 333.5h1M198 151.5h1M187 304.5h1M339 343.5h1M337 309.5h1M321 92.5h1M144 149.5h1M189 129.5h1M323 298.5h1M360 345.5h1M123 160.5h1M366 290.5h1M275 333.5h1M368 120.5h1M393 325.5h1M282 109.5h1M277 122.5h1M165 330.5h1M200 295.5h1M192 125.5h1M192 152.5h1M367 105.5h1M197 298.5h1M102 149.5h1M119 156.5h1M356 306.5h1M131 334.5h1M371 303.5h1M372 87.5h1M122 339.5h1M339 86.5h1M392 73.5h1M128 328.5h1M337 341.5h1M379 331.5h1M203 316.5h1M392 281.5h1M181 149.5h1M179 336.5h1M398 293.5h1M163 328.5h1M174 322.5h1M291 144.5h1M373 335.5h1M307 154.5h1M186 327.5h1M199 337.5h1M356 114.5h1M147 122.5h1M110 153.5h1M198 123.5h1M187 341.5h1M374 91.5h1M313 330.5h1M109 147.5h1M204 290.5h1M302 143.5h1M181 128.5h1M368 308.5h1M126 124.5h1M100 161.5h1M303 142.5h1M191 137.5h1M354 107.5h1M136 309.5h1M301 343.5h1M164 322.5h1M190 118.5h1M186 334.5h1M328 144.5h1M382 107.5h1M148 304.5h1M101 338.5h1M121 155.5h1M289 335.5h1M372 305.5h1M375 95.5h1M404 301.5h1M339 328.5h1M97 322.5h1M276 332.5h1" stroke="#9898fa" stroke-width="1" fill="none"/>
<path d="M282 110.5h1M397 147.5h1M350 99.5h1M190 147.5h1M358 115.5h1M125 335.5h1M102 162.5h1M125 153.5h1M123 332.5h1M136 336.5h1M312 141.5h1M356 92.5h1M149 311.5h1M223 147.5h1M117 146.5h1M193 335.5h1M177 144.5h1M138 329.5h1M163 335.5h1M385 305.5h1M181 311.5h1M101 338.5h1M121 336.5h1M191 134.5h1M170 126.5h1M189 151.5h1M381 92.5h1M134 329.5h1M105 158.5h1M185 123.5h1M322 329.5h1M403 71.5h1M367 97.5h1M300 152.5h1M380 329.5h1M327 342.5h1M302 148.5h1M400 288.5h1M353 309.5h1M178 120.5h1M315 109.5h1M370 332.5h1M170 307.5h1M172 144.5h1M389 92.5h1M154 136.5h1M140 333.5h1M302 146.5h1M390 300.5h1M294 141.5h1M365 86.5h1M297 341.5h1M164 301.5h1M305 334.5h1M128 157.5h1M134 332.5h1M328 338.5h1M375 114.5h1M336 147.5h1M303 330.5h1M346 110.5h1M406 284.5h1M163 130.5h1M326 148.5h1M177 136.5h1M151 337.5h1M187 326.5h1M275 339.5h1M179 134.5h1M338 296.5h1M112 316.5h1M400 83.5h1M102 320.5h1M318 105.5h1M130 152.5h1M279 148.5h1M146 128.5h1M131 327.5h1M341 336.5h1M197 304.5h1M358 302.5h1M206 121.5h1M180 333.5h1M125 158.5h1M339 317.5h1M314 152.5h1M196 297.5h1M176 325.5h1M124 336.5h1M128 329.5h1M281 333.5h1M153 148.5h1M370 288.5h1M385 76.5h1M141 330.5h1M391 292.5h1M123 336.5h1M363 107.5h1M152 304.5h1M196 133.5h1M353 325.5h1M124 339.5h1M360 324.5h1M371 297.5h1M285 336.5h1M151 148.5h1M147 148.5h1M144 335.5h1M388 310.5h1M341 337.5h1M118 141.5h1M374 339.5h1M147 141.5h1M209 146.5h1M127 159.5h1M150 334.5h1M163 147.5h1M320 149.5h1M384 296.5h1M137 149.5h1M283 110.5h1M319 150.5h1M334 152.5h1M371 68.5h1M197 317.5h1M164 344.5h1M140 332.5h1M182 329.5h1M203 303.5h1M367 106.5h1M113 332.5h1M282 142.5h1M199 118.5h1M332 327.5h1M122 333.5h1M357 342.5h1M386 290.5h1M124 156.5h1M163 330.5h1M145 317.5h1M284 117.5h1M168 143.5h1M104 328.5h1M193 320.5h1M305 330.5h1M195 291.5h1M147 343.5h1M308 316.5h1M186 132.5h1M384 305.5h1M164 328.5h1M163 150.5h1M143 155.5h1M380 305.5h1M318 337.5h1M151 335.5h1M196 329.5h1M384 279.5h1M147 310.5h1M394 93.5h1M326 330.5h1M188 122.5h1M301 332.5h1M305 141.5h1M355 311.5h1M145 150.5h1M308 146.5h1M118 332.5h1M144 149.5h1M182 144.5h1M376 321.5h1M338 332.5h1M376 81.5h1M131 335.5h1M117 150.5h1M392 140.5h1M368 94.5h1M197 136.5h1M334 90.5h1M300 146.5h1M367 319.5h1M106 336.5h1M366 344.5h1M325 94.5h1M346 109.5h1M306 145.5h1M134 336.5h1M103 131.5h1M138 147.5h1M206 110.5h1M326 333.5h1M366 138.5h1M331 155.5h1M152 153.5h1M313 149.5h1M361 296.5h1M195 118.5h1M121 334.5h1M163 300.5h1M104 150.5h1M358 290.5h1M178 317.5h1M160 114.5h1M212 308.5h1M120 333.5h1M315 331.5h1M286 147.5h1M283 116.5h1M386 309.5h1M291 329.5h1M148 332.5h1M362 103.5h1M357 321.5h1M136 156.5h1M296 330.5h1M115 151.5h1M143 140.5h1M372 111.5h1M103 336.5h1M143 334.5h1M330 329.5h1M198 323.5h1M384 83.5h1M283 140.5h1M284 112.5h1M330 120.5h1M121 335.5h1M98 160.5h1M350 93.5h1M172 324.5h1M138 340.5h1M294 146.5h1M360 108.5h1M156 150.5h1M377 93.5h1M149 332.5h1M306 330.5h1M280 115.5h1M197 295.5h1M192 316.5h1M336 328.5h1M128 334.5h1M301 143.5h1M312 146.5h1M314 145.5h1M381 321.5h1M204 138.5h1M114 149.5h1M186 137.5h1M162 145.5h1M181 117.5h1M129 156.5h1M150 313.5h1M148 127.5h1M189 132.5h1M356 107.5h1M192 124.5h1M321 330.5h1M383 303.5h1M154 130.5h1M188 117.5h1M174 322.5h1M321 341.5h1M361 300.5h1M325 326.5h1M371 338.5h1M159 147.5h1M313 326.5h1M333 295.5h1M302 326.5h1M342 145.5h1M123 337.5h1M361 113.5h1M139 152.5h1M189 324.5h1M134 131.5h1M365 286.5h1M151 126.5h1M208 124.5h1M380 112.5h1M132 311.5h1M139 338.5h1M177 309.5h1M375 282.5h1M185 130.5h1M304 148.5h1M382 331.5h1M145 128.5h1M194 331.5h1M376 296.5h1M339 305.5h1M175 309.5h1M373 310.5h1M301 146.5h1M147 142.5h1M332 316.5h1M292 148.5h1M212 126.5h1M304 153.5h1M284 140.5h1M114 334.5h1M126 335.5h1M174 132.5h1M340 100.5h1M327 331.5h1M384 318.5h1M113 152.5h1M381 296.5h1M142 330.5h1M116 153.5h1M193 115.5h1M123 316.5h1M380 111.5h1M318 122.5h1M148 330.5h1M193 125.5h1M360 327.5h1M147 151.5h1M161 114.5h1M162 336.5h1M119 155.5h1M218 122.5h1M328 319.5h1M285 141.5h1M132 328.5h1M389 94.5h1M150 133.5h1M127 332.5h1M373 288.5h1M399 284.5h1M391 284.5h1M141 154.5h1M284 137.5h1M148 150.5h1M327 301.5h1M196 313.5h1M221 150.5h1M401 340.5h1M310 300.5h1M361 91.5h1M335 325.5h1M344 71.5h1M312 328.5h1M190 319.5h1M154 328.5h1M210 330.5h1M182 135.5h1M365 98.5h1M327 92.5h1M356 99.5h1M128 149.5h1M202 121.5h1M365 112.5h1M123 159.5h1M357 87.5h1M377 95.5h1M318 149.5h1M339 328.5h1M313 332.5h1M141 333.5h1M139 334.5h1M101 333.5h1M120 142.5h1M142 332.5h1M377 297.5h1M179 109.5h1M120 343.5h1M294 138.5h1M167 341.5h1M332 329.5h1M394 297.5h1M309 317.5h1M164 315.5h1M324 347.5h1M180 321.5h1M109 322.5h1M145 332.5h1M191 323.5h1M152 327.5h1M167 318.5h1M203 118.5h1M120 337.5h1M155 158.5h1M176 131.5h1M182 105.5h1M177 141.5h1M324 304.5h1M165 147.5h1M185 325.5h1M396 86.5h1M203 310.5h1M191 133.5h1M156 156.5h1M372 68.5h1M294 326.5h1M321 150.5h1M359 304.5h1M149 154.5h1M282 323.5h1M117 149.5h1M198 320.5h1M370 91.5h1M107 333.5h1M135 337.5h1M190 129.5h1M104 330.5h1M323 330.5h1M371 101.5h1M101 151.5h1M289 153.5h1M188 149.5h1M177 110.5h1M287 331.5h1M280 133.5h1M127 333.5h1M133 333.5h1M167 126.5h1M176 155.5h1M110 148.5h1M326 146.5h1M405 98.5h1M173 298.5h1M281 337.5h1M403 95.5h1M333 330.5h1M127 335.5h1M169 314.5h1M94 155.5h1M124 334.5h1M325 319.5h1M208 122.5h1M119 156.5h1M357 95.5h1M164 143.5h1M194 308.5h1M182 133.5h1M120 158.5h1M369 282.5h1M372 322.5h1M142 122.5h1M188 337.5h1M353 294.5h1M191 120.5h1M137 155.5h1M351 332.5h1M386 90.5h1M354 104.5h1M169 125.5h1M405 333.5h1M373 290.5h1M360 315.5h1M294 313.5h1M96 152.5h1M164 144.5h1M334 146.5h1M192 136.5h1M159 346.5h1M186 312.5h1M403 338.5h1M162 325.5h1M204 150.5h1M124 337.5h1M376 302.5h1M200 145.5h1M285 318.5h1M191 128.5h1M189 131.5h1M134 153.5h1M103 155.5h1M134 335.5h1M166 334.5h1M382 149.5h1M389 75.5h1M184 330.5h1M183 126.5h1M151 133.5h1M140 148.5h1M196 326.5h1M193 149.5h1M211 335.5h1M326 114.5h1M316 139.5h1M378 277.5h1M360 309.5h1M326 331.5h1M368 288.5h1M173 312.5h1M356 292.5h1M278 139.5h1M211 317.5h1M391 92.5h1M380 89.5h1M191 131.5h1M282 325.5h1M374 84.5h1M348 142.5h1M193 336.5h1M308 131.5h1M104 131.5h1M177 149.5h1M219 155.5h1M406 294.5h1M123 338.5h1M157 152.5h1M352 83.5h1M377 92.5h1M281 110.5h1M203 113.5h1M291 152.5h1M100 322.5h1M282 112.5h1M104 157.5h1M138 145.5h1M366 307.5h1M140 331.5h1M328 337.5h1M181 335.5h1M192 312.5h1M168 330.5h1M381 310.5h1M366 340.5h1M350 295.5h1M197 326.5h1M379 98.5h1M120 341.5h1M303 141.5h1M404 75.5h1M358 317.5h1M152 144.5h1M155 138.5h1M138 336.5h1M381 327.5h1M319 328.5h1M321 299.5h1M173 132.5h1M333 141.5h1M220 109.5h1M104 143.5h1M205 122.5h1M386 301.5h1M389 304.5h1M175 308.5h1M194 114.5h1M391 95.5h1M198 121.5h1M321 337.5h1M132 151.5h1M370 148.5h1M292 331.5h1M167 129.5h1M378 304.5h1M398 298.5h1M110 331.5h1M132 322.5h1M198 293.5h1M387 297.5h1M197 123.5h1M364 85.5h1M388 288.5h1M341 108.5h1M97 313.5h1M385 156.5h1M159 326.5h1M276 133.5h1M384 299.5h1M379 297.5h1M146 142.5h1M145 336.5h1M352 101.5h1M215 120.5h1M281 121.5h1M219 124.5h1M116 332.5h1M109 151.5h1M335 326.5h1M182 313.5h1M370 327.5h1M384 300.5h1M286 148.5h1M369 314.5h1M359 316.5h1M304 143.5h1M205 125.5h1M367 84.5h1M307 142.5h1M347 99.5h1M177 137.5h1M323 140.5h1M405 74.5h1M373 293.5h1M190 323.5h1M184 120.5h1M398 285.5h1M122 313.5h1M404 298.5h1M122 152.5h1M133 156.5h1M314 121.5h1M154 117.5h1M159 335.5h1M107 154.5h1M285 303.5h1M366 306.5h1M359 93.5h1M157 136.5h1M303 158.5h1M141 157.5h1M130 337.5h1M200 142.5h1M111 320.5h1M158 339.5h1M366 83.5h1M133 340.5h1M403 143.5h1M113 330.5h1M390 85.5h1M278 141.5h1M196 139.5h1M386 100.5h1M281 324.5h1M119 153.5h1M156 153.5h1M167 300.5h1M289 138.5h1M391 310.5h1M371 108.5h1M98 146.5h1M205 141.5h1M274 122.5h1M287 333.5h1M377 89.5h1M156 335.5h1M342 101.5h1M323 328.5h1M389 296.5h1M363 89.5h1M195 303.5h1M118 142.5h1M104 148.5h1M185 132.5h1M386 295.5h1M196 305.5h1M180 313.5h1M386 300.5h1M292 318.5h1M281 330.5h1M158 321.5h1M157 131.5h1M398 291.5h1M179 333.5h1M120 148.5h1M383 293.5h1M147 150.5h1M123 151.5h1M154 148.5h1M145 147.5h1M333 331.5h1M109 149.5h1M118 317.5h1M100 331.5h1M111 150.5h1M137 154.5h1M323 333.5h1M301 330.5h1M399 87.5h1M163 152.5h1M150 152.5h1M304 152.5h1M158 302.5h1M312 143.5h1M358 106.5h1M145 340.5h1M139 153.5h1M276 135.5h1M380 311.5h1M137 332.5h1M164 309.5h1M191 121.5h1M280 316.5h1M166 147.5h1M291 307.5h1M212 154.5h1M199 322.5h1M282 139.5h1M127 154.5h1M330 330.5h1M143 150.5h1M193 323.5h1M175 126.5h1M142 152.5h1M172 137.5h1M368 153.5h1M392 81.5h1M382 85.5h1M345 324.5h1M149 152.5h1M372 328.5h1M398 332.5h1M103 156.5h1M147 341.5h1M162 310.5h1M297 138.5h1M116 151.5h1M140 145.5h1M121 160.5h1M204 330.5h1M158 332.5h1M190 325.5h1M384 96.5h1M365 93.5h1M142 135.5h1M388 313.5h1M121 147.5h1M126 152.5h1M131 338.5h1M197 120.5h1M189 315.5h1M202 126.5h1M348 147.5h1M315 147.5h1M179 330.5h1M188 114.5h1M127 343.5h1M319 329.5h1M139 341.5h1M215 132.5h1M167 113.5h1M211 153.5h1M369 342.5h1M319 336.5h1M194 118.5h1M125 129.5h1M188 318.5h1M305 148.5h1M282 308.5h1M174 139.5h1M273 141.5h1M304 141.5h1M339 321.5h1M309 143.5h1M134 338.5h1M159 155.5h1M362 100.5h1M281 117.5h1M300 323.5h1M113 144.5h1M174 312.5h1M314 319.5h1M187 140.5h1M151 338.5h1M145 342.5h1M156 339.5h1M407 288.5h1M201 104.5h1M325 306.5h1M169 333.5h1M334 149.5h1M131 152.5h1M169 330.5h1M182 134.5h1M140 341.5h1M365 71.5h1M388 79.5h1M374 120.5h1M279 142.5h1M411 284.5h1M305 336.5h1M390 333.5h1M148 146.5h1M371 96.5h1M368 296.5h1M377 152.5h1M283 133.5h1M360 90.5h1M309 136.5h1M160 328.5h1M285 142.5h1M127 339.5h1M123 335.5h1M202 305.5h1M308 114.5h1M387 296.5h1M101 319.5h1M183 306.5h1M327 341.5h1M145 154.5h1M341 101.5h1M386 299.5h1M381 302.5h1M379 91.5h1M343 135.5h1M144 304.5h1M120 131.5h1M164 149.5h1M176 154.5h1M386 293.5h1M322 328.5h1M130 343.5h1M378 302.5h1M166 150.5h1M188 324.5h1M120 151.5h1M375 92.5h1M124 153.5h1M183 334.5h1M157 147.5h1M142 153.5h1M341 142.5h1M364 324.5h1M107 331.5h1M391 99.5h1M136 154.5h1M112 336.5h1M372 89.5h1M193 147.5h1M381 303.5h1M312 333.5h1M371 95.5h1M178 138.5h1M321 310.5h1M366 94.5h1M301 141.5h1M184 130.5h1M381 80.5h1M334 339.5h1M129 337.5h1M114 145.5h1M321 335.5h1M390 82.5h1M377 293.5h1M340 116.5h1M161 329.5h1M361 156.5h1M155 142.5h1M193 329.5h1M188 128.5h1M106 158.5h1M385 312.5h1M192 125.5h1M169 337.5h1M291 144.5h1M186 326.5h1M177 306.5h1M370 309.5h1M181 133.5h1M194 307.5h1M386 82.5h1M381 84.5h1M350 338.5h1M161 316.5h1M306 325.5h1M327 330.5h1M328 120.5h1M376 154.5h1M142 150.5h1M375 332.5h1M173 131.5h1M198 302.5h1M188 130.5h1M343 101.5h1M172 336.5h1M348 308.5h1M130 333.5h1M134 314.5h1M180 137.5h1M338 308.5h1M126 145.5h1M168 310.5h1M162 134.5h1M193 123.5h1M181 315.5h1M285 135.5h1M166 333.5h1M141 159.5h1M335 148.5h1M280 325.5h1M171 298.5h1M283 294.5h1M177 133.5h1M310 142.5h1M140 336.5h1M152 128.5h1M121 332.5h1M311 141.5h1M310 145.5h1M120 150.5h1M376 311.5h1M277 118.5h1M352 289.5h1M393 339.5h1M142 339.5h1M383 74.5h1M386 84.5h1M173 313.5h1M119 159.5h1M185 121.5h1M306 137.5h1M370 94.5h1M381 317.5h1M324 339.5h1M114 315.5h1M372 85.5h1M156 155.5h1M206 113.5h1M338 311.5h1M404 323.5h1M340 330.5h1M117 337.5h1M307 329.5h1M160 145.5h1M147 331.5h1M125 149.5h1M393 302.5h1M144 155.5h1M199 157.5h1M186 110.5h1M197 117.5h1M205 150.5h1M178 127.5h1M130 150.5h1M363 90.5h1M175 322.5h1M138 333.5h1M383 97.5h1M184 128.5h1M280 138.5h1M324 331.5h1M149 153.5h1M124 157.5h1M97 163.5h1M343 329.5h1M352 343.5h1M174 148.5h1M375 89.5h1M394 320.5h1M363 309.5h1M378 294.5h1M328 157.5h1M342 88.5h1M204 112.5h1M307 333.5h1M295 136.5h1M108 332.5h1M124 146.5h1M365 317.5h1M164 145.5h1M152 124.5h1M122 149.5h1M185 313.5h1M292 147.5h1M402 326.5h1M104 139.5h1M141 329.5h1M366 286.5h1M195 311.5h1M390 96.5h1M344 328.5h1M356 87.5h1M363 85.5h1M339 109.5h1M130 149.5h1M303 325.5h1M115 338.5h1M324 327.5h1M310 121.5h1M341 301.5h1M102 150.5h1M193 120.5h1M315 146.5h1M351 149.5h1M151 145.5h1M318 333.5h1M207 106.5h1M129 344.5h1M129 330.5h1M187 132.5h1M95 332.5h1M321 331.5h1M139 333.5h1M385 99.5h1M366 300.5h1M337 327.5h1M331 329.5h1M341 107.5h1M150 139.5h1M384 82.5h1M380 306.5h1M184 300.5h1M201 119.5h1M306 143.5h1M279 136.5h1M396 81.5h1M108 151.5h1M136 150.5h1M324 333.5h1M349 327.5h1M176 148.5h1M172 134.5h1M136 151.5h1M114 142.5h1M210 152.5h1M174 332.5h1M190 316.5h1M195 341.5h1M298 140.5h1M386 94.5h1M381 309.5h1M285 130.5h1M182 117.5h1M168 135.5h1M109 132.5h1M126 339.5h1M127 151.5h1M404 77.5h1M329 143.5h1M354 93.5h1M322 308.5h1M178 335.5h1M280 314.5h1M316 142.5h1M169 335.5h1M396 297.5h1M393 84.5h1M157 144.5h1M365 92.5h1M279 315.5h1M152 338.5h1M337 324.5h1M310 146.5h1M148 145.5h1M392 103.5h1M145 156.5h1M169 304.5h1M189 152.5h1M188 138.5h1M366 290.5h1M195 328.5h1M354 92.5h1M375 82.5h1M377 94.5h1M183 308.5h1M109 152.5h1M136 339.5h1M308 150.5h1M396 88.5h1M205 314.5h1M281 332.5h1M296 327.5h1M352 102.5h1M371 298.5h1M365 333.5h1M188 308.5h1M302 141.5h1M318 312.5h1M373 322.5h1M185 328.5h1M180 324.5h1M319 124.5h1M313 147.5h1M126 149.5h1M313 142.5h1M153 335.5h1M128 339.5h1M314 335.5h1M152 335.5h1M120 327.5h1M111 132.5h1M364 307.5h1M137 334.5h1M404 98.5h1M330 297.5h1M131 151.5h1M372 94.5h1M400 298.5h1M365 154.5h1M182 321.5h1M378 105.5h1M188 104.5h1M353 94.5h1M359 109.5h1M183 154.5h1M148 337.5h1M281 136.5h1M358 104.5h1M297 137.5h1M175 312.5h1M313 340.5h1M126 313.5h1M123 156.5h1M157 137.5h1M205 118.5h1M330 328.5h1M293 131.5h1M337 150.5h1M119 151.5h1M196 122.5h1M140 149.5h1M140 151.5h1M179 328.5h1M182 146.5h1M300 144.5h1M180 132.5h1M133 339.5h1M379 293.5h1M377 88.5h1M204 144.5h1M380 303.5h1M128 330.5h1M125 152.5h1M342 304.5h1M387 89.5h1M338 158.5h1M370 88.5h1M210 327.5h1M172 149.5h1M286 142.5h1M363 303.5h1M134 151.5h1M306 313.5h1M383 75.5h1M144 156.5h1M392 287.5h1M103 339.5h1M354 294.5h1M172 331.5h1M146 349.5h1M194 320.5h1M121 154.5h1M321 329.5h1M377 303.5h1M138 337.5h1M390 332.5h1M158 158.5h1M181 155.5h1M321 343.5h1M303 140.5h1M382 109.5h1M362 309.5h1M372 293.5h1M181 122.5h1M92 321.5h1M293 333.5h1M301 148.5h1M279 111.5h1M336 103.5h1M184 144.5h1M190 112.5h1M118 326.5h1M131 334.5h1M380 103.5h1M290 146.5h1M172 330.5h1M188 323.5h1M123 149.5h1M393 318.5h1M319 120.5h1M109 148.5h1M135 145.5h1M200 325.5h1M273 120.5h1M205 114.5h1M374 323.5h1M384 98.5h1M204 110.5h1M326 144.5h1M136 306.5h1M164 318.5h1M125 331.5h1M299 310.5h1M123 340.5h1M150 336.5h1M355 304.5h1M111 336.5h1M123 339.5h1M379 316.5h1M155 312.5h1M199 129.5h1M379 291.5h1M333 147.5h1M186 333.5h1M381 314.5h1M134 148.5h1M405 288.5h1M380 94.5h1M141 334.5h1M144 148.5h1M175 132.5h1M316 338.5h1M169 317.5h1M292 142.5h1M142 317.5h1M116 140.5h1M383 299.5h1M341 145.5h1M190 334.5h1M154 152.5h1M199 323.5h1M103 332.5h1M330 333.5h1M190 310.5h1M168 151.5h1M343 306.5h1M152 152.5h1M376 93.5h1M377 105.5h1M379 295.5h1M392 316.5h1M97 332.5h1M279 331.5h1M385 342.5h1M127 334.5h1M344 146.5h1M304 331.5h1M333 128.5h1M387 96.5h1M200 140.5h1M300 158.5h1M363 323.5h1M343 335.5h1M352 112.5h1M361 330.5h1M154 334.5h1M129 161.5h1M196 135.5h1M336 337.5h1M96 139.5h1M181 328.5h1M352 314.5h1M277 140.5h1M191 126.5h1M347 336.5h1M183 307.5h1M215 123.5h1M375 96.5h1M135 340.5h1M129 339.5h1M315 138.5h1M108 136.5h1M326 314.5h1M289 145.5h1M384 139.5h1M211 155.5h1M216 150.5h1M138 150.5h1M354 307.5h1M141 150.5h1M395 278.5h1M337 299.5h1M339 309.5h1M370 343.5h1M172 133.5h1M367 302.5h1M118 147.5h1M131 341.5h1M179 141.5h1M185 124.5h1M280 148.5h1M320 329.5h1M387 300.5h1M379 296.5h1M396 320.5h1M325 145.5h1M393 80.5h1M124 331.5h1M385 325.5h1M174 321.5h1M374 81.5h1M384 280.5h1M377 294.5h1M402 83.5h1M140 158.5h1M303 143.5h1M144 154.5h1M312 150.5h1M290 332.5h1M350 116.5h1M154 150.5h1M344 150.5h1M309 345.5h1M346 345.5h1M133 153.5h1M127 336.5h1M325 313.5h1M169 140.5h1M131 344.5h1M320 148.5h1M156 124.5h1M384 286.5h1M375 323.5h1M128 124.5h1M122 337.5h1M99 332.5h1M172 318.5h1M158 153.5h1M372 329.5h1M135 341.5h1M105 151.5h1M315 144.5h1M385 297.5h1M184 317.5h1M165 139.5h1M170 141.5h1M96 341.5h1M129 340.5h1M179 137.5h1M301 149.5h1M176 304.5h1M370 326.5h1M335 331.5h1M384 301.5h1M342 102.5h1M116 330.5h1M373 312.5h1M292 143.5h1M201 311.5h1M364 330.5h1M182 323.5h1M205 132.5h1M311 126.5h1M334 314.5h1M366 310.5h1M350 326.5h1M174 325.5h1M115 153.5h1M150 149.5h1M184 140.5h1M166 132.5h1M133 157.5h1M197 334.5h1M179 121.5h1M278 121.5h1M185 154.5h1M141 147.5h1M98 327.5h1M196 112.5h1M129 157.5h1M115 148.5h1M323 94.5h1M397 289.5h1M309 327.5h1M321 338.5h1M185 312.5h1M123 330.5h1M320 332.5h1M196 109.5h1M217 110.5h1M164 125.5h1M384 283.5h1M176 333.5h1M148 147.5h1M385 299.5h1M383 82.5h1M330 147.5h1M102 340.5h1M348 343.5h1M180 332.5h1M158 337.5h1M130 314.5h1M373 101.5h1M118 331.5h1M287 130.5h1M346 297.5h1M185 109.5h1M284 131.5h1M349 341.5h1M322 147.5h1M115 149.5h1M330 331.5h1M380 307.5h1M305 332.5h1M177 117.5h1M335 111.5h1M349 333.5h1M147 336.5h1M376 278.5h1M285 123.5h1M365 96.5h1M336 340.5h1M147 132.5h1M114 160.5h1M106 156.5h1M315 114.5h1M145 121.5h1M375 290.5h1M117 142.5h1M108 147.5h1M327 328.5h1M274 145.5h1M404 324.5h1M385 302.5h1M368 87.5h1M285 333.5h1M155 321.5h1M313 143.5h1M114 335.5h1M282 151.5h1M106 327.5h1M130 153.5h1M130 156.5h1M374 296.5h1M213 325.5h1M200 118.5h1M133 150.5h1M391 326.5h1M339 154.5h1M179 302.5h1M294 341.5h1M363 285.5h1M186 330.5h1M384 332.5h1M291 155.5h1M190 296.5h1M188 328.5h1M402 302.5h1M147 147.5h1M310 148.5h1M294 308.5h1M347 333.5h1M132 333.5h1M163 129.5h1M382 84.5h1M198 110.5h1M319 140.5h1M300 310.5h1M121 337.5h1M178 152.5h1M192 117.5h1M294 144.5h1M284 331.5h1M104 336.5h1M120 155.5h1M124 150.5h1M133 151.5h1M387 302.5h1M329 337.5h1M152 145.5h1M138 149.5h1M149 338.5h1M319 325.5h1M125 333.5h1M105 335.5h1M329 326.5h1M123 131.5h1M313 306.5h1M310 150.5h1M187 310.5h1M109 160.5h1M283 128.5h1M297 330.5h1M337 338.5h1M166 123.5h1M161 310.5h1M360 143.5h1M192 149.5h1M380 314.5h1M284 313.5h1M285 116.5h1M175 156.5h1M319 137.5h1M352 99.5h1M349 108.5h1M159 131.5h1M163 319.5h1M351 120.5h1M391 101.5h1M300 148.5h1M370 289.5h1M143 133.5h1M404 91.5h1M119 150.5h1M130 151.5h1M364 333.5h1M190 120.5h1M381 292.5h1M205 324.5h1M277 332.5h1M115 326.5h1M96 329.5h1M364 293.5h1M147 337.5h1M312 133.5h1M105 147.5h1M100 333.5h1M191 153.5h1M304 150.5h1M368 290.5h1M298 307.5h1M117 328.5h1M389 87.5h1M170 119.5h1M172 142.5h1M161 331.5h1M395 298.5h1M151 123.5h1M318 322.5h1M188 112.5h1M174 150.5h1M186 151.5h1M395 78.5h1M122 335.5h1M178 318.5h1M406 80.5h1M126 340.5h1M375 83.5h1M292 140.5h1M288 111.5h1M338 142.5h1M408 296.5h1M187 301.5h1M128 147.5h1M173 330.5h1M186 141.5h1M151 332.5h1M298 305.5h1M355 330.5h1M286 131.5h1M388 309.5h1M349 330.5h1M372 314.5h1M285 143.5h1M207 113.5h1M142 333.5h1M305 152.5h1M335 340.5h1M395 333.5h1M198 162.5h1M189 305.5h1M402 279.5h1M357 154.5h1M166 153.5h1M363 310.5h1M121 319.5h1M353 338.5h1M130 340.5h1M173 138.5h1M279 309.5h1M175 306.5h1M275 137.5h1M139 335.5h1M367 296.5h1M209 144.5h1M275 143.5h1M167 116.5h1M327 333.5h1M342 330.5h1M161 146.5h1M397 274.5h1M375 327.5h1M355 335.5h1M360 92.5h1M155 147.5h1M337 153.5h1M111 345.5h1M324 330.5h1M379 79.5h1M139 340.5h1M384 310.5h1M351 98.5h1M179 118.5h1M137 336.5h1M154 155.5h1M317 110.5h1M371 332.5h1M385 89.5h1M389 326.5h1M152 147.5h1M357 317.5h1M194 303.5h1M344 323.5h1M107 150.5h1M147 154.5h1M206 310.5h1M192 157.5h1M196 324.5h1M368 91.5h1M394 295.5h1M331 327.5h1M103 161.5h1M144 336.5h1M397 82.5h1M104 329.5h1M110 347.5h1M329 329.5h1M338 147.5h1M358 329.5h1M334 329.5h1M293 329.5h1M390 295.5h1M147 302.5h1M362 300.5h1M373 311.5h1M378 333.5h1M383 101.5h1M132 342.5h1M327 306.5h1M145 142.5h1M188 125.5h1M133 337.5h1M168 335.5h1M123 331.5h1M164 127.5h1M377 104.5h1M365 309.5h1M335 333.5h1M380 313.5h1M407 291.5h1M312 340.5h1M313 319.5h1M169 338.5h1M387 310.5h1M307 338.5h1M282 128.5h1M184 148.5h1M163 307.5h1M120 146.5h1M112 337.5h1M126 156.5h1M146 150.5h1M289 142.5h1M122 330.5h1M135 147.5h1M383 305.5h1M364 298.5h1M148 303.5h1M197 306.5h1M355 98.5h1M394 88.5h1M189 128.5h1M118 150.5h1M308 329.5h1M164 336.5h1M370 84.5h1M141 340.5h1M371 99.5h1M173 320.5h1M209 334.5h1M190 327.5h1M144 334.5h1M360 308.5h1M176 133.5h1M399 82.5h1M158 340.5h1M405 272.5h1M187 313.5h1M183 132.5h1M150 158.5h1M124 335.5h1M140 329.5h1M309 137.5h1M181 326.5h1M202 314.5h1M331 331.5h1M174 135.5h1M287 120.5h1M350 329.5h1M103 135.5h1M284 336.5h1M197 124.5h1M171 150.5h1M325 308.5h1M371 339.5h1M181 156.5h1M121 153.5h1M355 105.5h1M179 145.5h1M175 146.5h1M310 333.5h1M126 151.5h1M107 144.5h1M142 306.5h1M326 345.5h1M327 97.5h1M336 309.5h1M316 152.5h1M295 328.5h1M195 309.5h1M115 159.5h1M152 336.5h1M213 133.5h1M178 324.5h1M167 149.5h1M379 89.5h1M149 327.5h1M194 121.5h1M365 314.5h1M340 331.5h1M111 343.5h1M278 125.5h1M157 150.5h1M147 334.5h1M322 123.5h1M169 152.5h1M104 152.5h1M152 137.5h1M378 312.5h1M191 151.5h1M118 152.5h1M131 345.5h1M147 155.5h1M184 325.5h1M162 154.5h1M167 152.5h1M383 332.5h1M190 108.5h1M133 132.5h1M354 335.5h1M300 333.5h1M186 119.5h1M323 329.5h1M192 313.5h1M172 317.5h1M378 331.5h1M153 156.5h1M124 154.5h1M100 339.5h1M182 103.5h1M387 95.5h1M345 333.5h1M373 291.5h1M397 294.5h1M139 317.5h1M125 160.5h1M379 283.5h1M170 320.5h1M144 331.5h1M160 126.5h1M345 311.5h1M178 302.5h1M389 132.5h1M137 158.5h1M303 332.5h1M198 133.5h1M199 128.5h1M393 69.5h1M286 329.5h1M361 302.5h1M171 311.5h1M159 133.5h1M114 333.5h1M405 275.5h1M150 329.5h1M180 95.5h1M389 86.5h1M197 296.5h1M122 155.5h1M282 137.5h1M194 334.5h1M302 302.5h1M320 150.5h1M126 329.5h1M165 307.5h1M309 320.5h1M402 81.5h1M378 101.5h1M116 331.5h1M288 334.5h1M391 78.5h1M391 286.5h1M123 158.5h1M304 132.5h1M187 316.5h1M135 336.5h1M349 156.5h1M370 90.5h1M107 137.5h1M362 339.5h1M149 146.5h1M347 146.5h1M122 148.5h1M301 327.5h1M322 331.5h1M177 122.5h1M367 291.5h1M340 336.5h1M212 127.5h1M276 137.5h1M121 159.5h1M315 327.5h1M160 330.5h1M92 146.5h1M135 319.5h1M160 324.5h1M383 297.5h1M186 318.5h1M169 123.5h1M316 331.5h1M351 297.5h1M133 307.5h1M121 333.5h1M148 153.5h1M206 315.5h1M119 334.5h1M388 103.5h1M167 324.5h1M122 150.5h1M154 327.5h1M325 121.5h1M307 152.5h1M170 308.5h1M173 148.5h1M408 300.5h1M379 93.5h1M118 155.5h1M304 149.5h1M195 315.5h1M337 334.5h1M314 334.5h1M197 115.5h1M201 306.5h1M347 113.5h1M318 148.5h1M375 297.5h1M358 94.5h1M119 143.5h1M400 88.5h1M378 90.5h1M382 279.5h1M370 96.5h1M168 307.5h1M348 326.5h1M358 308.5h1M401 301.5h1M186 125.5h1M312 136.5h1M298 145.5h1M131 331.5h1M361 313.5h1M282 138.5h1M118 149.5h1M171 127.5h1M376 291.5h1M300 331.5h1M403 81.5h1M119 157.5h1M302 145.5h1M319 313.5h1M372 93.5h1M374 90.5h1M394 287.5h1M146 144.5h1M367 98.5h1M167 121.5h1M151 340.5h1M286 130.5h1M126 155.5h1M332 121.5h1M180 123.5h1M163 157.5h1M161 131.5h1M146 156.5h1M400 328.5h1M399 306.5h1M275 132.5h1M129 316.5h1M322 131.5h1M191 142.5h1M382 100.5h1M158 147.5h1M394 289.5h1M192 323.5h1M377 84.5h1M293 141.5h1M301 124.5h1M205 336.5h1M284 329.5h1M395 87.5h1M330 140.5h1M280 336.5h1M196 316.5h1M347 327.5h1M373 297.5h1M100 327.5h1M136 153.5h1M148 133.5h1M370 103.5h1M121 323.5h1M141 145.5h1M168 132.5h1M200 141.5h1M164 151.5h1M281 119.5h1M287 335.5h1M120 160.5h1M367 81.5h1M154 157.5h1M133 131.5h1M388 280.5h1M129 336.5h1M370 89.5h1M294 145.5h1M351 290.5h1M213 148.5h1M360 94.5h1M114 139.5h1M350 332.5h1M158 155.5h1M376 96.5h1M169 315.5h1M147 156.5h1M214 110.5h1M390 87.5h1M197 113.5h1M135 144.5h1M372 91.5h1M125 164.5h1M181 134.5h1M128 150.5h1M132 126.5h1M383 83.5h1M301 150.5h1M149 334.5h1M282 327.5h1M331 325.5h1M125 155.5h1M316 325.5h1M345 331.5h1M138 158.5h1M142 149.5h1M341 88.5h1M194 127.5h1M334 334.5h1M395 313.5h1M333 321.5h1M286 145.5h1M359 321.5h1M371 315.5h1M103 311.5h1M335 145.5h1M389 305.5h1M134 140.5h1M154 322.5h1M165 318.5h1M156 321.5h1M181 303.5h1M350 148.5h1M307 147.5h1M292 329.5h1M359 288.5h1M133 154.5h1M352 331.5h1M295 144.5h1M400 293.5h1M388 291.5h1M160 155.5h1M376 300.5h1M126 334.5h1M184 127.5h1M350 104.5h1M207 134.5h1M162 135.5h1M329 141.5h1M108 342.5h1M360 260.5h1M305 153.5h1M151 328.5h1M179 128.5h1M398 89.5h1M330 300.5h1M127 344.5h1M154 324.5h1M285 126.5h1M192 319.5h1M172 158.5h1M363 86.5h1M287 116.5h1M305 145.5h1M176 309.5h1M110 334.5h1M375 291.5h1M176 336.5h1M186 310.5h1M356 148.5h1M161 149.5h1M93 153.5h1M129 158.5h1M335 328.5h1M172 156.5h1M127 156.5h1M165 316.5h1M403 91.5h1M343 301.5h1M321 334.5h1M129 152.5h1M173 309.5h1M380 154.5h1M122 343.5h1M178 321.5h1M363 93.5h1M203 342.5h1M352 335.5h1M381 69.5h1M179 135.5h1M150 330.5h1M113 150.5h1M316 332.5h1M141 336.5h1M168 147.5h1M302 331.5h1M378 338.5h1M340 93.5h1M224 158.5h1M301 328.5h1M209 130.5h1M389 308.5h1M163 148.5h1M105 154.5h1M185 106.5h1M140 154.5h1M285 335.5h1M376 330.5h1M167 131.5h1M141 347.5h1M337 312.5h1M282 299.5h1M137 151.5h1M392 308.5h1M121 150.5h1M333 334.5h1M387 106.5h1M388 87.5h1M314 336.5h1M119 339.5h1M297 153.5h1M214 321.5h1M127 152.5h1M285 132.5h1M380 294.5h1M282 329.5h1M139 147.5h1M364 148.5h1M404 300.5h1M376 335.5h1M142 147.5h1M128 153.5h1M186 145.5h1M367 102.5h1M324 148.5h1M128 154.5h1M376 90.5h1M304 135.5h1M148 131.5h1M365 88.5h1M382 305.5h1M127 155.5h1M297 143.5h1M331 330.5h1M394 303.5h1M126 148.5h1M134 331.5h1M368 298.5h1M117 331.5h1M151 125.5h1M331 114.5h1M379 313.5h1M366 92.5h1M195 123.5h1M184 322.5h1M329 332.5h1M152 149.5h1M318 325.5h1M299 328.5h1M294 331.5h1M193 306.5h1M196 126.5h1M327 335.5h1M332 338.5h1M105 332.5h1M134 330.5h1M191 150.5h1M397 285.5h1M367 87.5h1M392 302.5h1M321 336.5h1M155 150.5h1M190 125.5h1M121 146.5h1M400 275.5h1M401 281.5h1M356 338.5h1M393 92.5h1M103 331.5h1M293 309.5h1M203 324.5h1M309 139.5h1M197 332.5h1M130 336.5h1M392 320.5h1M115 143.5h1M196 117.5h1M320 120.5h1M160 146.5h1M363 147.5h1M298 334.5h1M188 321.5h1M391 337.5h1M287 127.5h1M376 108.5h1M122 161.5h1M378 137.5h1M187 125.5h1M313 148.5h1M309 142.5h1M181 115.5h1M171 313.5h1M160 147.5h1M373 92.5h1M385 288.5h1M404 305.5h1M386 326.5h1M339 145.5h1M353 314.5h1M195 131.5h1M389 99.5h1M318 156.5h1M145 337.5h1M349 100.5h1M316 336.5h1M133 326.5h1M389 287.5h1M178 150.5h1M165 328.5h1M273 148.5h1M376 121.5h1M172 121.5h1M362 150.5h1M388 97.5h1M409 271.5h1M297 147.5h1M167 312.5h1M179 326.5h1M371 147.5h1M168 331.5h1M361 295.5h1M380 86.5h1M190 119.5h1M367 288.5h1M129 338.5h1M93 334.5h1M318 145.5h1M381 281.5h1M342 337.5h1M371 81.5h1M205 289.5h1M393 297.5h1M370 282.5h1M132 320.5h1M352 332.5h1M126 338.5h1M104 153.5h1M367 334.5h1M116 134.5h1M158 151.5h1M377 301.5h1M123 155.5h1M125 156.5h1M133 152.5h1M287 135.5h1M386 87.5h1M202 119.5h1M198 310.5h1M147 145.5h1M149 323.5h1M387 321.5h1M322 146.5h1M131 155.5h1M193 150.5h1M284 139.5h1M352 96.5h1M290 328.5h1M352 300.5h1M209 145.5h1M295 137.5h1M341 332.5h1M391 93.5h1M199 131.5h1M197 302.5h1M189 320.5h1M149 318.5h1M382 289.5h1M121 148.5h1M112 131.5h1M358 103.5h1M158 327.5h1M133 306.5h1M136 147.5h1M325 153.5h1M368 89.5h1M122 153.5h1M344 340.5h1M118 338.5h1M369 338.5h1M346 334.5h1M152 161.5h1M128 156.5h1M100 169.5h1M162 329.5h1M170 144.5h1M379 101.5h1M344 336.5h1M375 113.5h1M394 278.5h1M366 149.5h1M334 103.5h1M199 302.5h1M365 295.5h1M139 158.5h1M366 311.5h1M129 327.5h1M108 148.5h1M300 142.5h1M212 140.5h1M402 77.5h1M190 320.5h1M308 141.5h1M372 331.5h1M177 132.5h1M357 110.5h1M139 151.5h1M377 279.5h1M121 329.5h1M115 312.5h1M376 287.5h1M149 320.5h1M118 153.5h1M157 302.5h1M201 312.5h1M371 87.5h1M277 132.5h1M328 97.5h1M293 311.5h1M339 298.5h1M203 311.5h1M332 337.5h1M127 150.5h1M117 148.5h1M179 133.5h1M196 338.5h1M386 97.5h1M350 122.5h1M344 311.5h1M346 329.5h1M195 133.5h1M292 122.5h1M99 138.5h1M344 329.5h1M330 154.5h1M115 344.5h1M373 306.5h1M375 280.5h1M390 297.5h1M174 130.5h1M165 123.5h1M125 340.5h1M158 140.5h1M353 333.5h1M369 335.5h1M203 315.5h1M183 328.5h1M194 345.5h1M324 334.5h1M137 316.5h1M129 332.5h1M120 153.5h1M322 333.5h1M371 328.5h1M203 305.5h1M159 149.5h1M118 162.5h1M105 333.5h1M94 147.5h1M292 151.5h1M394 305.5h1M125 151.5h1M163 332.5h1M328 332.5h1M337 336.5h1M93 149.5h1M174 144.5h1M328 331.5h1M370 329.5h1M304 151.5h1M185 122.5h1M205 327.5h1M295 140.5h1M169 318.5h1M320 109.5h1M377 340.5h1M283 326.5h1M169 137.5h1M338 144.5h1M356 149.5h1M180 329.5h1M213 142.5h1M193 106.5h1M179 126.5h1M373 287.5h1M127 314.5h1M199 144.5h1M111 146.5h1M359 306.5h1M160 124.5h1M278 304.5h1M186 324.5h1M179 140.5h1M183 121.5h1M382 90.5h1M297 328.5h1M178 325.5h1M104 317.5h1M131 343.5h1M370 102.5h1M102 152.5h1M204 299.5h1M351 309.5h1M281 92.5h1M168 314.5h1M278 336.5h1M401 277.5h1M201 303.5h1M362 313.5h1M294 140.5h1M142 335.5h1M130 148.5h1M390 278.5h1M335 158.5h1M199 308.5h1M155 152.5h1M339 105.5h1M177 127.5h1M281 106.5h1M284 300.5h1M128 307.5h1M350 339.5h1M205 136.5h1M129 331.5h1M159 132.5h1M159 321.5h1M369 101.5h1M182 318.5h1M198 102.5h1M363 288.5h1M394 86.5h1M390 285.5h1M132 158.5h1M343 324.5h1M334 332.5h1M324 344.5h1M114 338.5h1M196 154.5h1M358 328.5h1M368 104.5h1M99 316.5h1M183 134.5h1M120 326.5h1M132 152.5h1M331 334.5h1M278 140.5h1M332 323.5h1M316 150.5h1M190 122.5h1M392 325.5h1M113 151.5h1M152 331.5h1M393 330.5h1M141 151.5h1M157 331.5h1M395 310.5h1M361 85.5h1M309 324.5h1M324 335.5h1M334 327.5h1M328 330.5h1M129 342.5h1M167 337.5h1M177 312.5h1M116 144.5h1M150 323.5h1M326 329.5h1M113 161.5h1M380 339.5h1M318 147.5h1M291 111.5h1M346 328.5h1M173 156.5h1M359 336.5h1M168 337.5h1M308 148.5h1M154 335.5h1M109 330.5h1M287 132.5h1M146 124.5h1M191 141.5h1M307 154.5h1M167 160.5h1M410 277.5h1M386 286.5h1M157 329.5h1M167 137.5h1M131 153.5h1M372 90.5h1M387 85.5h1M347 337.5h1M370 305.5h1M184 332.5h1M202 309.5h1M274 143.5h1M119 333.5h1M337 146.5h1M347 299.5h1M132 160.5h1M177 118.5h1M323 97.5h1M350 290.5h1M289 149.5h1M369 83.5h1M333 145.5h1M149 155.5h1M210 144.5h1M375 97.5h1M351 108.5h1M382 319.5h1M111 149.5h1M175 106.5h1M175 323.5h1M398 61.5h1M343 338.5h1M126 150.5h1M327 336.5h1M387 299.5h1M377 292.5h1M120 335.5h1M156 152.5h1M138 133.5h1M189 112.5h1M407 99.5h1M317 136.5h1M394 306.5h1M329 155.5h1M126 328.5h1M351 90.5h1M189 154.5h1M211 325.5h1M331 343.5h1M121 156.5h1M162 305.5h1M369 95.5h1M199 313.5h1M166 151.5h1M132 338.5h1M193 298.5h1M163 114.5h1M169 309.5h1M365 300.5h1M112 150.5h1M276 141.5h1M122 160.5h1M186 126.5h1M103 149.5h1M344 330.5h1M275 134.5h1M369 318.5h1M375 310.5h1M361 310.5h1M302 147.5h1M310 315.5h1M371 100.5h1M146 330.5h1M299 119.5h1M164 334.5h1M194 131.5h1M374 144.5h1M174 310.5h1M149 149.5h1M177 316.5h1M300 306.5h1M185 326.5h1M112 315.5h1M157 311.5h1M292 335.5h1M368 78.5h1M114 152.5h1M387 311.5h1M281 131.5h1M153 324.5h1M129 333.5h1M183 149.5h1M381 297.5h1M127 328.5h1M158 328.5h1M362 335.5h1M150 335.5h1M362 285.5h1M367 89.5h1M139 129.5h1M153 337.5h1M116 155.5h1M376 325.5h1M192 145.5h1M129 143.5h1M197 300.5h1M171 128.5h1M95 330.5h1M155 327.5h1M401 65.5h1M125 144.5h1M175 122.5h1M137 333.5h1M200 298.5h1M342 309.5h1M114 134.5h1M322 126.5h1M362 152.5h1M374 303.5h1M190 146.5h1M143 318.5h1M156 331.5h1M366 328.5h1M142 328.5h1M405 285.5h1M175 133.5h1M200 307.5h1M167 145.5h1M369 293.5h1M173 147.5h1M379 84.5h1M277 321.5h1M318 334.5h1M395 86.5h1M187 137.5h1M296 159.5h1M337 111.5h1M181 146.5h1M403 288.5h1M194 132.5h1M391 308.5h1M379 104.5h1M121 152.5h1M348 108.5h1M100 138.5h1M193 339.5h1M362 290.5h1M151 120.5h1M337 333.5h1M127 148.5h1M326 302.5h1M300 329.5h1M172 314.5h1M142 337.5h1M195 126.5h1M103 330.5h1M146 132.5h1M328 158.5h1M281 147.5h1M144 157.5h1M283 153.5h1M179 334.5h1M169 148.5h1M222 309.5h1M131 330.5h1M320 145.5h1M312 302.5h1M147 158.5h1M381 316.5h1M333 142.5h1M378 94.5h1M386 283.5h1M323 147.5h1M354 309.5h1M99 149.5h1M287 148.5h1M142 157.5h1M280 321.5h1M292 141.5h1M153 149.5h1M388 98.5h1M306 139.5h1M295 329.5h1M360 82.5h1M374 95.5h1M193 322.5h1M134 143.5h1M381 306.5h1M173 303.5h1M330 338.5h1M340 332.5h1M364 300.5h1M385 91.5h1M364 92.5h1M167 314.5h1M323 341.5h1M300 143.5h1M301 329.5h1M324 328.5h1M375 152.5h1M351 103.5h1M354 101.5h1M377 90.5h1M174 149.5h1M331 341.5h1M340 334.5h1M320 142.5h1M183 330.5h1M130 326.5h1M334 341.5h1M199 109.5h1M326 105.5h1M157 328.5h1M184 313.5h1M304 305.5h1M184 135.5h1M154 336.5h1M123 341.5h1M361 95.5h1M370 321.5h1M135 332.5h1M146 141.5h1M191 314.5h1M390 276.5h1M159 145.5h1M118 154.5h1M103 344.5h1M94 335.5h1M161 335.5h1M190 151.5h1M172 315.5h1M141 339.5h1M129 334.5h1M332 328.5h1M320 337.5h1M309 301.5h1M324 336.5h1M195 306.5h1M179 120.5h1M187 300.5h1M344 103.5h1M299 327.5h1M317 141.5h1M371 337.5h1M200 299.5h1M142 342.5h1M166 326.5h1M184 133.5h1M165 144.5h1M211 329.5h1M130 139.5h1M384 62.5h1M293 142.5h1M165 333.5h1M360 79.5h1M162 323.5h1M203 138.5h1M382 301.5h1M342 117.5h1M209 325.5h1M157 151.5h1M206 123.5h1M162 304.5h1M386 297.5h1M317 137.5h1M401 103.5h1M139 343.5h1M305 135.5h1M384 85.5h1M333 325.5h1M126 314.5h1M337 329.5h1M333 333.5h1M113 157.5h1M155 151.5h1M295 143.5h1M163 334.5h1M357 92.5h1M181 153.5h1M115 130.5h1M319 135.5h1M404 287.5h1M182 127.5h1M395 295.5h1M292 127.5h1M315 140.5h1M185 125.5h1M291 151.5h1M105 330.5h1M162 332.5h1M100 155.5h1M138 334.5h1M191 306.5h1M330 336.5h1M162 322.5h1M170 309.5h1M219 315.5h1M193 308.5h1M169 116.5h1M106 150.5h1M141 331.5h1M293 139.5h1M386 298.5h1M392 337.5h1M134 152.5h1M144 332.5h1M289 148.5h1M337 103.5h1M124 133.5h1M368 311.5h1M332 340.5h1M351 336.5h1M280 131.5h1M394 91.5h1M104 149.5h1M190 318.5h1M123 343.5h1M340 338.5h1M372 82.5h1M364 338.5h1M363 337.5h1M381 82.5h1M130 313.5h1M179 311.5h1M132 335.5h1M135 125.5h1M183 123.5h1M124 160.5h1M211 134.5h1M303 150.5h1M193 310.5h1M285 140.5h1M344 321.5h1M143 159.5h1M195 320.5h1M353 114.5h1M359 330.5h1M188 331.5h1M207 126.5h1M281 127.5h1M325 159.5h1M300 117.5h1M184 137.5h1M361 147.5h1M407 296.5h1M213 328.5h1M171 328.5h1M184 329.5h1M165 315.5h1M155 333.5h1M293 135.5h1M142 148.5h1M105 331.5h1M123 150.5h1M164 141.5h1M193 292.5h1M188 139.5h1M201 125.5h1M189 317.5h1M200 316.5h1M303 139.5h1M339 335.5h1M363 329.5h1M298 136.5h1M306 324.5h1M393 280.5h1M326 334.5h1M387 288.5h1M200 314.5h1M117 159.5h1M385 328.5h1M176 130.5h1M295 149.5h1M356 289.5h1M142 130.5h1M308 138.5h1M167 118.5h1M364 305.5h1M180 312.5h1M127 149.5h1M185 144.5h1M109 338.5h1M184 334.5h1M176 149.5h1M143 327.5h1M193 314.5h1M134 150.5h1M355 102.5h1M182 306.5h1M129 310.5h1M312 157.5h1M293 121.5h1M125 336.5h1M364 93.5h1M274 141.5h1M297 303.5h1M280 121.5h1M165 150.5h1M155 145.5h1M135 123.5h1M392 297.5h1M162 333.5h1M169 154.5h1M191 132.5h1M155 346.5h1M133 336.5h1M179 324.5h1M393 304.5h1M142 144.5h1M126 330.5h1M312 151.5h1M164 310.5h1M117 128.5h1M125 145.5h1M368 302.5h1M354 143.5h1M137 340.5h1M116 149.5h1M363 314.5h1M400 289.5h1M313 112.5h1M151 156.5h1M183 318.5h1M147 335.5h1M126 162.5h1M374 325.5h1M155 148.5h1M193 321.5h1M395 99.5h1M199 150.5h1M160 144.5h1M155 118.5h1M311 139.5h1M366 99.5h1M333 332.5h1M332 307.5h1M105 152.5h1M330 337.5h1M349 285.5h1M369 304.5h1M332 146.5h1M186 335.5h1M190 313.5h1M293 330.5h1M407 329.5h1M276 140.5h1M320 341.5h1M359 332.5h1M399 316.5h1M151 330.5h1M374 304.5h1M142 120.5h1M300 314.5h1M131 159.5h1M366 295.5h1M368 97.5h1M110 155.5h1M309 340.5h1M404 290.5h1M128 151.5h1M317 118.5h1M172 308.5h1M388 148.5h1M169 153.5h1M124 329.5h1M118 151.5h1M187 147.5h1M212 132.5h1M308 143.5h1M169 328.5h1M284 119.5h1M305 131.5h1M296 113.5h1M378 83.5h1M367 86.5h1M121 320.5h1M303 312.5h1M123 153.5h1M392 324.5h1M110 332.5h1M331 117.5h1M351 328.5h1M387 326.5h1M298 340.5h1M143 149.5h1M161 144.5h1M173 126.5h1M124 148.5h1M291 330.5h1M188 155.5h1M326 337.5h1M190 317.5h1M217 159.5h1M393 307.5h1M141 161.5h1M365 328.5h1M103 134.5h1M112 128.5h1M386 285.5h1M153 331.5h1M113 148.5h1M194 298.5h1M183 309.5h1M105 131.5h1M160 120.5h1M323 143.5h1M164 133.5h1M182 132.5h1M366 298.5h1M363 145.5h1M171 115.5h1M181 139.5h1M355 326.5h1M377 73.5h1M287 108.5h1M395 88.5h1M373 97.5h1M175 139.5h1M307 335.5h1M337 307.5h1M175 124.5h1M310 135.5h1M375 93.5h1M184 132.5h1M165 317.5h1M145 305.5h1M313 336.5h1M299 109.5h1M339 329.5h1M332 109.5h1M175 317.5h1M189 322.5h1M324 110.5h1M207 135.5h1M282 114.5h1M361 98.5h1M149 336.5h1M315 149.5h1M142 329.5h1M319 144.5h1M373 309.5h1M151 329.5h1M181 329.5h1M298 329.5h1M118 336.5h1M355 333.5h1M299 141.5h1M345 313.5h1M179 303.5h1M182 319.5h1M404 82.5h1M167 316.5h1M388 283.5h1M220 152.5h1M126 331.5h1M186 320.5h1M177 112.5h1M101 141.5h1M397 84.5h1M162 328.5h1M354 90.5h1M370 334.5h1M277 333.5h1M286 140.5h1M316 138.5h1M302 123.5h1M144 342.5h1M377 291.5h1M394 314.5h1M330 153.5h1M171 155.5h1M376 297.5h1M392 298.5h1M155 335.5h1M121 338.5h1M360 101.5h1M393 300.5h1M165 336.5h1M396 291.5h1M354 118.5h1M118 329.5h1M172 332.5h1M119 146.5h1M312 139.5h1M349 309.5h1M341 328.5h1M320 339.5h1M391 79.5h1M378 292.5h1M163 161.5h1M313 145.5h1M363 339.5h1M117 154.5h1M282 342.5h1M399 155.5h1M394 285.5h1M364 306.5h1M102 149.5h1M322 133.5h1M403 291.5h1M384 307.5h1M366 87.5h1M193 117.5h1M384 336.5h1M119 147.5h1M306 142.5h1M125 327.5h1M406 295.5h1M152 329.5h1M110 335.5h1M401 87.5h1M165 321.5h1M195 325.5h1M297 149.5h1M179 312.5h1M286 311.5h1M368 299.5h1M363 87.5h1M191 144.5h1M171 146.5h1M323 141.5h1M153 332.5h1M400 96.5h1M195 307.5h1M192 307.5h1M158 342.5h1M127 340.5h1M355 318.5h1M318 146.5h1M277 139.5h1M330 108.5h1M167 333.5h1M370 330.5h1M344 332.5h1M116 335.5h1M291 145.5h1M387 102.5h1M365 104.5h1M401 297.5h1M393 316.5h1M128 158.5h1M94 148.5h1M156 328.5h1M308 140.5h1M293 326.5h1M156 131.5h1M186 309.5h1M392 283.5h1M301 132.5h1M185 337.5h1M132 331.5h1M139 149.5h1M340 326.5h1M409 292.5h1M321 146.5h1M179 301.5h1M170 142.5h1M331 91.5h1M137 147.5h1M174 131.5h1M109 162.5h1M299 329.5h1M176 119.5h1M202 326.5h1M353 146.5h1M130 338.5h1M150 141.5h1M336 138.5h1M332 326.5h1M151 318.5h1M172 309.5h1M195 128.5h1M108 334.5h1M189 137.5h1M362 98.5h1M283 320.5h1M169 303.5h1M96 155.5h1M205 131.5h1M371 296.5h1M378 84.5h1M326 307.5h1M370 314.5h1M124 152.5h1M123 146.5h1M345 118.5h1M154 141.5h1M183 333.5h1M399 84.5h1M348 103.5h1M201 118.5h1M183 321.5h1M204 117.5h1M137 314.5h1M377 302.5h1M201 314.5h1M360 110.5h1M111 129.5h1M391 85.5h1M177 308.5h1M169 134.5h1M107 153.5h1M384 295.5h1M119 152.5h1M187 117.5h1M194 319.5h1M299 339.5h1M205 320.5h1M183 143.5h1M139 326.5h1M307 149.5h1M202 139.5h1M175 329.5h1M335 319.5h1M132 154.5h1M409 329.5h1M383 84.5h1M399 335.5h1M198 312.5h1M142 313.5h1M159 136.5h1M387 277.5h1M323 336.5h1M201 307.5h1M147 328.5h1M141 158.5h1M123 140.5h1M165 132.5h1M298 137.5h1M187 126.5h1M278 130.5h1M171 334.5h1M375 294.5h1M203 146.5h1M338 338.5h1M168 134.5h1M376 101.5h1M390 283.5h1M353 99.5h1M188 121.5h1M390 280.5h1M301 336.5h1M174 116.5h1M339 143.5h1M315 97.5h1M317 120.5h1M136 333.5h1M399 307.5h1M329 139.5h1M278 113.5h1M140 306.5h1M127 144.5h1M177 330.5h1M282 122.5h1M339 326.5h1M188 319.5h1M178 135.5h1M340 327.5h1M287 142.5h1M120 156.5h1M154 146.5h1M379 107.5h1M118 323.5h1M362 97.5h1M332 299.5h1M210 148.5h1M170 338.5h1M172 319.5h1M395 315.5h1M206 329.5h1M297 139.5h1M121 155.5h1M192 120.5h1M347 334.5h1M387 294.5h1M161 328.5h1M221 157.5h1M391 294.5h1M178 339.5h1M293 153.5h1M304 313.5h1M137 146.5h1M164 142.5h1M108 341.5h1M166 319.5h1M130 329.5h1M307 123.5h1M290 322.5h1M302 151.5h1M150 153.5h1M118 146.5h1M385 279.5h1M365 90.5h1M379 85.5h1M369 283.5h1M356 159.5h1M290 307.5h1M362 327.5h1M161 123.5h1M97 330.5h1M184 136.5h1M205 301.5h1M368 329.5h1M348 314.5h1M314 143.5h1M214 151.5h1M374 87.5h1M154 333.5h1M390 331.5h1M110 158.5h1M328 328.5h1M197 319.5h1M207 132.5h1M144 151.5h1M202 328.5h1M319 107.5h1M405 77.5h1M351 319.5h1M173 311.5h1M405 277.5h1M141 338.5h1M197 110.5h1M392 278.5h1M320 334.5h1M183 146.5h1M146 331.5h1M152 151.5h1M179 319.5h1M334 320.5h1M404 301.5h1M172 116.5h1M386 304.5h1M376 317.5h1M342 308.5h1M351 330.5h1M387 87.5h1M312 331.5h1M188 325.5h1M117 330.5h1M142 154.5h1M277 336.5h1M399 92.5h1M171 318.5h1M137 329.5h1M386 308.5h1M207 133.5h1M121 339.5h1M369 295.5h1M394 150.5h1M198 127.5h1M187 304.5h1M400 301.5h1M306 338.5h1M344 97.5h1M334 342.5h1M112 151.5h1M180 298.5h1M407 335.5h1M383 306.5h1M201 317.5h1M314 150.5h1M178 334.5h1M329 340.5h1M329 313.5h1M388 304.5h1M213 154.5h1M175 314.5h1M375 79.5h1M100 315.5h1M381 289.5h1M330 326.5h1M400 80.5h1M142 314.5h1M289 333.5h1M152 333.5h1M384 77.5h1M181 330.5h1M316 153.5h1M180 129.5h1M149 150.5h1M158 336.5h1M373 282.5h1M177 321.5h1M349 82.5h1M123 154.5h1M341 93.5h1M393 296.5h1M305 132.5h1M369 309.5h1M355 328.5h1M203 298.5h1M185 333.5h1M148 334.5h1M164 329.5h1M308 152.5h1M147 323.5h1M393 299.5h1M299 143.5h1M355 91.5h1M361 99.5h1M370 285.5h1M389 284.5h1M175 118.5h1M122 156.5h1M173 322.5h1M164 154.5h1M361 100.5h1M380 299.5h1M95 154.5h1M338 333.5h1M371 286.5h1M369 302.5h1M188 133.5h1M306 148.5h1M359 96.5h1M170 325.5h1M145 148.5h1M279 117.5h1M363 304.5h1M167 327.5h1M296 138.5h1M183 319.5h1M157 333.5h1M345 342.5h1M120 157.5h1M369 296.5h1M112 335.5h1M295 330.5h1M197 157.5h1M112 145.5h1M369 89.5h1M120 320.5h1M182 148.5h1M334 324.5h1M346 333.5h1M286 118.5h1M367 143.5h1M313 335.5h1M167 294.5h1M155 116.5h1M114 329.5h1M102 137.5h1M330 148.5h1M199 122.5h1M130 157.5h1M99 329.5h1M402 98.5h1M193 337.5h1M380 296.5h1M275 141.5h1M293 146.5h1M392 305.5h1M340 329.5h1M330 156.5h1M374 291.5h1M206 325.5h1M161 330.5h1M324 326.5h1M299 144.5h1M206 124.5h1M97 329.5h1M374 326.5h1M137 343.5h1M167 139.5h1M381 79.5h1M389 152.5h1M168 131.5h1M203 135.5h1M339 141.5h1M284 114.5h1M182 141.5h1M396 91.5h1M100 326.5h1M323 150.5h1M394 82.5h1M405 290.5h1M164 331.5h1M177 134.5h1M331 337.5h1M353 98.5h1M354 328.5h1M382 79.5h1M178 148.5h1M176 343.5h1M125 330.5h1M339 151.5h1M366 329.5h1M318 304.5h1M156 327.5h1M304 144.5h1M362 288.5h1M380 147.5h1M201 141.5h1M336 325.5h1M394 307.5h1M92 145.5h1M304 336.5h1M338 110.5h1M344 326.5h1M292 333.5h1M145 334.5h1M116 150.5h1M360 286.5h1M133 125.5h1M390 289.5h1M317 149.5h1M132 156.5h1M368 93.5h1" stroke="#4e4ee8" stroke-width="1" fill="none"/>
<g filter="url(#bl)">
<path d="M98.2 148.5L156.3 152Q158.1 153.8 156.3 155.6L98.2 159.1A5.3 5.3 0 0 1 98.2 148.5Z" fill="#3a4aff" fill-opacity="0.4"/>
<path d="M96.6 147.6L140.9 150Q144.7 153.8 140.9 157.6L96.6 160Q92.9 160 92.9 156.3L92.9 151.3Q92.9 147.6 96.6 147.6Z" fill="#3350ff"/>
<path d="M96.7 148.4L128.9 150.5Q132.2 153.8 128.9 157.1L96.7 159.2Q93.5 159.2 93.5 156L93.5 151.6Q93.5 148.4 96.7 148.4Z" fill="#2090ff"/>
<path d="M96.9 149.2L118.9 150.9Q121.8 153.8 118.9 156.7L96.9 158.4Q94.1 158.4 94.1 155.6L94.1 152Q94.1 149.2 96.9 149.2Z" fill="#10d0f0"/>
<path d="M97.1 149.7L113.9 151.3Q116.4 153.8 113.9 156.3L97.1 157.9Q94.6 157.9 94.6 155.4L94.6 152.2Q94.6 149.7 97.1 149.7Z" fill="#30e8b0"/>
<path d="M97.3 150L111.4 151.4Q113.8 153.8 111.4 156.2L97.3 157.6Q95 157.6 95 155.3L95 152.3Q95 150 97.3 150Z" fill="#60ea50"/>
<path d="M97.4 150.5L104.9 151.8Q106.9 153.8 104.9 155.8L97.4 157.1Q95.4 157.1 95.4 155.1L95.4 152.5Q95.4 150.5 97.4 150.5Z" fill="#b0ea20"/>
<path d="M97.6 150.8L101.9 151.9Q103.8 153.8 101.9 155.7L97.6 156.8Q95.8 156.8 95.8 155L95.8 152.6Q95.8 150.8 97.6 150.8Z" fill="#f0d000"/>
<path d="M97.5 151.4L99.9 152.3Q101.4 153.8 99.9 155.3L97.5 156.2Q96.1 156.2 96.1 154.8L96.1 152.8Q96.1 151.4 97.5 151.4Z" fill="#ff8000"/>
<path d="M97.2 152.1L98.4 152.7Q99.5 153.8 98.4 154.9L97.2 155.5Q96.4 155.5 96.4 154.7L96.4 152.9Q96.4 152.1 97.2 152.1Z" fill="#ff2000"/>
</g>
<g filter="url(#bl)">
<path d="M281.7 140.3L343 145Q345.6 147.6 343 150.2L281.7 154.9A7.3 7.3 0 0 1 281.7 140.3Z" fill="#3a4aff" fill-opacity="0.4"/>
<path d="M279.6 139L326.4 142.3Q331.7 147.6 326.4 152.9L279.6 156.2Q274.4 156.2 274.4 151L274.4 144.2Q274.4 139 279.6 139Z" fill="#3350ff"/>
<path d="M279.6 140L319.4 142.9Q324.1 147.6 319.4 152.3L279.6 155.2Q275 155.2 275 150.6L275 144.6Q275 140 279.6 140Z" fill="#2090ff"/>
<path d="M279.6 141L314.4 143.5Q318.5 147.6 314.4 151.7L279.6 154.2Q275.6 154.2 275.6 150.2L275.6 145Q275.6 141 279.6 141Z" fill="#10d0f0"/>
<path d="M279.5 142L310.4 144.1Q313.9 147.6 310.4 151.1L279.5 153.2Q276.1 153.2 276.1 149.8L276.1 145.4Q276.1 142 279.5 142Z" fill="#30e8b0"/>
<path d="M279.4 142.7L304.4 144.6Q307.4 147.6 304.4 150.6L279.4 152.5Q276.5 152.5 276.5 149.6L276.5 145.6Q276.5 142.7 279.4 142.7Z" fill="#60ea50"/>
<path d="M279.5 143.3L294.4 144.9Q297.1 147.6 294.4 150.3L279.5 151.9Q276.9 151.9 276.9 149.3L276.9 145.9Q276.9 143.3 279.5 143.3Z" fill="#b0ea20"/>
<path d="M279.5 143.9L288.4 145.3Q290.7 147.6 288.4 149.9L279.5 151.3Q277.3 151.3 277.3 149.1L277.3 146.1Q277.3 143.9 279.5 143.9Z" fill="#f0d000"/>
<path d="M279.4 144.6L284.4 145.7Q286.3 147.6 284.4 149.5L279.4 150.6Q277.6 150.6 277.6 148.8L277.6 146.4Q277.6 144.6 279.4 144.6Z" fill="#ff8000"/>
<path d="M279.2 145.5L281.9 146.3Q283.2 147.6 281.9 148.9L279.2 149.7Q277.9 149.7 277.9 148.4L277.9 146.8Q277.9 145.5 279.2 145.5Z" fill="#ff2000"/>
</g>
<g filter="url(#bl)">
<path d="M97.9 331.5L160.2 334.7Q162 336.5 160.2 338.3L97.9 341.5A5 5 0 0 1 97.9 331.5Z" fill="#3a4aff" fill-opacity="0.4"/>
<path d="M96.4 330.6L143.9 332.8Q147.6 336.5 143.9 340.2L96.4 342.4Q92.9 342.4 92.9 338.9L92.9 334.1Q92.9 330.6 96.4 330.6Z" fill="#3350ff"/>
<path d="M96.6 331.3L130.9 333.3Q134.1 336.5 130.9 339.7L96.6 341.7Q93.5 341.7 93.5 338.6L93.5 334.4Q93.5 331.3 96.6 331.3Z" fill="#2090ff"/>
<path d="M96.8 332L120.9 333.7Q123.7 336.5 120.9 339.3L96.8 341Q94.1 341 94.1 338.3L94.1 334.7Q94.1 332 96.8 332Z" fill="#10d0f0"/>
<path d="M97 332.5L114.9 334Q117.4 336.5 114.9 339L97 340.5Q94.6 340.5 94.6 338.1L94.6 334.9Q94.6 332.5 97 332.5Z" fill="#30e8b0"/>
<path d="M97.3 332.7L111.4 334.1Q113.8 336.5 111.4 338.9L97.3 340.3Q95 340.3 95 338L95 335Q95 332.7 97.3 332.7Z" fill="#60ea50"/>
<path d="M97.4 333.2L104.9 334.5Q106.9 336.5 104.9 338.5L97.4 339.8Q95.4 339.8 95.4 337.8L95.4 335.2Q95.4 333.2 97.4 333.2Z" fill="#b0ea20"/>
<path d="M97.6 333.5L101.9 334.6Q103.8 336.5 101.9 338.4L97.6 339.5Q95.8 339.5 95.8 337.7L95.8 335.3Q95.8 333.5 97.6 333.5Z" fill="#f0d000"/>
<path d="M97.5 334.1L99.9 335Q101.4 336.5 99.9 338L97.5 338.9Q96.1 338.9 96.1 337.5L96.1 335.5Q96.1 334.1 97.5 334.1Z" fill="#ff8000"/>
<path d="M97.4 334.8L98.9 335.4Q100 336.5 98.9 337.6L97.4 338.2Q96.4 338.2 96.4 337.2L96.4 335.8Q96.4 334.8 97.4 334.8Z" fill="#ff2000"/>
</g>
<g filter="url(#bl)">
<path d="M281.2 328.9L355.8 332.8Q357.9 334.9 355.8 337L281.2 340.8A6 6 0 0 1 281.2 328.9Z" fill="#3a4aff" fill-opacity="0.4"/>
<path d="M279.5 327.9L336.3 330.6Q340.6 334.9 336.3 339.2L279.5 341.9Q275.3 341.9 275.3 337.7L275.3 332.1Q275.3 327.9 279.5 327.9Z" fill="#3350ff"/>
<path d="M279.6 328.7L326.3 331.1Q330.1 334.9 326.3 338.7L279.6 341.1Q275.9 341.1 275.9 337.4L275.9 332.4Q275.9 328.7 279.6 328.7Z" fill="#2090ff"/>
<path d="M279.7 329.6L319.3 331.6Q322.6 334.9 319.3 338.2L279.7 340.2Q276.5 340.2 276.5 337L276.5 332.8Q276.5 329.6 279.7 329.6Z" fill="#10d0f0"/>
<path d="M279.9 330.1L313.3 331.9Q316.3 334.9 313.3 337.9L279.9 339.7Q277 339.7 277 336.8L277 333Q277 330.1 279.9 330.1Z" fill="#30e8b0"/>
<path d="M280 330.5L305.3 332.2Q308 334.9 305.3 337.6L280 339.3Q277.4 339.3 277.4 336.7L277.4 333.1Q277.4 330.5 280 330.5Z" fill="#60ea50"/>
<path d="M280.1 331L297.3 332.5Q299.7 334.9 297.3 337.3L280.1 338.8Q277.8 338.8 277.8 336.5L277.8 333.3Q277.8 331 280.1 331Z" fill="#b0ea20"/>
<path d="M280.2 331.5L292.3 332.8Q294.4 334.9 292.3 337L280.2 338.3Q278.2 338.3 278.2 336.3L278.2 333.5Q278.2 331.5 280.2 331.5Z" fill="#f0d000"/>
<path d="M280.2 332.1L284.3 333.2Q286 334.9 284.3 336.6L280.2 337.7Q278.5 337.7 278.5 336L278.5 333.8Q278.5 332.1 280.2 332.1Z" fill="#ff8000"/>
<path d="M279.9 333L282.3 333.7Q283.5 334.9 282.3 336.1L279.9 336.8Q278.8 336.8 278.8 335.7L278.8 334.1Q278.8 333 279.9 333Z" fill="#ff2000"/>
</g>
<path d="M105 25.4V195.4 M59.3 143H229.4" stroke="#2a2a2a" stroke-width="1.4" fill="none"/>
<g font-size="7" fill="#161616" stroke="#161616" stroke-width="0.14">
<text x="61.9" y="38.1">Q1</text>
<text x="61.9" y="48.2">0.11</text>
<text x="215.3" y="38.1" text-anchor="end">Treg</text>
<text x="215.3" y="48.2" text-anchor="end">5.32</text>
<text x="61.9" y="177.9">Q4</text>
<text x="61.9" y="187.9">60.8</text>
<text x="215.3" y="177.9" text-anchor="end">Q3</text>
<text x="215.3" y="187.9" text-anchor="end">33.8</text>
</g>
<path d="M288.5 24.5V194.4 M239.5 142.5H409.8" stroke="#2a2a2a" stroke-width="1.4" fill="none"/>
<g font-size="7" fill="#161616" stroke="#161616" stroke-width="0.14">
<text x="242.1" y="37.2">Q1</text>
<text x="242.1" y="47.3">2.68</text>
<text x="395.7" y="37.2" text-anchor="end">Treg</text>
<text x="395.7" y="47.3" text-anchor="end">7.52</text>
<text x="242.1" y="176.9">Q4</text>
<text x="242.1" y="186.9">52.8</text>
<text x="395.7" y="176.9" text-anchor="end">Q3</text>
<text x="395.7" y="186.9" text-anchor="end">37.0</text>
</g>
<path d="M108.1 206.5V378.4 M58.5 326H230.4" stroke="#2a2a2a" stroke-width="1.4" fill="none"/>
<g font-size="7" fill="#161616" stroke="#161616" stroke-width="0.14">
<text x="61.1" y="219.2">Q1</text>
<text x="61.1" y="229.3">0.11</text>
<text x="216.3" y="219.2" text-anchor="end">Treg</text>
<text x="216.3" y="229.3" text-anchor="end">2.80</text>
<text x="61.1" y="360.9">Q4</text>
<text x="61.1" y="370.9">70.8</text>
<text x="216.3" y="360.9" text-anchor="end">Q3</text>
<text x="216.3" y="370.9" text-anchor="end">26.3</text>
</g>
<path d="M286.2 207.5V378.5 M240.5 326H411.8" stroke="#2a2a2a" stroke-width="1.4" fill="none"/>
<g font-size="7" fill="#161616" stroke="#161616" stroke-width="0.14">
<text x="243.1" y="220.2">Q1</text>
<text x="243.1" y="230.3">0.45</text>
<text x="397.7" y="220.2" text-anchor="end">Treg</text>
<text x="397.7" y="230.3" text-anchor="end">8.42</text>
<text x="243.1" y="361">Q4</text>
<text x="243.1" y="371">40.0</text>
<text x="397.7" y="361" text-anchor="end">Q3</text>
<text x="397.7" y="371" text-anchor="end">51.1</text>
</g>
<text x="1.2" y="8.6" font-size="15">a</text>
<text x="142" y="17.4" font-size="14.7" text-anchor="middle">PBS</text>
<text x="289.5" y="17.4" font-size="14.9" text-anchor="middle">LPS-PG</text>
<text transform="translate(11.2,97.4) rotate(-90)" font-size="14.7" text-anchor="middle">Spleen</text>
<text transform="translate(10.9,252.8) rotate(-90)" font-size="14.6" text-anchor="middle">Blood</text>
<text transform="translate(28,343) rotate(-90)" font-size="14.5" text-anchor="middle">Foxp3-PE</text>
<text x="106.3" y="415" font-size="15" text-anchor="middle">CD25-APC</text>
<path d="M23.8 301V40" stroke="#5c5c5c" stroke-width="2"/>
<path d="M23.8 31.8 L19.9 40.2 L27.7 40.2 Z" fill="#5c5c5c"/>
<path d="M154.2 409.3H401" stroke="#5c5c5c" stroke-width="2"/>
<path d="M409.5 409.3 L401 405.4 L401 413.2 Z" fill="#5c5c5c"/>
<path d="M497.5 174V117H557.8V174" stroke="#0000ff" stroke-width="2.2" fill="none"/>
<path d="M591.5 174V86H651.8V174" stroke="#ff0000" stroke-width="2.2" fill="none"/>
<path d="M527.9 131.2V100.3 M512.3 100.3H543.4 M512.3 131.2H543.4" stroke="#0000ff" stroke-width="1.6" fill="none"/>
<path d="M621.5 99.9V70.4 M606.1 70.4H637 M606.1 99.9H637" stroke="#ff0000" stroke-width="1.6" fill="none"/>
<circle cx="527.9" cy="94.6" r="3.3" fill="#0000ff"/>
<circle cx="519.1" cy="113.2" r="3.3" fill="#0000ff"/>
<circle cx="536.6" cy="112.9" r="3.3" fill="#0000ff"/>
<circle cx="527.9" cy="119.9" r="3.3" fill="#0000ff"/>
<circle cx="527.9" cy="137.6" r="3.3" fill="#0000ff"/>
<rect x="618.2" y="56.2" width="6.6" height="6.6" fill="#ff0000"/>
<rect x="605.1" y="86.3" width="6.6" height="6.6" fill="#ff0000"/>
<rect x="613.8" y="91.5" width="6.6" height="6.6" fill="#ff0000"/>
<rect x="622.7" y="90.4" width="6.6" height="6.6" fill="#ff0000"/>
<rect x="631.5" y="84.3" width="6.6" height="6.6" fill="#ff0000"/>
<path d="M465.8 27.9V174H685.5" stroke="#000" stroke-width="1.5" fill="none"/>
<path d="M465.8 28.6h-4.4M465.8 64.9h-4.4M465.8 101.2h-4.4M465.8 137.6h-4.4M465.8 174h-4.4M528 174v4.4M621.3 174v4.4" stroke="#000" stroke-width="1.5"/>
<text x="459.6" y="32.4" font-size="10.5" font-weight="bold" text-anchor="end">12</text>
<text x="459.6" y="68.7" font-size="10.5" font-weight="bold" text-anchor="end">10</text>
<text x="459.6" y="105" font-size="10.5" font-weight="bold" text-anchor="end">8</text>
<text x="459.6" y="141.4" font-size="10.5" font-weight="bold" text-anchor="end">6</text>
<text x="459.6" y="177.8" font-size="10.5" font-weight="bold" text-anchor="end">4</text>
<text x="528" y="190" font-size="11" font-weight="bold" text-anchor="middle">PBS</text>
<text x="621.3" y="190" font-size="11" font-weight="bold" text-anchor="middle">LPS-PG</text>
<text transform="translate(441.2,101.2) rotate(-90)" font-size="12.2" font-weight="bold" text-anchor="middle">Treg/CD4 (%)</text>
<text x="471.6" y="31.4" font-size="11.6" font-weight="bold">Spleen</text>
<path d="M527.9 80.7V41.1H621.6" stroke="#000" stroke-width="1.9" fill="none"/>
<path d="M621.6 40.1V48.3" stroke="#000" stroke-width="1.9" fill="none"/>
<text x="573" y="38.3" font-size="19.5" font-weight="bold" text-anchor="middle">*</text>
<path d="M497 390.3V316.1H557.5V390.3" stroke="#0000ff" stroke-width="2.2" fill="none"/>
<path d="M591 390.3V284.1H651.8V390.3" stroke="#ff0000" stroke-width="2.2" fill="none"/>
<path d="M527.2 333.2V296.2 M511.8 296.2H542.9 M511.8 333.2H542.9" stroke="#0000ff" stroke-width="1.6" fill="none"/>
<path d="M621.5 290.8V276.4 M606.2 276.4H636.9 M606.2 290.8H636.9" stroke="#ff0000" stroke-width="1.6" fill="none"/>
<circle cx="527.2" cy="292.5" r="3.3" fill="#0000ff"/>
<circle cx="527.2" cy="303.4" r="3.3" fill="#0000ff"/>
<circle cx="522.8" cy="315.6" r="3.3" fill="#0000ff"/>
<circle cx="531.7" cy="319.3" r="3.3" fill="#0000ff"/>
<circle cx="527.2" cy="341.7" r="3.3" fill="#0000ff"/>
<rect x="618.2" y="272.1" width="6.6" height="6.6" fill="#ff0000"/>
<rect x="609.1" y="277.5" width="6.6" height="6.6" fill="#ff0000"/>
<rect x="626.9" y="277.5" width="6.6" height="6.6" fill="#ff0000"/>
<rect x="618.2" y="282" width="6.6" height="6.6" fill="#ff0000"/>
<rect x="618.2" y="291.7" width="6.6" height="6.6" fill="#ff0000"/>
<path d="M464.6 242.3V390.3H685.5" stroke="#000" stroke-width="1.5" fill="none"/>
<path d="M464.6 243.1h-4.4M464.6 272.6h-4.4M464.6 302h-4.4M464.6 331.5h-4.4M464.6 360.9h-4.4M464.6 390.3h-4.4M527.2 390.3v4.4M621.4 390.3v4.4" stroke="#000" stroke-width="1.5"/>
<text x="458.4" y="246.9" font-size="10.5" font-weight="bold" text-anchor="end">10</text>
<text x="458.4" y="276.4" font-size="10.5" font-weight="bold" text-anchor="end">8</text>
<text x="458.4" y="305.8" font-size="10.5" font-weight="bold" text-anchor="end">6</text>
<text x="458.4" y="335.3" font-size="10.5" font-weight="bold" text-anchor="end">4</text>
<text x="458.4" y="364.7" font-size="10.5" font-weight="bold" text-anchor="end">2</text>
<text x="458.4" y="394.1" font-size="10.5" font-weight="bold" text-anchor="end">0</text>
<text x="527.2" y="406.3" font-size="11" font-weight="bold" text-anchor="middle">PBS</text>
<text x="621.4" y="406.3" font-size="11" font-weight="bold" text-anchor="middle">LPS-PG</text>
<text transform="translate(440.4,317) rotate(-90)" font-size="12.2" font-weight="bold" text-anchor="middle">Treg/CD4 (%)</text>
<text x="476" y="247.8" font-size="11.6" font-weight="bold">Blood</text>
<path d="M526.7 278.4V247.5H621.5" stroke="#000" stroke-width="1.9" fill="none"/>
<path d="M621.5 246.6V261.7" stroke="#000" stroke-width="1.9" fill="none"/>
<text x="572.7" y="246.3" font-size="19.5" font-weight="bold" text-anchor="middle">**</text>
<path d="M121.9 644.4V561.5H189.9V644.4" stroke="#0000ff" stroke-width="2.8" fill="none"/>
<path d="M227.3 644.4V528.2H295.9V644.4" stroke="#ff0000" stroke-width="2.8" fill="none"/>
<path d="M155.8 576.8V544.3 M138.6 544.3H173.3 M138.6 576.8H173.3" stroke="#0000ff" stroke-width="1.9" fill="none"/>
<path d="M261.5 542.9V510.5 M244 510.5H278.7 M244 542.9H278.7" stroke="#ff0000" stroke-width="1.9" fill="none"/>
<circle cx="155.8" cy="539.3" r="3.6" fill="#0000ff"/>
<circle cx="146.1" cy="560.4" r="3.6" fill="#0000ff"/>
<circle cx="165.5" cy="554" r="3.6" fill="#0000ff"/>
<circle cx="155.8" cy="563.7" r="3.6" fill="#0000ff"/>
<circle cx="155.8" cy="584.5" r="3.6" fill="#0000ff"/>
<rect x="257.9" y="500.5" width="7.2" height="7.2" fill="#ff0000"/>
<rect x="257.9" y="511.9" width="7.2" height="7.2" fill="#ff0000"/>
<rect x="247.9" y="531" width="7.2" height="7.2" fill="#ff0000"/>
<rect x="257.9" y="536.6" width="7.2" height="7.2" fill="#ff0000"/>
<rect x="267.6" y="535.7" width="7.2" height="7.2" fill="#ff0000"/>
<path d="M85.3 478.9V644.4H332.7" stroke="#000" stroke-width="1.8" fill="none"/>
<path d="M85.3 479.8h-4.4M85.3 520.9h-4.4M85.3 562.1h-4.4M85.3 603.1h-4.4M85.3 644.2h-4.4M156.1 644.4v4.4M261.3 644.4v4.4" stroke="#000" stroke-width="1.8"/>
<text x="79.1" y="484.2" font-size="12.2" font-weight="bold" text-anchor="end">400</text>
<text x="79.1" y="525.3" font-size="12.2" font-weight="bold" text-anchor="end">300</text>
<text x="79.1" y="566.5" font-size="12.2" font-weight="bold" text-anchor="end">200</text>
<text x="79.1" y="607.5" font-size="12.2" font-weight="bold" text-anchor="end">100</text>
<text x="79.1" y="648.6" font-size="12.2" font-weight="bold" text-anchor="end">0</text>
<text x="156.1" y="662.3" font-size="12" font-weight="bold" text-anchor="middle">PBS</text>
<text x="261.3" y="662.3" font-size="12" font-weight="bold" text-anchor="middle">LPS-PG</text>
<text transform="translate(50.8,562.1) rotate(-90)" font-size="13.3" font-weight="bold" text-anchor="middle">IL-10 (pg/ml)</text>
<path d="M156 523.5V477H261.5" stroke="#000" stroke-width="1.9" fill="none"/>
<path d="M261.5 476.1V491" stroke="#000" stroke-width="1.9" fill="none"/>
<text x="185.5" y="474.2" font-size="19.5" font-weight="bold" text-anchor="middle">*</text>
<text x="1.2" y="457" font-size="15">b</text>
<path d="M38.6 740.1V914.9H300.3" stroke="#000" stroke-width="1.6" fill="none"/>
<path d="M38.6 740.9h-4.6M38.6 784.4h-4.6M38.6 827.9h-4.6M38.6 871.4h-4.6M38.6 914.9h-4.6M38.6 914.9v4.6M104.1 914.9v4.6M169.6 914.9v4.6M235.1 914.9v4.6M300.6 914.9v4.6" stroke="#000" stroke-width="1.6"/>
<text x="32" y="745.3" font-size="12" font-weight="bold" text-anchor="end">4</text>
<text x="32" y="788.8" font-size="12" font-weight="bold" text-anchor="end">3</text>
<text x="32" y="832.3" font-size="12" font-weight="bold" text-anchor="end">2</text>
<text x="32" y="875.8" font-size="12" font-weight="bold" text-anchor="end">1</text>
<text x="32" y="919.3" font-size="12" font-weight="bold" text-anchor="end">0</text>
<text x="38.6" y="934.1" font-size="12" font-weight="bold" text-anchor="middle">4</text>
<text x="104.1" y="934.1" font-size="12" font-weight="bold" text-anchor="middle">6</text>
<text x="169.6" y="934.1" font-size="12" font-weight="bold" text-anchor="middle">8</text>
<text x="235.1" y="934.1" font-size="12" font-weight="bold" text-anchor="middle">10</text>
<text x="300.6" y="934.1" font-size="12" font-weight="bold" text-anchor="middle">12</text>
<path d="M103.6 772.2L243.8 907" stroke="#000" stroke-width="1.7"/>
<circle cx="103.6" cy="758.7" r="3.7" fill="#0000ff"/>
<circle cx="136.3" cy="758.2" r="3.7" fill="#0000ff"/>
<circle cx="145.9" cy="822.5" r="3.7" fill="#0000ff"/>
<circle cx="148" cy="831.6" r="3.7" fill="#0000ff"/>
<circle cx="181" cy="861.5" r="3.7" fill="#0000ff"/>
<rect x="176.7" y="856" width="7.2" height="7.2" fill="#ff0000"/>
<rect x="179" y="862.5" width="7.2" height="7.2" fill="#ff0000"/>
<rect x="185.5" y="850.2" width="7.2" height="7.2" fill="#ff0000"/>
<rect x="189.5" y="881.7" width="7.2" height="7.2" fill="#ff0000"/>
<rect x="240.2" y="863.9" width="7.2" height="7.2" fill="#ff0000"/>
<text x="69" y="748.3" font-size="15.5"><tspan font-style="italic">p</tspan>&lt;0.01</text>
<text x="168.8" y="954.1" font-size="14.3" font-weight="bold" text-anchor="middle">Spleen Treg/CD4 (%)</text>
<text transform="translate(16.7,827.9) rotate(-90)" font-size="14.3" font-weight="bold" text-anchor="middle">Cre (mg/dl)</text>
<circle cx="228" cy="751.2" r="3.9" fill="#0000ff"/>
<rect x="224.2" y="770.6" width="7.6" height="7.6" fill="#ff0000"/>
<text x="249.2" y="757.5" font-size="15.7">PBS</text>
<text x="249.2" y="780.1" font-size="15.7">LPS-PG</text>
<text x="1.5" y="708.7" font-size="16">c</text>
<path d="M392.1 734.9V910.7H654.6" stroke="#000" stroke-width="2.3" fill="none"/>
<path d="M392.1 736h-4.6M392.1 779.7h-4.6M392.1 823.4h-4.6M392.1 867h-4.6M392.1 910.7h-4.6M392.1 910.7v4.6M444.2 910.7v4.6M496.3 910.7v4.6M548.4 910.7v4.6M600.5 910.7v4.6M652.6 910.7v4.6" stroke="#000" stroke-width="2.3"/>
<text x="385.5" y="740.4" font-size="12" font-weight="bold" text-anchor="end">4</text>
<text x="385.5" y="784.1" font-size="12" font-weight="bold" text-anchor="end">3</text>
<text x="385.5" y="827.8" font-size="12" font-weight="bold" text-anchor="end">2</text>
<text x="385.5" y="871.4" font-size="12" font-weight="bold" text-anchor="end">1</text>
<text x="385.5" y="915.1" font-size="12" font-weight="bold" text-anchor="end">0</text>
<text x="392.1" y="929.9" font-size="12" font-weight="bold" text-anchor="middle">0</text>
<text x="444.2" y="929.9" font-size="12" font-weight="bold" text-anchor="middle">2</text>
<text x="496.3" y="929.9" font-size="12" font-weight="bold" text-anchor="middle">4</text>
<text x="548.4" y="929.9" font-size="12" font-weight="bold" text-anchor="middle">6</text>
<text x="600.5" y="929.9" font-size="12" font-weight="bold" text-anchor="middle">8</text>
<text x="652.6" y="929.9" font-size="12" font-weight="bold" text-anchor="middle">10</text>
<path d="M479.3 749.5L595.9 875.7" stroke="#000" stroke-width="1.9"/>
<circle cx="478.6" cy="754.2" r="3.7" fill="#0000ff"/>
<circle cx="519" cy="753.4" r="3.7" fill="#0000ff"/>
<circle cx="524.8" cy="826.8" r="3.7" fill="#0000ff"/>
<circle cx="547.3" cy="818.2" r="3.7" fill="#0000ff"/>
<circle cx="566.2" cy="857.3" r="3.7" fill="#0000ff"/>
<rect x="558.5" y="851.6" width="7.2" height="7.2" fill="#ff0000"/>
<rect x="575.5" y="845.6" width="7.2" height="7.2" fill="#ff0000"/>
<rect x="584.2" y="859.7" width="7.2" height="7.2" fill="#ff0000"/>
<rect x="592.8" y="858" width="7.2" height="7.2" fill="#ff0000"/>
<rect x="584.2" y="877.2" width="7.2" height="7.2" fill="#ff0000"/>
<text x="440.3" y="738.3" font-size="15.5"><tspan font-style="italic">p</tspan>&lt;0.001</text>
<text x="523.2" y="949.7" font-size="14.3" font-weight="bold" text-anchor="middle">Blood Treg/CD4 (%)</text>
<text transform="translate(370.7,823.1) rotate(-90)" font-size="14.3" font-weight="bold" text-anchor="middle">Cre (mg/dl)</text>
<circle cx="589.1" cy="751.2" r="3.9" fill="#0000ff"/>
<rect x="585.3" y="770.6" width="7.6" height="7.6" fill="#ff0000"/>
<text x="610.5" y="757.5" font-size="15.7">PBS</text>
<text x="610.5" y="780.1" font-size="15.7">LPS-PG</text>
<text x="359.3" y="708.6" font-size="16">d</text>
</svg>
</body></html>
